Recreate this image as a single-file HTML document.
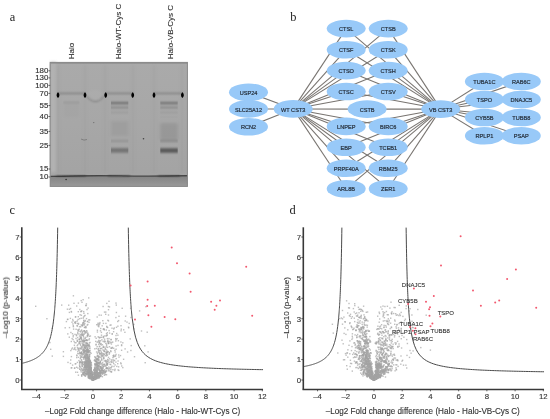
<!DOCTYPE html>
<html><head><meta charset='utf-8'><style>
html,body{margin:0;padding:0;background:#fff;width:550px;height:419px;overflow:hidden}
svg{display:block;will-change:transform}
</style></head><body>
<svg width='550' height='419' viewBox='0 0 550 419'>
<defs><filter id='gblur' x='0' y='0' width='100%' height='100%' filterUnits='userSpaceOnUse'><feGaussianBlur stdDeviation='0.3'/></filter></defs>
<g filter='url(#gblur)'>
<rect width='550' height='419' fill='#fff'/>
<text x='9.8' y='20.8' font-family='"Liberation Serif", serif' font-size='12.4' fill='#222'>a</text><text transform='translate(73.9,59.3) rotate(-90)' font-family='"Liberation Sans", sans-serif' font-size='8' fill='#333' stroke='#333' stroke-width='0.12'>Halo</text><text transform='translate(121.2,59.3) rotate(-90)' font-family='"Liberation Sans", sans-serif' font-size='8' fill='#333' stroke='#333' stroke-width='0.12'>Halo-WT-Cys C</text><text transform='translate(172.5,59.3) rotate(-90)' font-family='"Liberation Sans", sans-serif' font-size='8' fill='#333' stroke='#333' stroke-width='0.12'>Halo-VB-Cys C</text><defs><filter id='b1' x='-20%' y='-50%' width='140%' height='200%'><feGaussianBlur stdDeviation='0.9'/></filter><filter id='b2' x='-20%' y='-50%' width='140%' height='200%'><feGaussianBlur stdDeviation='1.6'/></filter><filter id='b3' x='-5%' y='-5%' width='110%' height='110%'><feGaussianBlur stdDeviation='0.45'/></filter><filter id='b5' x='-20%' y='-100%' width='140%' height='300%'><feGaussianBlur stdDeviation='0.7 1.0'/></filter><filter id='b4' x='-50%' y='-50%' width='200%' height='200%'><feGaussianBlur stdDeviation='0.35'/></filter><linearGradient id='botg' x1='0' y1='0' x2='0' y2='1'><stop offset='0' stop-color='#848484'/><stop offset='1' stop-color='#999'/></linearGradient><linearGradient id='gelg' x1='0' y1='0' x2='0' y2='1'><stop offset='0' stop-color='#aaaaaa'/><stop offset='0.5' stop-color='#a7a7a7'/><stop offset='1' stop-color='#a3a3a3'/></linearGradient></defs><g filter='url(#b3)'><rect x='50.2' y='62.4' width='137.2' height='124.0' fill='url(#gelg)'/><rect x='50.2' y='62.4' width='6' height='110.0' fill='#b2b2b2' filter='url(#b2)'/><g filter='url(#b2)' opacity='0.45'><rect x='57.2' y='65.4' width='1.6' height='108.0' fill='#9a9a9a'/><rect x='84.2' y='65.4' width='1.6' height='108.0' fill='#9a9a9a'/><rect x='104.2' y='65.4' width='1.6' height='108.0' fill='#9a9a9a'/><rect x='132.2' y='65.4' width='1.6' height='108.0' fill='#9a9a9a'/><rect x='153.2' y='65.4' width='1.6' height='108.0' fill='#9a9a9a'/><rect x='181.2' y='65.4' width='1.6' height='108.0' fill='#9a9a9a'/></g><rect x='50.2' y='176.4' width='137.2' height='10.0' fill='url(#botg)'/><path d='M50.2 176.4 Q90 175.4 120 175.9 T187.4 175.8' stroke='#444' stroke-width='1.4' fill='none'/><rect x='56' y='175.2' width='30' height='1.3' fill='#000' fill-opacity='0.35' filter='url(#b1)'/><rect x='108' y='175.2' width='22' height='1.3' fill='#000' fill-opacity='0.35' filter='url(#b1)'/><rect x='158' y='175.2' width='22' height='1.3' fill='#000' fill-opacity='0.35' filter='url(#b1)'/><rect x='50.2' y='62.4' width='137.2' height='1.6' fill='#000' fill-opacity='0.12'/><rect x='50.2' y='62.4' width='137.2' height='124.0' fill='none' stroke='#888' stroke-width='1'/></g><g filter='url(#b1)'><rect x='58' y='92.9' width='27' height='1' fill='#6a6a6a'/><rect x='105.7' y='92.9' width='26.999999999999986' height='1' fill='#6a6a6a'/><rect x='154' y='92.9' width='28.400000000000006' height='1' fill='#6a6a6a'/><ellipse cx='95' cy='95' rx='8' ry='5' fill='#fff' fill-opacity='0.035'/><path d='M87 96 Q95.5 106.5 103.5 96' stroke='#000' stroke-opacity='0.2' stroke-width='1.8' fill='none'/></g><g filter='url(#b4)'><path d='M58 92.3 C59.6 93.6 60.1 96.6 58 97.9 C55.9 96.6 56.4 93.6 58 92.3Z' fill='#000'/><path d='M85 92.3 C86.6 93.6 87.1 96.6 85 97.9 C82.9 96.6 83.4 93.6 85 92.3Z' fill='#000'/><path d='M105.7 92.3 C107.3 93.6 107.8 96.6 105.7 97.9 C103.60000000000001 96.6 104.10000000000001 93.6 105.7 92.3Z' fill='#000'/><path d='M132.7 92.3 C134.29999999999998 93.6 134.79999999999998 96.6 132.7 97.9 C130.6 96.6 131.1 93.6 132.7 92.3Z' fill='#000'/><path d='M154 92.3 C155.6 93.6 156.1 96.6 154 97.9 C151.9 96.6 152.4 93.6 154 92.3Z' fill='#000'/><path d='M182.4 92.3 C184.0 93.6 184.5 96.6 182.4 97.9 C180.3 96.6 180.8 93.6 182.4 92.3Z' fill='#000'/></g><g filter='url(#b5)'><rect x='63.4' y='101.9' width='15.899999999999999' height='1.2' fill='#000' fill-opacity='0.13'/><rect x='111' y='102.3' width='17.30000000000001' height='1.6' fill='#000' fill-opacity='0.46'/><rect x='111' y='106.85' width='17.30000000000001' height='1.3' fill='#000' fill-opacity='0.28'/><rect x='111' y='112.0' width='17.30000000000001' height='1.0' fill='#000' fill-opacity='0.13'/><rect x='111' y='140.15' width='17.30000000000001' height='1.5' fill='#000' fill-opacity='0.17'/><rect x='111' y='148.1' width='17.30000000000001' height='4.6' fill='#000' fill-opacity='0.3'/><rect x='160.3' y='102.3' width='17.399999999999977' height='1.6' fill='#000' fill-opacity='0.44'/><rect x='160.3' y='106.85' width='17.399999999999977' height='1.3' fill='#000' fill-opacity='0.28'/><rect x='160.3' y='112.0' width='17.399999999999977' height='1.0' fill='#000' fill-opacity='0.13'/><rect x='160.3' y='116.5' width='17.399999999999977' height='1.0' fill='#000' fill-opacity='0.06'/><rect x='160.3' y='140.1' width='17.399999999999977' height='1.6' fill='#000' fill-opacity='0.22'/><rect x='160.3' y='148.2' width='17.399999999999977' height='4.6' fill='#000' fill-opacity='0.46'/></g><g filter='url(#b2)'><rect x='64' y='103.0' width='15' height='14' fill='#000' fill-opacity='0.02'/><rect x='111' y='121.0' width='17.30000000000001' height='15' fill='#000' fill-opacity='0.05'/><rect x='160.3' y='123.0' width='17.399999999999977' height='17' fill='#000' fill-opacity='0.09'/></g><g filter='url(#b4)'><circle cx='143.5' cy='138.7' r='0.8' fill='#000' fill-opacity='0.6'/><circle cx='93.8' cy='122.6' r='0.6' fill='#000' fill-opacity='0.4'/><circle cx='66.1' cy='179.5' r='0.8' fill='#000' fill-opacity='0.7'/><path d='M81 139 Q84 141 87 139.5' stroke='#000' stroke-opacity='0.3' stroke-width='0.8' fill='none'/></g><text x='48.3' y='73.2' font-family='"Liberation Sans", sans-serif' font-size='7.9' fill='#333' stroke='#333' stroke-width='0.15' text-anchor='end'>180</text><line x1='48.5' y1='70.8' x2='50.2' y2='70.8' stroke='#444' stroke-width='0.8'/><text x='48.3' y='80.30000000000001' font-family='"Liberation Sans", sans-serif' font-size='7.9' fill='#333' stroke='#333' stroke-width='0.15' text-anchor='end'>130</text><line x1='48.5' y1='77.9' x2='50.2' y2='77.9' stroke='#444' stroke-width='0.8'/><text x='48.3' y='87.80000000000001' font-family='"Liberation Sans", sans-serif' font-size='7.9' fill='#333' stroke='#333' stroke-width='0.15' text-anchor='end'>100</text><line x1='48.5' y1='85.4' x2='50.2' y2='85.4' stroke='#444' stroke-width='0.8'/><text x='48.3' y='95.80000000000001' font-family='"Liberation Sans", sans-serif' font-size='7.9' fill='#333' stroke='#333' stroke-width='0.15' text-anchor='end'>70</text><line x1='48.5' y1='93.4' x2='50.2' y2='93.4' stroke='#444' stroke-width='0.8'/><text x='48.3' y='107.9' font-family='"Liberation Sans", sans-serif' font-size='7.9' fill='#333' stroke='#333' stroke-width='0.15' text-anchor='end'>55</text><line x1='48.5' y1='105.5' x2='50.2' y2='105.5' stroke='#444' stroke-width='0.8'/><text x='48.3' y='118.9' font-family='"Liberation Sans", sans-serif' font-size='7.9' fill='#333' stroke='#333' stroke-width='0.15' text-anchor='end'>40</text><line x1='48.5' y1='116.5' x2='50.2' y2='116.5' stroke='#444' stroke-width='0.8'/><text x='48.3' y='133.8' font-family='"Liberation Sans", sans-serif' font-size='7.9' fill='#333' stroke='#333' stroke-width='0.15' text-anchor='end'>35</text><line x1='48.5' y1='131.4' x2='50.2' y2='131.4' stroke='#444' stroke-width='0.8'/><text x='48.3' y='147.8' font-family='"Liberation Sans", sans-serif' font-size='7.9' fill='#333' stroke='#333' stroke-width='0.15' text-anchor='end'>25</text><line x1='48.5' y1='145.4' x2='50.2' y2='145.4' stroke='#444' stroke-width='0.8'/><text x='48.3' y='171.4' font-family='"Liberation Sans", sans-serif' font-size='7.9' fill='#333' stroke='#333' stroke-width='0.15' text-anchor='end'>15</text><line x1='48.5' y1='169' x2='50.2' y2='169' stroke='#444' stroke-width='0.8'/><text x='48.3' y='179.4' font-family='"Liberation Sans", sans-serif' font-size='7.9' fill='#333' stroke='#333' stroke-width='0.15' text-anchor='end'>10</text><line x1='48.5' y1='177' x2='50.2' y2='177' stroke='#444' stroke-width='0.8'/><text x='290.2' y='20.7' font-family='"Liberation Serif", serif' font-size='12.4' fill='#222'>b</text><g stroke='#787470' stroke-width='1.05'><line x1='293.2' y1='108.9' x2='248.5' y2='92.3'/><line x1='293.2' y1='108.9' x2='248.5' y2='108.9'/><line x1='293.2' y1='108.9' x2='248.5' y2='126.8'/><line x1='293.2' y1='108.9' x2='346.2' y2='28.6'/><line x1='293.2' y1='108.9' x2='346.2' y2='49.7'/><line x1='293.2' y1='108.9' x2='346.2' y2='70.6'/><line x1='293.2' y1='108.9' x2='346.2' y2='91.5'/><line x1='293.2' y1='108.9' x2='346.2' y2='126.4'/><line x1='293.2' y1='108.9' x2='346.2' y2='147.3'/><line x1='293.2' y1='108.9' x2='346.2' y2='168.2'/><line x1='293.2' y1='108.9' x2='346.2' y2='188.8'/><line x1='293.2' y1='108.9' x2='388.2' y2='28.6'/><line x1='293.2' y1='108.9' x2='388.2' y2='49.7'/><line x1='293.2' y1='108.9' x2='388.2' y2='70.6'/><line x1='293.2' y1='108.9' x2='388.2' y2='91.5'/><line x1='293.2' y1='108.9' x2='388.2' y2='126.4'/><line x1='293.2' y1='108.9' x2='388.2' y2='147.3'/><line x1='293.2' y1='108.9' x2='388.2' y2='168.2'/><line x1='293.2' y1='108.9' x2='388.2' y2='188.8'/><line x1='293.2' y1='108.9' x2='367.1' y2='109.1'/><line x1='440.7' y1='109.1' x2='346.2' y2='28.6'/><line x1='440.7' y1='109.1' x2='346.2' y2='49.7'/><line x1='440.7' y1='109.1' x2='346.2' y2='70.6'/><line x1='440.7' y1='109.1' x2='346.2' y2='91.5'/><line x1='440.7' y1='109.1' x2='346.2' y2='126.4'/><line x1='440.7' y1='109.1' x2='346.2' y2='147.3'/><line x1='440.7' y1='109.1' x2='346.2' y2='168.2'/><line x1='440.7' y1='109.1' x2='346.2' y2='188.8'/><line x1='440.7' y1='109.1' x2='388.2' y2='28.6'/><line x1='440.7' y1='109.1' x2='388.2' y2='49.7'/><line x1='440.7' y1='109.1' x2='388.2' y2='70.6'/><line x1='440.7' y1='109.1' x2='388.2' y2='91.5'/><line x1='440.7' y1='109.1' x2='388.2' y2='126.4'/><line x1='440.7' y1='109.1' x2='388.2' y2='147.3'/><line x1='440.7' y1='109.1' x2='388.2' y2='168.2'/><line x1='440.7' y1='109.1' x2='388.2' y2='188.8'/><line x1='440.7' y1='109.1' x2='367.1' y2='109.1'/><line x1='440.7' y1='109.1' x2='484.4' y2='81.5'/><line x1='440.7' y1='109.1' x2='484.4' y2='99.5'/><line x1='440.7' y1='109.1' x2='484.4' y2='117.5'/><line x1='440.7' y1='109.1' x2='484.4' y2='135.7'/><line x1='440.7' y1='109.1' x2='521.3' y2='81.5'/><line x1='440.7' y1='109.1' x2='521.3' y2='99.5'/><line x1='440.7' y1='109.1' x2='521.3' y2='117.5'/><line x1='440.7' y1='109.1' x2='521.3' y2='135.7'/></g><g fill='#98c9f8'><ellipse cx='293.2' cy='108.9' rx='19.5' ry='8.8'/><ellipse cx='440.7' cy='109.1' rx='19.5' ry='8.8'/><ellipse cx='248.5' cy='92.3' rx='19.5' ry='8.8'/><ellipse cx='248.5' cy='108.9' rx='19.5' ry='8.8'/><ellipse cx='248.5' cy='126.8' rx='19.5' ry='8.8'/><ellipse cx='346.2' cy='28.6' rx='19.5' ry='8.8'/><ellipse cx='346.2' cy='49.7' rx='19.5' ry='8.8'/><ellipse cx='346.2' cy='70.6' rx='19.5' ry='8.8'/><ellipse cx='346.2' cy='91.5' rx='19.5' ry='8.8'/><ellipse cx='346.2' cy='126.4' rx='19.5' ry='8.8'/><ellipse cx='346.2' cy='147.3' rx='19.5' ry='8.8'/><ellipse cx='346.2' cy='168.2' rx='19.5' ry='8.8'/><ellipse cx='346.2' cy='188.8' rx='19.5' ry='8.8'/><ellipse cx='388.2' cy='28.6' rx='19.5' ry='8.8'/><ellipse cx='388.2' cy='49.7' rx='19.5' ry='8.8'/><ellipse cx='388.2' cy='70.6' rx='19.5' ry='8.8'/><ellipse cx='388.2' cy='91.5' rx='19.5' ry='8.8'/><ellipse cx='388.2' cy='126.4' rx='19.5' ry='8.8'/><ellipse cx='388.2' cy='147.3' rx='19.5' ry='8.8'/><ellipse cx='388.2' cy='168.2' rx='19.5' ry='8.8'/><ellipse cx='388.2' cy='188.8' rx='19.5' ry='8.8'/><ellipse cx='367.1' cy='109.1' rx='19.5' ry='8.8'/><ellipse cx='484.4' cy='81.5' rx='19.5' ry='8.8'/><ellipse cx='484.4' cy='99.5' rx='19.5' ry='8.8'/><ellipse cx='484.4' cy='117.5' rx='19.5' ry='8.8'/><ellipse cx='484.4' cy='135.7' rx='19.5' ry='8.8'/><ellipse cx='521.3' cy='81.5' rx='19.5' ry='8.8'/><ellipse cx='521.3' cy='99.5' rx='19.5' ry='8.8'/><ellipse cx='521.3' cy='117.5' rx='19.5' ry='8.8'/><ellipse cx='521.3' cy='135.7' rx='19.5' ry='8.8'/></g><g font-family='"Liberation Sans", sans-serif' font-size='5.6' fill='#26303c' stroke='#26303c' stroke-width='0.2' text-anchor='middle'><text x='293.2' y='111.5'>WT CST3</text><text x='440.7' y='111.69999999999999'>VB CST3</text><text x='248.5' y='94.89999999999999'>USP24</text><text x='248.5' y='111.5'>SLC25A12</text><text x='248.5' y='129.4'>RCN2</text><text x='346.2' y='31.200000000000003'>CTSL</text><text x='346.2' y='52.300000000000004'>CTSF</text><text x='346.2' y='73.19999999999999'>CTSO</text><text x='346.2' y='94.1'>CTSC</text><text x='346.2' y='129.0'>LNPEP</text><text x='346.2' y='149.9'>EBP</text><text x='346.2' y='170.79999999999998'>PRPF40A</text><text x='346.2' y='191.4'>ARL8B</text><text x='388.2' y='31.200000000000003'>CTSB</text><text x='388.2' y='52.300000000000004'>CTSK</text><text x='388.2' y='73.19999999999999'>CTSH</text><text x='388.2' y='94.1'>CTSV</text><text x='388.2' y='129.0'>BIRC6</text><text x='388.2' y='149.9'>TCEB1</text><text x='388.2' y='170.79999999999998'>RBM25</text><text x='388.2' y='191.4'>ZER1</text><text x='367.1' y='111.69999999999999'>CSTB</text><text x='484.4' y='84.1'>TUBA1C</text><text x='484.4' y='102.1'>TSPO</text><text x='484.4' y='120.1'>CYB5B</text><text x='484.4' y='138.29999999999998'>RPLP1</text><text x='521.3' y='84.1'>RAB6C</text><text x='521.3' y='102.1'>DNAJC5</text><text x='521.3' y='120.1'>TUBB8</text><text x='521.3' y='138.29999999999998'>PSAP</text></g><text x='9.4' y='214.0' font-family='"Liberation Serif", serif' font-size='12.4' fill='#222'>c</text><g fill='#a4a4a4' fill-opacity='0.7'><rect x='108.8' y='346.0' width='1.4' height='1.4'/><rect x='91.2' y='373.8' width='1.4' height='1.4'/><rect x='99.2' y='342.5' width='1.4' height='1.4'/><rect x='84.5' y='365.3' width='1.4' height='1.4'/><rect x='88.7' y='354.7' width='1.4' height='1.4'/><rect x='72.5' y='336.1' width='1.4' height='1.4'/><rect x='88.1' y='375.0' width='1.4' height='1.4'/><rect x='85.1' y='304.8' width='1.4' height='1.4'/><rect x='89.0' y='372.2' width='1.4' height='1.4'/><rect x='89.8' y='372.1' width='1.4' height='1.4'/><rect x='126.3' y='321.4' width='1.4' height='1.4'/><rect x='102.4' y='305.8' width='1.4' height='1.4'/><rect x='85.5' y='363.2' width='1.4' height='1.4'/><rect x='87.4' y='359.9' width='1.4' height='1.4'/><rect x='79.3' y='330.7' width='1.4' height='1.4'/><rect x='81.2' y='351.1' width='1.4' height='1.4'/><rect x='88.3' y='321.6' width='1.4' height='1.4'/><rect x='84.8' y='349.9' width='1.4' height='1.4'/><rect x='86.8' y='361.6' width='1.4' height='1.4'/><rect x='89.8' y='374.9' width='1.4' height='1.4'/><rect x='88.6' y='373.9' width='1.4' height='1.4'/><rect x='77.3' y='329.2' width='1.4' height='1.4'/><rect x='95.4' y='377.3' width='1.4' height='1.4'/><rect x='101.0' y='370.0' width='1.4' height='1.4'/><rect x='127.8' y='326.5' width='1.4' height='1.4'/><rect x='74.9' y='316.0' width='1.4' height='1.4'/><rect x='88.1' y='365.8' width='1.4' height='1.4'/><rect x='115.4' y='338.9' width='1.4' height='1.4'/><rect x='102.6' y='346.7' width='1.4' height='1.4'/><rect x='97.3' y='374.3' width='1.4' height='1.4'/><rect x='96.8' y='368.2' width='1.4' height='1.4'/><rect x='110.6' y='371.2' width='1.4' height='1.4'/><rect x='80.2' y='348.0' width='1.4' height='1.4'/><rect x='88.6' y='374.3' width='1.4' height='1.4'/><rect x='90.6' y='370.3' width='1.4' height='1.4'/><rect x='90.7' y='366.7' width='1.4' height='1.4'/><rect x='91.1' y='376.9' width='1.4' height='1.4'/><rect x='90.4' y='373.2' width='1.4' height='1.4'/><rect x='100.0' y='327.8' width='1.4' height='1.4'/><rect x='98.1' y='326.0' width='1.4' height='1.4'/><rect x='97.0' y='375.9' width='1.4' height='1.4'/><rect x='91.7' y='377.4' width='1.4' height='1.4'/><rect x='88.8' y='368.1' width='1.4' height='1.4'/><rect x='82.2' y='342.5' width='1.4' height='1.4'/><rect x='98.5' y='314.4' width='1.4' height='1.4'/><rect x='95.0' y='373.7' width='1.4' height='1.4'/><rect x='86.3' y='330.5' width='1.4' height='1.4'/><rect x='89.8' y='371.1' width='1.4' height='1.4'/><rect x='89.5' y='376.6' width='1.4' height='1.4'/><rect x='88.4' y='344.7' width='1.4' height='1.4'/><rect x='114.2' y='349.6' width='1.4' height='1.4'/><rect x='72.0' y='318.8' width='1.4' height='1.4'/><rect x='110.3' y='324.3' width='1.4' height='1.4'/><rect x='94.2' y='373.6' width='1.4' height='1.4'/><rect x='87.4' y='352.3' width='1.4' height='1.4'/><rect x='87.1' y='364.5' width='1.4' height='1.4'/><rect x='95.3' y='344.3' width='1.4' height='1.4'/><rect x='101.8' y='354.1' width='1.4' height='1.4'/><rect x='99.8' y='370.4' width='1.4' height='1.4'/><rect x='86.7' y='363.2' width='1.4' height='1.4'/><rect x='78.2' y='348.9' width='1.4' height='1.4'/><rect x='87.7' y='366.7' width='1.4' height='1.4'/><rect x='91.9' y='378.7' width='1.4' height='1.4'/><rect x='81.1' y='310.2' width='1.4' height='1.4'/><rect x='75.1' y='349.1' width='1.4' height='1.4'/><rect x='72.7' y='326.0' width='1.4' height='1.4'/><rect x='76.6' y='322.8' width='1.4' height='1.4'/><rect x='84.3' y='314.7' width='1.4' height='1.4'/><rect x='93.1' y='369.0' width='1.4' height='1.4'/><rect x='90.4' y='352.6' width='1.4' height='1.4'/><rect x='100.8' y='358.0' width='1.4' height='1.4'/><rect x='93.0' y='377.9' width='1.4' height='1.4'/><rect x='89.2' y='365.3' width='1.4' height='1.4'/><rect x='98.9' y='369.4' width='1.4' height='1.4'/><rect x='88.4' y='372.0' width='1.4' height='1.4'/><rect x='65.7' y='320.9' width='1.4' height='1.4'/><rect x='81.8' y='331.4' width='1.4' height='1.4'/><rect x='90.3' y='367.9' width='1.4' height='1.4'/><rect x='91.3' y='372.2' width='1.4' height='1.4'/><rect x='85.8' y='353.8' width='1.4' height='1.4'/><rect x='85.2' y='364.9' width='1.4' height='1.4'/><rect x='87.2' y='371.3' width='1.4' height='1.4'/><rect x='94.4' y='375.8' width='1.4' height='1.4'/><rect x='92.0' y='378.4' width='1.4' height='1.4'/><rect x='102.8' y='357.0' width='1.4' height='1.4'/><rect x='88.0' y='367.5' width='1.4' height='1.4'/><rect x='92.5' y='378.3' width='1.4' height='1.4'/><rect x='80.9' y='329.3' width='1.4' height='1.4'/><rect x='102.5' y='367.6' width='1.4' height='1.4'/><rect x='105.9' y='344.8' width='1.4' height='1.4'/><rect x='85.3' y='361.1' width='1.4' height='1.4'/><rect x='102.7' y='370.3' width='1.4' height='1.4'/><rect x='90.0' y='376.0' width='1.4' height='1.4'/><rect x='98.0' y='356.1' width='1.4' height='1.4'/><rect x='91.9' y='377.7' width='1.4' height='1.4'/><rect x='90.3' y='369.5' width='1.4' height='1.4'/><rect x='91.7' y='378.3' width='1.4' height='1.4'/><rect x='84.7' y='360.3' width='1.4' height='1.4'/><rect x='95.9' y='370.6' width='1.4' height='1.4'/><rect x='91.6' y='378.4' width='1.4' height='1.4'/><rect x='77.7' y='347.6' width='1.4' height='1.4'/><rect x='92.0' y='378.5' width='1.4' height='1.4'/><rect x='96.1' y='363.4' width='1.4' height='1.4'/><rect x='140.8' y='330.3' width='1.4' height='1.4'/><rect x='79.3' y='340.8' width='1.4' height='1.4'/><rect x='88.7' y='368.3' width='1.4' height='1.4'/><rect x='83.8' y='351.1' width='1.4' height='1.4'/><rect x='91.2' y='374.6' width='1.4' height='1.4'/><rect x='82.0' y='334.3' width='1.4' height='1.4'/><rect x='105.0' y='313.6' width='1.4' height='1.4'/><rect x='97.3' y='375.4' width='1.4' height='1.4'/><rect x='104.2' y='346.5' width='1.4' height='1.4'/><rect x='95.1' y='376.6' width='1.4' height='1.4'/><rect x='89.7' y='368.8' width='1.4' height='1.4'/><rect x='108.2' y='370.2' width='1.4' height='1.4'/><rect x='89.0' y='368.1' width='1.4' height='1.4'/><rect x='85.6' y='370.6' width='1.4' height='1.4'/><rect x='86.1' y='368.7' width='1.4' height='1.4'/><rect x='95.4' y='368.6' width='1.4' height='1.4'/><rect x='85.2' y='327.1' width='1.4' height='1.4'/><rect x='93.2' y='374.1' width='1.4' height='1.4'/><rect x='88.9' y='366.0' width='1.4' height='1.4'/><rect x='93.1' y='377.2' width='1.4' height='1.4'/><rect x='99.0' y='372.8' width='1.4' height='1.4'/><rect x='97.4' y='358.2' width='1.4' height='1.4'/><rect x='89.2' y='369.7' width='1.4' height='1.4'/><rect x='80.2' y='337.5' width='1.4' height='1.4'/><rect x='83.9' y='344.4' width='1.4' height='1.4'/><rect x='91.1' y='377.0' width='1.4' height='1.4'/><rect x='109.6' y='342.1' width='1.4' height='1.4'/><rect x='89.5' y='371.8' width='1.4' height='1.4'/><rect x='76.5' y='344.9' width='1.4' height='1.4'/><rect x='91.9' y='377.9' width='1.4' height='1.4'/><rect x='105.8' y='333.0' width='1.4' height='1.4'/><rect x='88.2' y='363.2' width='1.4' height='1.4'/><rect x='80.4' y='336.5' width='1.4' height='1.4'/><rect x='106.9' y='362.7' width='1.4' height='1.4'/><rect x='87.7' y='370.0' width='1.4' height='1.4'/><rect x='80.9' y='346.3' width='1.4' height='1.4'/><rect x='96.7' y='368.9' width='1.4' height='1.4'/><rect x='102.7' y='345.7' width='1.4' height='1.4'/><rect x='88.0' y='365.2' width='1.4' height='1.4'/><rect x='89.2' y='374.0' width='1.4' height='1.4'/><rect x='96.4' y='355.5' width='1.4' height='1.4'/><rect x='113.6' y='327.3' width='1.4' height='1.4'/><rect x='97.3' y='351.7' width='1.4' height='1.4'/><rect x='110.0' y='363.8' width='1.4' height='1.4'/><rect x='96.0' y='324.0' width='1.4' height='1.4'/><rect x='103.6' y='360.2' width='1.4' height='1.4'/><rect x='86.2' y='356.2' width='1.4' height='1.4'/><rect x='82.0' y='356.7' width='1.4' height='1.4'/><rect x='77.2' y='343.9' width='1.4' height='1.4'/><rect x='81.4' y='334.0' width='1.4' height='1.4'/><rect x='91.1' y='374.9' width='1.4' height='1.4'/><rect x='106.2' y='363.9' width='1.4' height='1.4'/><rect x='98.7' y='365.6' width='1.4' height='1.4'/><rect x='97.5' y='367.9' width='1.4' height='1.4'/><rect x='89.0' y='365.8' width='1.4' height='1.4'/><rect x='90.0' y='369.1' width='1.4' height='1.4'/><rect x='91.6' y='377.0' width='1.4' height='1.4'/><rect x='100.3' y='367.1' width='1.4' height='1.4'/><rect x='108.3' y='337.9' width='1.4' height='1.4'/><rect x='85.4' y='359.6' width='1.4' height='1.4'/><rect x='71.0' y='348.4' width='1.4' height='1.4'/><rect x='66.8' y='318.8' width='1.4' height='1.4'/><rect x='83.8' y='362.3' width='1.4' height='1.4'/><rect x='92.0' y='378.5' width='1.4' height='1.4'/><rect x='85.9' y='365.2' width='1.4' height='1.4'/><rect x='96.2' y='357.3' width='1.4' height='1.4'/><rect x='85.8' y='317.9' width='1.4' height='1.4'/><rect x='88.0' y='350.3' width='1.4' height='1.4'/><rect x='87.8' y='357.9' width='1.4' height='1.4'/><rect x='75.3' y='337.8' width='1.4' height='1.4'/><rect x='94.3' y='372.5' width='1.4' height='1.4'/><rect x='91.8' y='377.3' width='1.4' height='1.4'/><rect x='91.2' y='377.1' width='1.4' height='1.4'/><rect x='79.6' y='337.3' width='1.4' height='1.4'/><rect x='87.9' y='350.8' width='1.4' height='1.4'/><rect x='85.6' y='372.2' width='1.4' height='1.4'/><rect x='91.4' y='376.7' width='1.4' height='1.4'/><rect x='81.3' y='355.2' width='1.4' height='1.4'/><rect x='84.8' y='361.6' width='1.4' height='1.4'/><rect x='106.9' y='346.7' width='1.4' height='1.4'/><rect x='87.6' y='364.2' width='1.4' height='1.4'/><rect x='92.6' y='378.9' width='1.4' height='1.4'/><rect x='100.5' y='344.3' width='1.4' height='1.4'/><rect x='91.7' y='378.4' width='1.4' height='1.4'/><rect x='91.7' y='378.1' width='1.4' height='1.4'/><rect x='86.3' y='308.9' width='1.4' height='1.4'/><rect x='87.4' y='365.3' width='1.4' height='1.4'/><rect x='97.5' y='358.7' width='1.4' height='1.4'/><rect x='102.2' y='349.2' width='1.4' height='1.4'/><rect x='90.8' y='376.4' width='1.4' height='1.4'/><rect x='81.5' y='324.8' width='1.4' height='1.4'/><rect x='76.9' y='336.9' width='1.4' height='1.4'/><rect x='100.1' y='372.0' width='1.4' height='1.4'/><rect x='81.3' y='301.6' width='1.4' height='1.4'/><rect x='72.4' y='338.9' width='1.4' height='1.4'/><rect x='86.2' y='366.5' width='1.4' height='1.4'/><rect x='89.4' y='371.4' width='1.4' height='1.4'/><rect x='88.2' y='367.7' width='1.4' height='1.4'/><rect x='95.1' y='377.3' width='1.4' height='1.4'/><rect x='97.0' y='361.4' width='1.4' height='1.4'/><rect x='115.6' y='304.4' width='1.4' height='1.4'/><rect x='102.0' y='369.7' width='1.4' height='1.4'/><rect x='88.6' y='374.2' width='1.4' height='1.4'/><rect x='91.9' y='376.9' width='1.4' height='1.4'/><rect x='88.7' y='361.5' width='1.4' height='1.4'/><rect x='86.7' y='360.4' width='1.4' height='1.4'/><rect x='90.3' y='372.4' width='1.4' height='1.4'/><rect x='90.3' y='362.2' width='1.4' height='1.4'/><rect x='91.5' y='378.1' width='1.4' height='1.4'/><rect x='91.2' y='374.8' width='1.4' height='1.4'/><rect x='78.8' y='335.3' width='1.4' height='1.4'/><rect x='91.0' y='377.0' width='1.4' height='1.4'/><rect x='95.3' y='365.2' width='1.4' height='1.4'/><rect x='90.4' y='372.1' width='1.4' height='1.4'/><rect x='74.0' y='348.1' width='1.4' height='1.4'/><rect x='89.5' y='364.2' width='1.4' height='1.4'/><rect x='72.6' y='334.7' width='1.4' height='1.4'/><rect x='106.7' y='354.7' width='1.4' height='1.4'/><rect x='84.1' y='355.5' width='1.4' height='1.4'/><rect x='91.8' y='377.5' width='1.4' height='1.4'/><rect x='92.5' y='378.7' width='1.4' height='1.4'/><rect x='146.5' y='331.5' width='1.4' height='1.4'/><rect x='89.0' y='354.0' width='1.4' height='1.4'/><rect x='107.8' y='320.2' width='1.4' height='1.4'/><rect x='86.7' y='350.5' width='1.4' height='1.4'/><rect x='100.7' y='372.0' width='1.4' height='1.4'/><rect x='85.7' y='364.9' width='1.4' height='1.4'/><rect x='83.5' y='346.6' width='1.4' height='1.4'/><rect x='86.4' y='363.4' width='1.4' height='1.4'/><rect x='83.9' y='330.4' width='1.4' height='1.4'/><rect x='84.6' y='363.9' width='1.4' height='1.4'/><rect x='90.8' y='374.7' width='1.4' height='1.4'/><rect x='85.5' y='304.8' width='1.4' height='1.4'/><rect x='89.3' y='341.8' width='1.4' height='1.4'/><rect x='89.8' y='374.8' width='1.4' height='1.4'/><rect x='83.3' y='320.5' width='1.4' height='1.4'/><rect x='94.4' y='375.8' width='1.4' height='1.4'/><rect x='95.7' y='365.4' width='1.4' height='1.4'/><rect x='99.7' y='361.6' width='1.4' height='1.4'/><rect x='84.7' y='361.4' width='1.4' height='1.4'/><rect x='97.6' y='364.5' width='1.4' height='1.4'/><rect x='104.5' y='340.7' width='1.4' height='1.4'/><rect x='97.9' y='362.3' width='1.4' height='1.4'/><rect x='77.4' y='318.8' width='1.4' height='1.4'/><rect x='79.9' y='344.7' width='1.4' height='1.4'/><rect x='67.1' y='333.2' width='1.4' height='1.4'/><rect x='94.0' y='370.5' width='1.4' height='1.4'/><rect x='96.3' y='372.0' width='1.4' height='1.4'/><rect x='100.2' y='348.1' width='1.4' height='1.4'/><rect x='81.1' y='362.3' width='1.4' height='1.4'/><rect x='95.9' y='378.0' width='1.4' height='1.4'/><rect x='82.2' y='322.7' width='1.4' height='1.4'/><rect x='88.8' y='360.1' width='1.4' height='1.4'/><rect x='110.0' y='350.1' width='1.4' height='1.4'/><rect x='124.2' y='331.6' width='1.4' height='1.4'/><rect x='87.0' y='344.8' width='1.4' height='1.4'/><rect x='93.1' y='369.9' width='1.4' height='1.4'/><rect x='86.2' y='339.4' width='1.4' height='1.4'/><rect x='82.8' y='353.1' width='1.4' height='1.4'/><rect x='85.4' y='352.5' width='1.4' height='1.4'/><rect x='108.8' y='306.2' width='1.4' height='1.4'/><rect x='87.7' y='373.3' width='1.4' height='1.4'/><rect x='97.0' y='373.4' width='1.4' height='1.4'/><rect x='87.4' y='372.3' width='1.4' height='1.4'/><rect x='147.4' y='351.2' width='1.4' height='1.4'/><rect x='77.1' y='350.9' width='1.4' height='1.4'/><rect x='88.8' y='367.1' width='1.4' height='1.4'/><rect x='91.9' y='378.7' width='1.4' height='1.4'/><rect x='76.2' y='355.1' width='1.4' height='1.4'/><rect x='110.9' y='341.7' width='1.4' height='1.4'/><rect x='86.3' y='353.7' width='1.4' height='1.4'/><rect x='85.4' y='359.3' width='1.4' height='1.4'/><rect x='96.4' y='362.3' width='1.4' height='1.4'/><rect x='91.3' y='376.8' width='1.4' height='1.4'/><rect x='94.6' y='377.0' width='1.4' height='1.4'/><rect x='87.7' y='371.7' width='1.4' height='1.4'/><rect x='108.5' y='353.5' width='1.4' height='1.4'/><rect x='100.8' y='352.3' width='1.4' height='1.4'/><rect x='94.8' y='375.4' width='1.4' height='1.4'/><rect x='102.4' y='340.7' width='1.4' height='1.4'/><rect x='85.3' y='342.0' width='1.4' height='1.4'/><rect x='79.6' y='357.9' width='1.4' height='1.4'/><rect x='83.3' y='323.7' width='1.4' height='1.4'/><rect x='108.4' y='329.9' width='1.4' height='1.4'/><rect x='113.1' y='356.1' width='1.4' height='1.4'/><rect x='100.9' y='362.9' width='1.4' height='1.4'/><rect x='91.6' y='378.5' width='1.4' height='1.4'/><rect x='95.1' y='369.8' width='1.4' height='1.4'/><rect x='90.0' y='376.9' width='1.4' height='1.4'/><rect x='86.0' y='365.3' width='1.4' height='1.4'/><rect x='95.2' y='374.9' width='1.4' height='1.4'/><rect x='93.1' y='378.7' width='1.4' height='1.4'/><rect x='78.5' y='341.7' width='1.4' height='1.4'/><rect x='91.4' y='373.9' width='1.4' height='1.4'/><rect x='92.3' y='379.2' width='1.4' height='1.4'/><rect x='90.6' y='373.8' width='1.4' height='1.4'/><rect x='84.0' y='365.1' width='1.4' height='1.4'/><rect x='92.6' y='377.1' width='1.4' height='1.4'/><rect x='103.7' y='341.3' width='1.4' height='1.4'/><rect x='89.3' y='368.1' width='1.4' height='1.4'/><rect x='89.0' y='360.2' width='1.4' height='1.4'/><rect x='104.5' y='348.5' width='1.4' height='1.4'/><rect x='84.2' y='366.9' width='1.4' height='1.4'/><rect x='91.3' y='377.1' width='1.4' height='1.4'/><rect x='93.6' y='359.7' width='1.4' height='1.4'/><rect x='97.2' y='366.7' width='1.4' height='1.4'/><rect x='98.6' y='349.7' width='1.4' height='1.4'/><rect x='90.2' y='373.4' width='1.4' height='1.4'/><rect x='84.8' y='347.9' width='1.4' height='1.4'/><rect x='85.6' y='343.3' width='1.4' height='1.4'/><rect x='87.0' y='360.6' width='1.4' height='1.4'/><rect x='92.3' y='379.2' width='1.4' height='1.4'/><rect x='93.2' y='375.9' width='1.4' height='1.4'/><rect x='105.7' y='367.4' width='1.4' height='1.4'/><rect x='99.7' y='371.8' width='1.4' height='1.4'/><rect x='88.3' y='366.5' width='1.4' height='1.4'/><rect x='103.3' y='350.6' width='1.4' height='1.4'/><rect x='87.9' y='344.2' width='1.4' height='1.4'/><rect x='90.6' y='376.5' width='1.4' height='1.4'/><rect x='88.0' y='361.3' width='1.4' height='1.4'/><rect x='64.5' y='327.1' width='1.4' height='1.4'/><rect x='90.8' y='370.9' width='1.4' height='1.4'/><rect x='87.8' y='369.2' width='1.4' height='1.4'/><rect x='113.0' y='362.9' width='1.4' height='1.4'/><rect x='92.1' y='378.9' width='1.4' height='1.4'/><rect x='91.1' y='378.4' width='1.4' height='1.4'/><rect x='85.7' y='367.9' width='1.4' height='1.4'/><rect x='88.4' y='373.4' width='1.4' height='1.4'/><rect x='89.3' y='366.8' width='1.4' height='1.4'/><rect x='95.4' y='358.5' width='1.4' height='1.4'/><rect x='77.0' y='340.6' width='1.4' height='1.4'/><rect x='90.5' y='375.7' width='1.4' height='1.4'/><rect x='95.5' y='371.4' width='1.4' height='1.4'/><rect x='85.6' y='361.9' width='1.4' height='1.4'/><rect x='98.4' y='336.7' width='1.4' height='1.4'/><rect x='79.9' y='334.2' width='1.4' height='1.4'/><rect x='76.1' y='354.4' width='1.4' height='1.4'/><rect x='97.6' y='362.6' width='1.4' height='1.4'/><rect x='93.8' y='368.9' width='1.4' height='1.4'/><rect x='92.2' y='379.1' width='1.4' height='1.4'/><rect x='106.7' y='337.9' width='1.4' height='1.4'/><rect x='90.8' y='364.8' width='1.4' height='1.4'/><rect x='89.0' y='353.4' width='1.4' height='1.4'/><rect x='91.3' y='376.9' width='1.4' height='1.4'/><rect x='91.4' y='377.0' width='1.4' height='1.4'/><rect x='107.1' y='358.7' width='1.4' height='1.4'/><rect x='91.6' y='378.3' width='1.4' height='1.4'/><rect x='115.8' y='326.6' width='1.4' height='1.4'/><rect x='92.8' y='378.1' width='1.4' height='1.4'/><rect x='89.2' y='349.7' width='1.4' height='1.4'/><rect x='105.8' y='353.5' width='1.4' height='1.4'/><rect x='86.4' y='353.5' width='1.4' height='1.4'/><rect x='90.8' y='377.1' width='1.4' height='1.4'/><rect x='91.1' y='377.9' width='1.4' height='1.4'/><rect x='97.6' y='376.1' width='1.4' height='1.4'/><rect x='87.4' y='362.6' width='1.4' height='1.4'/><rect x='75.1' y='321.0' width='1.4' height='1.4'/><rect x='97.0' y='365.3' width='1.4' height='1.4'/><rect x='91.0' y='371.1' width='1.4' height='1.4'/><rect x='97.8' y='364.6' width='1.4' height='1.4'/><rect x='133.4' y='328.3' width='1.4' height='1.4'/><rect x='89.0' y='367.2' width='1.4' height='1.4'/><rect x='85.5' y='362.6' width='1.4' height='1.4'/><rect x='115.4' y='348.5' width='1.4' height='1.4'/><rect x='88.0' y='363.4' width='1.4' height='1.4'/><rect x='103.0' y='370.1' width='1.4' height='1.4'/><rect x='124.5' y='320.3' width='1.4' height='1.4'/><rect x='107.8' y='342.6' width='1.4' height='1.4'/><rect x='85.7' y='353.9' width='1.4' height='1.4'/><rect x='92.3' y='379.2' width='1.4' height='1.4'/><rect x='90.9' y='377.4' width='1.4' height='1.4'/><rect x='88.2' y='360.5' width='1.4' height='1.4'/><rect x='87.1' y='323.8' width='1.4' height='1.4'/><rect x='86.9' y='357.0' width='1.4' height='1.4'/><rect x='102.1' y='320.0' width='1.4' height='1.4'/><rect x='77.3' y='348.3' width='1.4' height='1.4'/><rect x='93.0' y='378.8' width='1.4' height='1.4'/><rect x='78.3' y='333.3' width='1.4' height='1.4'/><rect x='78.5' y='328.5' width='1.4' height='1.4'/><rect x='91.5' y='377.9' width='1.4' height='1.4'/><rect x='89.5' y='366.0' width='1.4' height='1.4'/><rect x='124.9' y='315.5' width='1.4' height='1.4'/><rect x='106.6' y='350.6' width='1.4' height='1.4'/><rect x='85.7' y='339.7' width='1.4' height='1.4'/><rect x='91.1' y='371.5' width='1.4' height='1.4'/><rect x='88.5' y='374.2' width='1.4' height='1.4'/><rect x='88.9' y='368.9' width='1.4' height='1.4'/><rect x='97.0' y='364.6' width='1.4' height='1.4'/><rect x='98.5' y='359.2' width='1.4' height='1.4'/><rect x='118.3' y='315.6' width='1.4' height='1.4'/><rect x='87.5' y='363.4' width='1.4' height='1.4'/><rect x='94.1' y='348.1' width='1.4' height='1.4'/><rect x='83.2' y='340.4' width='1.4' height='1.4'/><rect x='112.3' y='358.9' width='1.4' height='1.4'/><rect x='98.8' y='337.2' width='1.4' height='1.4'/><rect x='92.2' y='378.8' width='1.4' height='1.4'/><rect x='95.9' y='369.8' width='1.4' height='1.4'/><rect x='94.1' y='368.3' width='1.4' height='1.4'/><rect x='90.8' y='377.0' width='1.4' height='1.4'/><rect x='70.8' y='311.3' width='1.4' height='1.4'/><rect x='82.2' y='330.6' width='1.4' height='1.4'/><rect x='91.3' y='377.0' width='1.4' height='1.4'/><rect x='102.9' y='358.1' width='1.4' height='1.4'/><rect x='87.7' y='363.7' width='1.4' height='1.4'/><rect x='90.8' y='374.9' width='1.4' height='1.4'/><rect x='86.9' y='366.7' width='1.4' height='1.4'/><rect x='112.4' y='355.0' width='1.4' height='1.4'/><rect x='103.7' y='363.9' width='1.4' height='1.4'/><rect x='100.0' y='350.0' width='1.4' height='1.4'/><rect x='78.9' y='318.0' width='1.4' height='1.4'/><rect x='83.1' y='321.7' width='1.4' height='1.4'/><rect x='73.3' y='302.6' width='1.4' height='1.4'/><rect x='105.8' y='343.5' width='1.4' height='1.4'/><rect x='77.7' y='329.4' width='1.4' height='1.4'/><rect x='95.4' y='367.8' width='1.4' height='1.4'/><rect x='88.6' y='362.4' width='1.4' height='1.4'/><rect x='95.9' y='372.3' width='1.4' height='1.4'/><rect x='85.3' y='367.1' width='1.4' height='1.4'/><rect x='101.9' y='355.4' width='1.4' height='1.4'/><rect x='85.6' y='368.3' width='1.4' height='1.4'/><rect x='86.5' y='364.3' width='1.4' height='1.4'/><rect x='115.4' y='345.3' width='1.4' height='1.4'/><rect x='100.6' y='354.5' width='1.4' height='1.4'/><rect x='83.6' y='355.9' width='1.4' height='1.4'/><rect x='111.3' y='327.5' width='1.4' height='1.4'/><rect x='94.4' y='372.0' width='1.4' height='1.4'/><rect x='123.0' y='329.1' width='1.4' height='1.4'/><rect x='81.5' y='352.9' width='1.4' height='1.4'/><rect x='84.7' y='359.1' width='1.4' height='1.4'/><rect x='105.5' y='351.4' width='1.4' height='1.4'/><rect x='85.1' y='344.9' width='1.4' height='1.4'/><rect x='93.9' y='367.0' width='1.4' height='1.4'/><rect x='85.2' y='356.6' width='1.4' height='1.4'/><rect x='95.8' y='374.2' width='1.4' height='1.4'/><rect x='89.3' y='368.9' width='1.4' height='1.4'/><rect x='91.4' y='376.1' width='1.4' height='1.4'/><rect x='97.0' y='354.8' width='1.4' height='1.4'/><rect x='97.8' y='350.1' width='1.4' height='1.4'/><rect x='91.4' y='375.9' width='1.4' height='1.4'/><rect x='91.8' y='377.9' width='1.4' height='1.4'/><rect x='93.4' y='373.9' width='1.4' height='1.4'/><rect x='101.2' y='367.8' width='1.4' height='1.4'/><rect x='88.6' y='375.5' width='1.4' height='1.4'/><rect x='121.0' y='365.3' width='1.4' height='1.4'/><rect x='100.0' y='356.5' width='1.4' height='1.4'/><rect x='80.0' y='326.1' width='1.4' height='1.4'/><rect x='96.7' y='329.6' width='1.4' height='1.4'/><rect x='91.0' y='373.6' width='1.4' height='1.4'/><rect x='83.6' y='340.7' width='1.4' height='1.4'/><rect x='85.0' y='353.6' width='1.4' height='1.4'/><rect x='86.7' y='350.8' width='1.4' height='1.4'/><rect x='104.7' y='348.0' width='1.4' height='1.4'/><rect x='83.5' y='350.6' width='1.4' height='1.4'/><rect x='115.1' y='340.3' width='1.4' height='1.4'/><rect x='98.3' y='375.1' width='1.4' height='1.4'/><rect x='88.5' y='356.0' width='1.4' height='1.4'/><rect x='112.0' y='341.4' width='1.4' height='1.4'/><rect x='100.8' y='334.5' width='1.4' height='1.4'/><rect x='86.8' y='370.7' width='1.4' height='1.4'/><rect x='99.7' y='370.2' width='1.4' height='1.4'/><rect x='77.1' y='352.8' width='1.4' height='1.4'/><rect x='87.7' y='360.5' width='1.4' height='1.4'/><rect x='81.9' y='344.1' width='1.4' height='1.4'/><rect x='117.2' y='334.5' width='1.4' height='1.4'/><rect x='95.3' y='376.6' width='1.4' height='1.4'/><rect x='84.3' y='320.7' width='1.4' height='1.4'/><rect x='86.5' y='339.9' width='1.4' height='1.4'/><rect x='84.1' y='345.4' width='1.4' height='1.4'/><rect x='94.6' y='373.4' width='1.4' height='1.4'/><rect x='103.6' y='328.5' width='1.4' height='1.4'/><rect x='98.2' y='324.7' width='1.4' height='1.4'/><rect x='83.1' y='348.2' width='1.4' height='1.4'/><rect x='110.1' y='369.0' width='1.4' height='1.4'/><rect x='91.6' y='377.6' width='1.4' height='1.4'/><rect x='74.6' y='322.6' width='1.4' height='1.4'/><rect x='86.4' y='360.5' width='1.4' height='1.4'/><rect x='89.5' y='372.2' width='1.4' height='1.4'/><rect x='81.0' y='364.2' width='1.4' height='1.4'/><rect x='86.6' y='362.1' width='1.4' height='1.4'/><rect x='86.5' y='355.9' width='1.4' height='1.4'/><rect x='91.3' y='376.9' width='1.4' height='1.4'/><rect x='79.7' y='353.1' width='1.4' height='1.4'/><rect x='115.7' y='311.8' width='1.4' height='1.4'/><rect x='96.6' y='363.7' width='1.4' height='1.4'/><rect x='83.4' y='361.6' width='1.4' height='1.4'/><rect x='72.4' y='320.1' width='1.4' height='1.4'/><rect x='90.7' y='377.5' width='1.4' height='1.4'/><rect x='91.8' y='377.8' width='1.4' height='1.4'/><rect x='90.4' y='375.8' width='1.4' height='1.4'/><rect x='92.0' y='378.4' width='1.4' height='1.4'/><rect x='103.9' y='350.5' width='1.4' height='1.4'/><rect x='98.0' y='372.5' width='1.4' height='1.4'/><rect x='94.2' y='367.8' width='1.4' height='1.4'/><rect x='98.1' y='339.7' width='1.4' height='1.4'/><rect x='115.3' y='334.8' width='1.4' height='1.4'/><rect x='105.8' y='346.2' width='1.4' height='1.4'/><rect x='75.4' y='328.6' width='1.4' height='1.4'/><rect x='88.1' y='369.3' width='1.4' height='1.4'/><rect x='90.9' y='375.6' width='1.4' height='1.4'/><rect x='93.0' y='376.6' width='1.4' height='1.4'/><rect x='83.5' y='333.2' width='1.4' height='1.4'/><rect x='99.7' y='343.6' width='1.4' height='1.4'/><rect x='88.5' y='368.4' width='1.4' height='1.4'/><rect x='92.2' y='378.9' width='1.4' height='1.4'/><rect x='89.2' y='365.8' width='1.4' height='1.4'/><rect x='80.7' y='361.3' width='1.4' height='1.4'/><rect x='87.1' y='371.0' width='1.4' height='1.4'/><rect x='79.3' y='341.2' width='1.4' height='1.4'/><rect x='85.8' y='339.4' width='1.4' height='1.4'/><rect x='82.9' y='351.6' width='1.4' height='1.4'/><rect x='84.9' y='365.3' width='1.4' height='1.4'/><rect x='87.5' y='365.5' width='1.4' height='1.4'/><rect x='101.5' y='325.1' width='1.4' height='1.4'/><rect x='85.2' y='366.9' width='1.4' height='1.4'/><rect x='94.2' y='375.7' width='1.4' height='1.4'/><rect x='86.4' y='364.8' width='1.4' height='1.4'/><rect x='84.5' y='357.5' width='1.4' height='1.4'/><rect x='90.4' y='370.5' width='1.4' height='1.4'/><rect x='86.9' y='358.2' width='1.4' height='1.4'/><rect x='79.6' y='343.5' width='1.4' height='1.4'/><rect x='91.4' y='378.5' width='1.4' height='1.4'/><rect x='81.4' y='334.3' width='1.4' height='1.4'/><rect x='88.6' y='373.8' width='1.4' height='1.4'/><rect x='84.2' y='348.2' width='1.4' height='1.4'/><rect x='90.0' y='369.4' width='1.4' height='1.4'/><rect x='94.4' y='369.3' width='1.4' height='1.4'/><rect x='83.3' y='352.3' width='1.4' height='1.4'/><rect x='90.5' y='372.7' width='1.4' height='1.4'/><rect x='87.9' y='356.6' width='1.4' height='1.4'/><rect x='84.4' y='350.2' width='1.4' height='1.4'/><rect x='96.2' y='358.7' width='1.4' height='1.4'/><rect x='90.7' y='376.5' width='1.4' height='1.4'/><rect x='90.9' y='372.6' width='1.4' height='1.4'/><rect x='78.6' y='338.8' width='1.4' height='1.4'/><rect x='89.4' y='368.4' width='1.4' height='1.4'/><rect x='83.2' y='349.7' width='1.4' height='1.4'/><rect x='95.7' y='371.5' width='1.4' height='1.4'/><rect x='93.3' y='371.9' width='1.4' height='1.4'/><rect x='95.8' y='370.6' width='1.4' height='1.4'/><rect x='92.8' y='376.3' width='1.4' height='1.4'/><rect x='90.8' y='371.2' width='1.4' height='1.4'/><rect x='94.9' y='372.1' width='1.4' height='1.4'/><rect x='90.9' y='377.2' width='1.4' height='1.4'/><rect x='84.4' y='362.7' width='1.4' height='1.4'/><rect x='89.7' y='360.3' width='1.4' height='1.4'/><rect x='79.8' y='336.3' width='1.4' height='1.4'/><rect x='84.3' y='362.9' width='1.4' height='1.4'/><rect x='81.7' y='361.3' width='1.4' height='1.4'/><rect x='87.5' y='365.9' width='1.4' height='1.4'/><rect x='87.2' y='332.7' width='1.4' height='1.4'/><rect x='88.6' y='342.3' width='1.4' height='1.4'/><rect x='129.9' y='307.7' width='1.4' height='1.4'/><rect x='93.5' y='375.7' width='1.4' height='1.4'/><rect x='83.5' y='361.1' width='1.4' height='1.4'/><rect x='94.9' y='363.7' width='1.4' height='1.4'/><rect x='85.3' y='350.0' width='1.4' height='1.4'/><rect x='91.3' y='377.0' width='1.4' height='1.4'/><rect x='91.2' y='375.6' width='1.4' height='1.4'/><rect x='99.1' y='346.0' width='1.4' height='1.4'/><rect x='90.2' y='369.8' width='1.4' height='1.4'/><rect x='95.5' y='376.5' width='1.4' height='1.4'/><rect x='89.8' y='376.0' width='1.4' height='1.4'/><rect x='94.2' y='373.9' width='1.4' height='1.4'/><rect x='106.0' y='325.7' width='1.4' height='1.4'/><rect x='74.2' y='346.8' width='1.4' height='1.4'/><rect x='80.4' y='356.3' width='1.4' height='1.4'/><rect x='79.4' y='314.1' width='1.4' height='1.4'/><rect x='86.9' y='320.7' width='1.4' height='1.4'/><rect x='98.3' y='371.8' width='1.4' height='1.4'/><rect x='92.2' y='379.2' width='1.4' height='1.4'/><rect x='106.4' y='351.4' width='1.4' height='1.4'/><rect x='96.3' y='370.3' width='1.4' height='1.4'/><rect x='89.9' y='369.7' width='1.4' height='1.4'/><rect x='117.4' y='369.2' width='1.4' height='1.4'/><rect x='86.1' y='350.3' width='1.4' height='1.4'/><rect x='92.0' y='378.8' width='1.4' height='1.4'/><rect x='81.7' y='325.2' width='1.4' height='1.4'/><rect x='92.0' y='379.0' width='1.4' height='1.4'/><rect x='87.8' y='362.7' width='1.4' height='1.4'/><rect x='80.5' y='337.8' width='1.4' height='1.4'/><rect x='96.2' y='372.4' width='1.4' height='1.4'/><rect x='89.0' y='371.6' width='1.4' height='1.4'/><rect x='96.4' y='370.1' width='1.4' height='1.4'/><rect x='90.2' y='374.2' width='1.4' height='1.4'/><rect x='88.0' y='373.7' width='1.4' height='1.4'/><rect x='77.0' y='331.6' width='1.4' height='1.4'/><rect x='101.7' y='344.0' width='1.4' height='1.4'/><rect x='80.5' y='299.9' width='1.4' height='1.4'/><rect x='87.3' y='348.7' width='1.4' height='1.4'/><rect x='96.8' y='362.7' width='1.4' height='1.4'/><rect x='105.1' y='365.7' width='1.4' height='1.4'/><rect x='89.8' y='366.6' width='1.4' height='1.4'/><rect x='80.6' y='338.6' width='1.4' height='1.4'/><rect x='88.7' y='373.4' width='1.4' height='1.4'/><rect x='99.6' y='366.2' width='1.4' height='1.4'/><rect x='91.1' y='375.9' width='1.4' height='1.4'/><rect x='93.3' y='376.7' width='1.4' height='1.4'/><rect x='91.0' y='375.1' width='1.4' height='1.4'/><rect x='92.8' y='377.6' width='1.4' height='1.4'/><rect x='95.8' y='361.2' width='1.4' height='1.4'/><rect x='88.0' y='297.2' width='1.4' height='1.4'/><rect x='84.9' y='358.1' width='1.4' height='1.4'/><rect x='87.9' y='367.0' width='1.4' height='1.4'/><rect x='86.3' y='361.6' width='1.4' height='1.4'/><rect x='106.2' y='334.8' width='1.4' height='1.4'/><rect x='92.2' y='378.9' width='1.4' height='1.4'/><rect x='95.9' y='367.1' width='1.4' height='1.4'/><rect x='91.3' y='376.7' width='1.4' height='1.4'/><rect x='94.4' y='336.1' width='1.4' height='1.4'/><rect x='101.1' y='359.3' width='1.4' height='1.4'/><rect x='82.5' y='317.5' width='1.4' height='1.4'/><rect x='112.9' y='331.0' width='1.4' height='1.4'/><rect x='111.0' y='347.6' width='1.4' height='1.4'/><rect x='107.7' y='305.8' width='1.4' height='1.4'/><rect x='93.6' y='373.2' width='1.4' height='1.4'/><rect x='90.9' y='375.9' width='1.4' height='1.4'/><rect x='74.2' y='342.0' width='1.4' height='1.4'/><rect x='89.6' y='372.5' width='1.4' height='1.4'/><rect x='102.7' y='322.7' width='1.4' height='1.4'/><rect x='96.5' y='358.2' width='1.4' height='1.4'/><rect x='88.2' y='370.7' width='1.4' height='1.4'/><rect x='88.4' y='362.2' width='1.4' height='1.4'/><rect x='89.1' y='373.4' width='1.4' height='1.4'/><rect x='89.8' y='369.9' width='1.4' height='1.4'/><rect x='105.8' y='349.3' width='1.4' height='1.4'/><rect x='91.5' y='377.5' width='1.4' height='1.4'/><rect x='85.7' y='303.2' width='1.4' height='1.4'/><rect x='76.5' y='340.5' width='1.4' height='1.4'/><rect x='92.3' y='379.2' width='1.4' height='1.4'/><rect x='83.2' y='345.2' width='1.4' height='1.4'/><rect x='87.9' y='369.4' width='1.4' height='1.4'/><rect x='84.8' y='372.8' width='1.4' height='1.4'/><rect x='86.7' y='366.1' width='1.4' height='1.4'/><rect x='85.8' y='366.2' width='1.4' height='1.4'/><rect x='91.6' y='377.4' width='1.4' height='1.4'/><rect x='84.7' y='347.6' width='1.4' height='1.4'/><rect x='110.5' y='339.0' width='1.4' height='1.4'/><rect x='100.6' y='351.3' width='1.4' height='1.4'/><rect x='91.3' y='375.9' width='1.4' height='1.4'/><rect x='96.9' y='377.4' width='1.4' height='1.4'/><rect x='105.2' y='322.7' width='1.4' height='1.4'/><rect x='91.9' y='378.2' width='1.4' height='1.4'/><rect x='101.9' y='364.9' width='1.4' height='1.4'/><rect x='89.9' y='371.3' width='1.4' height='1.4'/><rect x='89.7' y='372.5' width='1.4' height='1.4'/><rect x='87.4' y='373.7' width='1.4' height='1.4'/><rect x='93.6' y='375.1' width='1.4' height='1.4'/><rect x='76.6' y='339.5' width='1.4' height='1.4'/><rect x='107.5' y='368.2' width='1.4' height='1.4'/><rect x='89.6' y='372.2' width='1.4' height='1.4'/><rect x='83.5' y='350.1' width='1.4' height='1.4'/><rect x='90.7' y='373.8' width='1.4' height='1.4'/><rect x='94.6' y='376.1' width='1.4' height='1.4'/><rect x='96.8' y='355.5' width='1.4' height='1.4'/><rect x='100.4' y='366.4' width='1.4' height='1.4'/><rect x='90.1' y='367.3' width='1.4' height='1.4'/><rect x='89.1' y='347.8' width='1.4' height='1.4'/><rect x='106.9' y='326.8' width='1.4' height='1.4'/><rect x='108.9' y='332.4' width='1.4' height='1.4'/><rect x='101.2' y='339.1' width='1.4' height='1.4'/><rect x='91.8' y='379.0' width='1.4' height='1.4'/><rect x='86.1' y='368.5' width='1.4' height='1.4'/><rect x='81.3' y='342.4' width='1.4' height='1.4'/><rect x='95.9' y='374.5' width='1.4' height='1.4'/><rect x='85.6' y='361.3' width='1.4' height='1.4'/><rect x='107.7' y='341.4' width='1.4' height='1.4'/><rect x='91.0' y='376.1' width='1.4' height='1.4'/><rect x='66.7' y='308.5' width='1.4' height='1.4'/><rect x='89.3' y='374.2' width='1.4' height='1.4'/><rect x='83.7' y='356.7' width='1.4' height='1.4'/><rect x='92.9' y='378.5' width='1.4' height='1.4'/><rect x='88.9' y='365.7' width='1.4' height='1.4'/><rect x='69.9' y='307.8' width='1.4' height='1.4'/><rect x='86.0' y='361.3' width='1.4' height='1.4'/><rect x='89.0' y='367.2' width='1.4' height='1.4'/><rect x='83.0' y='349.1' width='1.4' height='1.4'/><rect x='122.1' y='366.9' width='1.4' height='1.4'/><rect x='86.9' y='357.4' width='1.4' height='1.4'/><rect x='96.7' y='353.0' width='1.4' height='1.4'/><rect x='104.8' y='360.4' width='1.4' height='1.4'/><rect x='94.9' y='372.1' width='1.4' height='1.4'/><rect x='82.4' y='299.0' width='1.4' height='1.4'/><rect x='93.6' y='376.7' width='1.4' height='1.4'/><rect x='96.1' y='365.4' width='1.4' height='1.4'/><rect x='85.6' y='331.8' width='1.4' height='1.4'/><rect x='94.1' y='359.0' width='1.4' height='1.4'/><rect x='94.0' y='376.2' width='1.4' height='1.4'/><rect x='97.9' y='372.3' width='1.4' height='1.4'/><rect x='117.0' y='363.0' width='1.4' height='1.4'/><rect x='95.1' y='374.6' width='1.4' height='1.4'/><rect x='86.8' y='362.0' width='1.4' height='1.4'/><rect x='100.7' y='331.7' width='1.4' height='1.4'/><rect x='79.1' y='351.9' width='1.4' height='1.4'/><rect x='105.8' y='374.0' width='1.4' height='1.4'/><rect x='84.1' y='346.5' width='1.4' height='1.4'/><rect x='81.0' y='339.3' width='1.4' height='1.4'/><rect x='86.8' y='356.4' width='1.4' height='1.4'/><rect x='104.2' y='371.2' width='1.4' height='1.4'/><rect x='93.5' y='374.3' width='1.4' height='1.4'/><rect x='87.2' y='351.8' width='1.4' height='1.4'/><rect x='91.7' y='377.8' width='1.4' height='1.4'/><rect x='72.2' y='323.2' width='1.4' height='1.4'/><rect x='90.1' y='372.1' width='1.4' height='1.4'/><rect x='87.8' y='358.2' width='1.4' height='1.4'/><rect x='104.7' y='364.8' width='1.4' height='1.4'/><rect x='133.1' y='323.7' width='1.4' height='1.4'/><rect x='85.4' y='346.5' width='1.4' height='1.4'/><rect x='103.2' y='349.8' width='1.4' height='1.4'/><rect x='88.1' y='361.2' width='1.4' height='1.4'/><rect x='76.8' y='346.9' width='1.4' height='1.4'/><rect x='86.8' y='343.0' width='1.4' height='1.4'/><rect x='106.6' y='332.0' width='1.4' height='1.4'/><rect x='88.5' y='365.8' width='1.4' height='1.4'/><rect x='86.4' y='342.5' width='1.4' height='1.4'/><rect x='94.5' y='360.0' width='1.4' height='1.4'/><rect x='91.2' y='377.6' width='1.4' height='1.4'/><rect x='86.7' y='347.9' width='1.4' height='1.4'/><rect x='70.6' y='340.8' width='1.4' height='1.4'/><rect x='117.0' y='320.8' width='1.4' height='1.4'/><rect x='93.3' y='377.5' width='1.4' height='1.4'/><rect x='86.3' y='344.9' width='1.4' height='1.4'/><rect x='86.6' y='360.0' width='1.4' height='1.4'/><rect x='79.0' y='342.7' width='1.4' height='1.4'/><rect x='89.8' y='368.4' width='1.4' height='1.4'/><rect x='92.1' y='378.8' width='1.4' height='1.4'/><rect x='96.5' y='316.3' width='1.4' height='1.4'/><rect x='93.8' y='376.5' width='1.4' height='1.4'/><rect x='84.9' y='361.3' width='1.4' height='1.4'/><rect x='87.0' y='350.2' width='1.4' height='1.4'/><rect x='99.9' y='367.5' width='1.4' height='1.4'/><rect x='89.5' y='364.1' width='1.4' height='1.4'/><rect x='106.3' y='360.9' width='1.4' height='1.4'/><rect x='98.4' y='361.9' width='1.4' height='1.4'/><rect x='93.8' y='378.4' width='1.4' height='1.4'/><rect x='89.1' y='345.7' width='1.4' height='1.4'/><rect x='92.8' y='378.3' width='1.4' height='1.4'/><rect x='84.9' y='351.1' width='1.4' height='1.4'/><rect x='92.0' y='378.3' width='1.4' height='1.4'/><rect x='87.9' y='368.4' width='1.4' height='1.4'/><rect x='89.0' y='350.0' width='1.4' height='1.4'/><rect x='84.6' y='355.1' width='1.4' height='1.4'/><rect x='79.2' y='363.2' width='1.4' height='1.4'/><rect x='89.3' y='374.8' width='1.4' height='1.4'/><rect x='74.0' y='321.5' width='1.4' height='1.4'/><rect x='93.3' y='375.9' width='1.4' height='1.4'/><rect x='82.7' y='321.9' width='1.4' height='1.4'/><rect x='88.0' y='372.8' width='1.4' height='1.4'/><rect x='84.3' y='339.5' width='1.4' height='1.4'/><rect x='120.9' y='344.1' width='1.4' height='1.4'/><rect x='86.7' y='343.3' width='1.4' height='1.4'/><rect x='120.2' y='341.3' width='1.4' height='1.4'/><rect x='98.0' y='343.6' width='1.4' height='1.4'/><rect x='89.6' y='351.6' width='1.4' height='1.4'/><rect x='92.7' y='378.7' width='1.4' height='1.4'/><rect x='81.8' y='347.2' width='1.4' height='1.4'/><rect x='90.4' y='375.9' width='1.4' height='1.4'/><rect x='94.9' y='371.8' width='1.4' height='1.4'/><rect x='79.4' y='352.4' width='1.4' height='1.4'/><rect x='82.8' y='336.3' width='1.4' height='1.4'/><rect x='96.0' y='373.9' width='1.4' height='1.4'/><rect x='83.1' y='358.5' width='1.4' height='1.4'/><rect x='96.5' y='345.9' width='1.4' height='1.4'/><rect x='87.2' y='359.5' width='1.4' height='1.4'/><rect x='78.2' y='353.0' width='1.4' height='1.4'/><rect x='80.4' y='310.8' width='1.4' height='1.4'/><rect x='89.6' y='362.2' width='1.4' height='1.4'/><rect x='97.5' y='348.6' width='1.4' height='1.4'/><rect x='90.4' y='372.2' width='1.4' height='1.4'/><rect x='92.0' y='378.9' width='1.4' height='1.4'/><rect x='88.3' y='368.6' width='1.4' height='1.4'/><rect x='90.9' y='375.1' width='1.4' height='1.4'/><rect x='77.7' y='302.4' width='1.4' height='1.4'/><rect x='80.2' y='356.9' width='1.4' height='1.4'/><rect x='96.0' y='358.8' width='1.4' height='1.4'/><rect x='83.0' y='310.9' width='1.4' height='1.4'/><rect x='92.9' y='378.6' width='1.4' height='1.4'/><rect x='107.8' y='342.9' width='1.4' height='1.4'/><rect x='89.9' y='374.8' width='1.4' height='1.4'/><rect x='90.7' y='377.1' width='1.4' height='1.4'/><rect x='91.4' y='377.5' width='1.4' height='1.4'/><rect x='85.4' y='345.5' width='1.4' height='1.4'/><rect x='87.6' y='366.0' width='1.4' height='1.4'/><rect x='90.5' y='369.9' width='1.4' height='1.4'/><rect x='99.3' y='363.2' width='1.4' height='1.4'/><rect x='79.0' y='365.5' width='1.4' height='1.4'/><rect x='88.5' y='368.6' width='1.4' height='1.4'/><rect x='89.1' y='347.2' width='1.4' height='1.4'/><rect x='86.2' y='346.4' width='1.4' height='1.4'/><rect x='95.8' y='375.3' width='1.4' height='1.4'/><rect x='92.1' y='378.2' width='1.4' height='1.4'/><rect x='81.7' y='324.7' width='1.4' height='1.4'/><rect x='80.7' y='314.6' width='1.4' height='1.4'/><rect x='88.8' y='365.3' width='1.4' height='1.4'/><rect x='97.4' y='325.2' width='1.4' height='1.4'/><rect x='84.0' y='346.7' width='1.4' height='1.4'/><rect x='91.3' y='375.6' width='1.4' height='1.4'/><rect x='91.1' y='377.1' width='1.4' height='1.4'/><rect x='86.8' y='335.9' width='1.4' height='1.4'/><rect x='85.9' y='351.0' width='1.4' height='1.4'/><rect x='86.9' y='349.1' width='1.4' height='1.4'/><rect x='98.7' y='377.2' width='1.4' height='1.4'/><rect x='97.0' y='375.8' width='1.4' height='1.4'/><rect x='95.3' y='368.9' width='1.4' height='1.4'/><rect x='92.1' y='379.0' width='1.4' height='1.4'/><rect x='89.7' y='374.2' width='1.4' height='1.4'/><rect x='82.0' y='340.0' width='1.4' height='1.4'/><rect x='90.1' y='376.3' width='1.4' height='1.4'/><rect x='91.5' y='376.5' width='1.4' height='1.4'/><rect x='82.9' y='348.7' width='1.4' height='1.4'/><rect x='93.3' y='376.6' width='1.4' height='1.4'/><rect x='101.1' y='367.5' width='1.4' height='1.4'/><rect x='88.7' y='335.7' width='1.4' height='1.4'/><rect x='80.8' y='351.6' width='1.4' height='1.4'/><rect x='115.0' y='337.9' width='1.4' height='1.4'/><rect x='89.9' y='375.2' width='1.4' height='1.4'/><rect x='90.0' y='374.5' width='1.4' height='1.4'/><rect x='89.5' y='374.1' width='1.4' height='1.4'/><rect x='99.8' y='340.1' width='1.4' height='1.4'/><rect x='95.5' y='363.3' width='1.4' height='1.4'/><rect x='87.5' y='370.3' width='1.4' height='1.4'/><rect x='90.0' y='367.5' width='1.4' height='1.4'/><rect x='86.1' y='339.4' width='1.4' height='1.4'/><rect x='130.2' y='349.8' width='1.4' height='1.4'/><rect x='81.4' y='362.2' width='1.4' height='1.4'/><rect x='92.1' y='378.8' width='1.4' height='1.4'/><rect x='92.1' y='378.7' width='1.4' height='1.4'/><rect x='91.2' y='377.5' width='1.4' height='1.4'/><rect x='94.2' y='363.6' width='1.4' height='1.4'/><rect x='89.0' y='359.1' width='1.4' height='1.4'/><rect x='91.7' y='376.1' width='1.4' height='1.4'/><rect x='92.3' y='379.2' width='1.4' height='1.4'/><rect x='87.2' y='344.5' width='1.4' height='1.4'/><rect x='96.6' y='359.1' width='1.4' height='1.4'/><rect x='100.0' y='375.2' width='1.4' height='1.4'/><rect x='93.6' y='372.4' width='1.4' height='1.4'/><rect x='80.5' y='337.1' width='1.4' height='1.4'/><rect x='91.2' y='371.5' width='1.4' height='1.4'/><rect x='90.8' y='375.8' width='1.4' height='1.4'/><rect x='88.7' y='359.9' width='1.4' height='1.4'/><rect x='119.8' y='354.9' width='1.4' height='1.4'/><rect x='87.5' y='366.5' width='1.4' height='1.4'/><rect x='81.3' y='333.1' width='1.4' height='1.4'/><rect x='103.9' y='338.5' width='1.4' height='1.4'/><rect x='90.7' y='374.2' width='1.4' height='1.4'/><rect x='88.9' y='355.9' width='1.4' height='1.4'/><rect x='89.0' y='359.7' width='1.4' height='1.4'/><rect x='80.8' y='352.0' width='1.4' height='1.4'/><rect x='90.7' y='372.9' width='1.4' height='1.4'/><rect x='83.3' y='330.1' width='1.4' height='1.4'/><rect x='80.1' y='331.2' width='1.4' height='1.4'/><rect x='91.1' y='376.5' width='1.4' height='1.4'/><rect x='88.6' y='360.0' width='1.4' height='1.4'/><rect x='96.3' y='361.7' width='1.4' height='1.4'/><rect x='81.5' y='353.5' width='1.4' height='1.4'/><rect x='102.8' y='346.6' width='1.4' height='1.4'/><rect x='88.3' y='345.6' width='1.4' height='1.4'/><rect x='87.5' y='357.1' width='1.4' height='1.4'/><rect x='89.4' y='371.9' width='1.4' height='1.4'/><rect x='87.1' y='312.9' width='1.4' height='1.4'/><rect x='91.1' y='376.9' width='1.4' height='1.4'/><rect x='82.3' y='334.5' width='1.4' height='1.4'/><rect x='83.9' y='354.5' width='1.4' height='1.4'/><rect x='93.5' y='371.9' width='1.4' height='1.4'/><rect x='85.3' y='326.3' width='1.4' height='1.4'/><rect x='90.9' y='371.9' width='1.4' height='1.4'/><rect x='105.2' y='361.1' width='1.4' height='1.4'/><rect x='95.5' y='358.3' width='1.4' height='1.4'/><rect x='91.1' y='378.0' width='1.4' height='1.4'/><rect x='85.5' y='349.6' width='1.4' height='1.4'/><rect x='80.5' y='335.2' width='1.4' height='1.4'/><rect x='96.8' y='375.6' width='1.4' height='1.4'/><rect x='90.6' y='368.4' width='1.4' height='1.4'/><rect x='76.7' y='325.3' width='1.4' height='1.4'/><rect x='88.4' y='364.4' width='1.4' height='1.4'/><rect x='99.2' y='321.9' width='1.4' height='1.4'/><rect x='92.1' y='379.0' width='1.4' height='1.4'/><rect x='90.4' y='377.0' width='1.4' height='1.4'/><rect x='88.0' y='365.5' width='1.4' height='1.4'/><rect x='86.2' y='354.0' width='1.4' height='1.4'/><rect x='104.0' y='363.5' width='1.4' height='1.4'/><rect x='87.3' y='358.6' width='1.4' height='1.4'/><rect x='87.6' y='371.8' width='1.4' height='1.4'/><rect x='90.8' y='376.1' width='1.4' height='1.4'/><rect x='98.1' y='373.4' width='1.4' height='1.4'/><rect x='88.8' y='372.4' width='1.4' height='1.4'/><rect x='89.7' y='335.3' width='1.4' height='1.4'/><rect x='87.9' y='367.5' width='1.4' height='1.4'/><rect x='94.3' y='365.8' width='1.4' height='1.4'/><rect x='97.0' y='358.1' width='1.4' height='1.4'/><rect x='91.2' y='373.8' width='1.4' height='1.4'/><rect x='83.7' y='315.3' width='1.4' height='1.4'/><rect x='81.9' y='349.2' width='1.4' height='1.4'/><rect x='86.7' y='365.1' width='1.4' height='1.4'/><rect x='105.6' y='352.1' width='1.4' height='1.4'/><rect x='106.3' y='326.5' width='1.4' height='1.4'/><rect x='82.6' y='343.9' width='1.4' height='1.4'/><rect x='93.1' y='377.7' width='1.4' height='1.4'/><rect x='91.9' y='378.5' width='1.4' height='1.4'/><rect x='87.0' y='371.7' width='1.4' height='1.4'/><rect x='78.6' y='338.7' width='1.4' height='1.4'/><rect x='87.7' y='370.8' width='1.4' height='1.4'/><rect x='108.3' y='300.6' width='1.4' height='1.4'/><rect x='104.2' y='335.2' width='1.4' height='1.4'/><rect x='88.4' y='362.1' width='1.4' height='1.4'/><rect x='95.6' y='363.8' width='1.4' height='1.4'/><rect x='79.8' y='352.5' width='1.4' height='1.4'/><rect x='93.1' y='377.5' width='1.4' height='1.4'/><rect x='92.0' y='378.1' width='1.4' height='1.4'/><rect x='82.6' y='339.7' width='1.4' height='1.4'/><rect x='74.3' y='333.7' width='1.4' height='1.4'/><rect x='98.0' y='368.2' width='1.4' height='1.4'/><rect x='88.3' y='371.4' width='1.4' height='1.4'/><rect x='93.2' y='377.7' width='1.4' height='1.4'/><rect x='85.4' y='361.9' width='1.4' height='1.4'/><rect x='80.3' y='310.8' width='1.4' height='1.4'/><rect x='82.9' y='349.9' width='1.4' height='1.4'/><rect x='99.8' y='330.1' width='1.4' height='1.4'/><rect x='83.7' y='340.5' width='1.4' height='1.4'/><rect x='107.8' y='309.0' width='1.4' height='1.4'/><rect x='97.5' y='365.6' width='1.4' height='1.4'/><rect x='84.4' y='337.9' width='1.4' height='1.4'/><rect x='88.2' y='358.7' width='1.4' height='1.4'/><rect x='93.2' y='377.7' width='1.4' height='1.4'/><rect x='100.9' y='336.6' width='1.4' height='1.4'/><rect x='109.1' y='340.8' width='1.4' height='1.4'/><rect x='82.6' y='338.4' width='1.4' height='1.4'/><rect x='89.1' y='368.1' width='1.4' height='1.4'/><rect x='96.3' y='359.0' width='1.4' height='1.4'/><rect x='87.9' y='357.2' width='1.4' height='1.4'/><rect x='95.2' y='360.7' width='1.4' height='1.4'/><rect x='87.6' y='369.0' width='1.4' height='1.4'/><rect x='89.4' y='367.8' width='1.4' height='1.4'/><rect x='86.8' y='361.3' width='1.4' height='1.4'/><rect x='94.9' y='374.7' width='1.4' height='1.4'/><rect x='88.3' y='374.0' width='1.4' height='1.4'/><rect x='84.8' y='356.6' width='1.4' height='1.4'/><rect x='88.5' y='361.3' width='1.4' height='1.4'/><rect x='111.7' y='346.7' width='1.4' height='1.4'/><rect x='85.4' y='355.0' width='1.4' height='1.4'/><rect x='100.5' y='354.2' width='1.4' height='1.4'/><rect x='87.4' y='356.9' width='1.4' height='1.4'/><rect x='85.2' y='336.6' width='1.4' height='1.4'/><rect x='88.0' y='360.8' width='1.4' height='1.4'/><rect x='82.6' y='340.6' width='1.4' height='1.4'/><rect x='94.3' y='364.4' width='1.4' height='1.4'/><rect x='86.2' y='342.4' width='1.4' height='1.4'/><rect x='84.5' y='369.9' width='1.4' height='1.4'/><rect x='69.7' y='317.7' width='1.4' height='1.4'/><rect x='92.2' y='379.1' width='1.4' height='1.4'/><rect x='91.2' y='377.3' width='1.4' height='1.4'/><rect x='81.7' y='361.8' width='1.4' height='1.4'/><rect x='91.4' y='376.1' width='1.4' height='1.4'/><rect x='88.8' y='365.1' width='1.4' height='1.4'/><rect x='90.4' y='373.2' width='1.4' height='1.4'/><rect x='87.6' y='351.2' width='1.4' height='1.4'/><rect x='90.2' y='375.9' width='1.4' height='1.4'/><rect x='93.6' y='378.6' width='1.4' height='1.4'/><rect x='86.3' y='360.2' width='1.4' height='1.4'/><rect x='83.8' y='346.7' width='1.4' height='1.4'/><rect x='97.5' y='336.1' width='1.4' height='1.4'/><rect x='81.5' y='361.3' width='1.4' height='1.4'/><rect x='91.1' y='376.6' width='1.4' height='1.4'/><rect x='92.9' y='377.8' width='1.4' height='1.4'/><rect x='88.7' y='355.5' width='1.4' height='1.4'/><rect x='84.2' y='326.8' width='1.4' height='1.4'/><rect x='88.5' y='369.6' width='1.4' height='1.4'/><rect x='90.4' y='375.1' width='1.4' height='1.4'/><rect x='87.6' y='367.2' width='1.4' height='1.4'/><rect x='88.7' y='366.5' width='1.4' height='1.4'/><rect x='78.9' y='326.0' width='1.4' height='1.4'/><rect x='90.3' y='375.6' width='1.4' height='1.4'/><rect x='89.0' y='360.5' width='1.4' height='1.4'/><rect x='91.4' y='377.8' width='1.4' height='1.4'/><rect x='100.3' y='368.1' width='1.4' height='1.4'/><rect x='88.4' y='366.4' width='1.4' height='1.4'/><rect x='87.2' y='371.0' width='1.4' height='1.4'/><rect x='88.1' y='367.4' width='1.4' height='1.4'/><rect x='95.8' y='360.8' width='1.4' height='1.4'/><rect x='105.6' y='335.2' width='1.4' height='1.4'/><rect x='71.4' y='337.9' width='1.4' height='1.4'/><rect x='91.4' y='375.8' width='1.4' height='1.4'/><rect x='96.3' y='370.5' width='1.4' height='1.4'/><rect x='116.4' y='338.0' width='1.4' height='1.4'/><rect x='128.5' y='322.7' width='1.4' height='1.4'/><rect x='88.9' y='374.1' width='1.4' height='1.4'/><rect x='68.0' y='304.5' width='1.4' height='1.4'/><rect x='89.9' y='362.0' width='1.4' height='1.4'/><rect x='89.3' y='373.9' width='1.4' height='1.4'/><rect x='91.3' y='374.5' width='1.4' height='1.4'/><rect x='90.8' y='373.7' width='1.4' height='1.4'/><rect x='90.2' y='370.1' width='1.4' height='1.4'/><rect x='94.7' y='375.7' width='1.4' height='1.4'/><rect x='103.6' y='365.4' width='1.4' height='1.4'/><rect x='93.9' y='375.0' width='1.4' height='1.4'/><rect x='90.9' y='372.2' width='1.4' height='1.4'/><rect x='97.6' y='374.3' width='1.4' height='1.4'/><rect x='83.4' y='324.4' width='1.4' height='1.4'/><rect x='117.7' y='340.0' width='1.4' height='1.4'/><rect x='89.3' y='363.3' width='1.4' height='1.4'/><rect x='86.2' y='348.6' width='1.4' height='1.4'/><rect x='89.8' y='376.2' width='1.4' height='1.4'/><rect x='91.1' y='377.1' width='1.4' height='1.4'/><rect x='94.7' y='376.0' width='1.4' height='1.4'/><rect x='95.6' y='370.2' width='1.4' height='1.4'/><rect x='91.7' y='377.9' width='1.4' height='1.4'/><rect x='83.1' y='367.1' width='1.4' height='1.4'/><rect x='95.0' y='373.1' width='1.4' height='1.4'/><rect x='90.7' y='376.3' width='1.4' height='1.4'/><rect x='92.4' y='379.2' width='1.4' height='1.4'/><rect x='82.5' y='370.1' width='1.4' height='1.4'/><rect x='95.5' y='376.3' width='1.4' height='1.4'/><rect x='85.8' y='330.0' width='1.4' height='1.4'/><rect x='96.3' y='375.6' width='1.4' height='1.4'/><rect x='70.2' y='331.8' width='1.4' height='1.4'/><rect x='99.4' y='366.2' width='1.4' height='1.4'/><rect x='95.0' y='376.3' width='1.4' height='1.4'/><rect x='95.9' y='351.3' width='1.4' height='1.4'/><rect x='145.2' y='306.0' width='1.4' height='1.4'/><rect x='85.0' y='344.3' width='1.4' height='1.4'/><rect x='76.6' y='320.3' width='1.4' height='1.4'/><rect x='99.0' y='352.6' width='1.4' height='1.4'/><rect x='99.3' y='370.7' width='1.4' height='1.4'/><rect x='91.3' y='373.2' width='1.4' height='1.4'/><rect x='90.1' y='374.7' width='1.4' height='1.4'/><rect x='102.9' y='328.2' width='1.4' height='1.4'/><rect x='93.7' y='373.6' width='1.4' height='1.4'/><rect x='92.6' y='378.4' width='1.4' height='1.4'/><rect x='91.4' y='375.3' width='1.4' height='1.4'/><rect x='86.9' y='334.1' width='1.4' height='1.4'/><rect x='89.5' y='376.2' width='1.4' height='1.4'/><rect x='81.4' y='340.8' width='1.4' height='1.4'/><rect x='103.6' y='329.2' width='1.4' height='1.4'/><rect x='72.9' y='328.4' width='1.4' height='1.4'/><rect x='89.9' y='367.1' width='1.4' height='1.4'/><rect x='104.0' y='350.9' width='1.4' height='1.4'/><rect x='124.4' y='348.2' width='1.4' height='1.4'/><rect x='87.5' y='368.6' width='1.4' height='1.4'/><rect x='97.2' y='362.4' width='1.4' height='1.4'/><rect x='100.4' y='352.9' width='1.4' height='1.4'/><rect x='108.4' y='361.8' width='1.4' height='1.4'/><rect x='107.8' y='342.5' width='1.4' height='1.4'/><rect x='84.2' y='351.0' width='1.4' height='1.4'/><rect x='91.8' y='378.7' width='1.4' height='1.4'/><rect x='87.4' y='307.4' width='1.4' height='1.4'/><rect x='77.7' y='349.5' width='1.4' height='1.4'/><rect x='97.7' y='347.8' width='1.4' height='1.4'/><rect x='95.4' y='343.6' width='1.4' height='1.4'/><rect x='98.6' y='362.2' width='1.4' height='1.4'/><rect x='92.6' y='378.8' width='1.4' height='1.4'/><rect x='88.7' y='367.8' width='1.4' height='1.4'/><rect x='84.4' y='369.3' width='1.4' height='1.4'/><rect x='95.8' y='361.8' width='1.4' height='1.4'/><rect x='76.0' y='305.3' width='1.4' height='1.4'/><rect x='95.5' y='337.6' width='1.4' height='1.4'/><rect x='92.0' y='377.4' width='1.4' height='1.4'/><rect x='86.5' y='324.4' width='1.4' height='1.4'/><rect x='89.6' y='360.6' width='1.4' height='1.4'/><rect x='92.1' y='378.9' width='1.4' height='1.4'/><rect x='93.5' y='372.4' width='1.4' height='1.4'/><rect x='120.4' y='330.1' width='1.4' height='1.4'/><rect x='83.5' y='351.2' width='1.4' height='1.4'/><rect x='72.6' y='324.9' width='1.4' height='1.4'/><rect x='84.7' y='331.1' width='1.4' height='1.4'/><rect x='103.5' y='353.4' width='1.4' height='1.4'/><rect x='87.1' y='356.4' width='1.4' height='1.4'/><rect x='92.9' y='373.5' width='1.4' height='1.4'/><rect x='87.8' y='334.1' width='1.4' height='1.4'/><rect x='90.3' y='374.3' width='1.4' height='1.4'/><rect x='99.7' y='336.7' width='1.4' height='1.4'/><rect x='86.1' y='348.6' width='1.4' height='1.4'/><rect x='93.9' y='377.6' width='1.4' height='1.4'/><rect x='90.6' y='371.9' width='1.4' height='1.4'/><rect x='93.8' y='376.2' width='1.4' height='1.4'/><rect x='108.8' y='352.3' width='1.4' height='1.4'/><rect x='94.3' y='371.7' width='1.4' height='1.4'/><rect x='91.3' y='377.0' width='1.4' height='1.4'/><rect x='106.1' y='367.5' width='1.4' height='1.4'/><rect x='100.9' y='356.1' width='1.4' height='1.4'/><rect x='79.3' y='347.3' width='1.4' height='1.4'/><rect x='84.6' y='319.8' width='1.4' height='1.4'/><rect x='83.0' y='351.5' width='1.4' height='1.4'/><rect x='96.5' y='341.5' width='1.4' height='1.4'/><rect x='93.9' y='367.8' width='1.4' height='1.4'/><rect x='35.0' y='305.6' width='1.4' height='1.4'/><rect x='90.9' y='374.9' width='1.4' height='1.4'/><rect x='88.1' y='345.1' width='1.4' height='1.4'/><rect x='86.4' y='350.3' width='1.4' height='1.4'/><rect x='87.6' y='351.1' width='1.4' height='1.4'/><rect x='97.9' y='375.2' width='1.4' height='1.4'/><rect x='97.0' y='365.2' width='1.4' height='1.4'/><rect x='99.6' y='347.9' width='1.4' height='1.4'/><rect x='73.7' y='344.6' width='1.4' height='1.4'/><rect x='114.5' y='351.3' width='1.4' height='1.4'/><rect x='94.7' y='376.6' width='1.4' height='1.4'/><rect x='99.6' y='360.6' width='1.4' height='1.4'/><rect x='86.6' y='366.6' width='1.4' height='1.4'/><rect x='87.6' y='350.6' width='1.4' height='1.4'/><rect x='90.8' y='372.7' width='1.4' height='1.4'/><rect x='97.9' y='366.9' width='1.4' height='1.4'/><rect x='90.0' y='370.9' width='1.4' height='1.4'/><rect x='77.8' y='322.7' width='1.4' height='1.4'/><rect x='83.7' y='349.4' width='1.4' height='1.4'/><rect x='91.0' y='373.9' width='1.4' height='1.4'/><rect x='89.0' y='361.5' width='1.4' height='1.4'/><rect x='90.5' y='374.4' width='1.4' height='1.4'/><rect x='78.9' y='350.3' width='1.4' height='1.4'/><rect x='90.9' y='374.9' width='1.4' height='1.4'/><rect x='82.4' y='349.8' width='1.4' height='1.4'/><rect x='98.3' y='350.3' width='1.4' height='1.4'/><rect x='89.0' y='372.2' width='1.4' height='1.4'/><rect x='92.4' y='377.8' width='1.4' height='1.4'/><rect x='87.6' y='368.0' width='1.4' height='1.4'/><rect x='94.7' y='356.7' width='1.4' height='1.4'/><rect x='92.0' y='378.5' width='1.4' height='1.4'/><rect x='105.1' y='311.4' width='1.4' height='1.4'/><rect x='105.4' y='352.8' width='1.4' height='1.4'/><rect x='89.4' y='362.4' width='1.4' height='1.4'/><rect x='75.8' y='335.0' width='1.4' height='1.4'/><rect x='91.9' y='378.3' width='1.4' height='1.4'/><rect x='71.3' y='321.5' width='1.4' height='1.4'/><rect x='90.8' y='372.2' width='1.4' height='1.4'/><rect x='86.3' y='356.4' width='1.4' height='1.4'/><rect x='85.2' y='342.4' width='1.4' height='1.4'/><rect x='106.7' y='351.8' width='1.4' height='1.4'/><rect x='89.8' y='366.5' width='1.4' height='1.4'/><rect x='96.7' y='331.3' width='1.4' height='1.4'/><rect x='95.9' y='363.7' width='1.4' height='1.4'/><rect x='91.7' y='377.7' width='1.4' height='1.4'/><rect x='88.4' y='344.2' width='1.4' height='1.4'/><rect x='79.3' y='348.0' width='1.4' height='1.4'/><rect x='83.8' y='362.8' width='1.4' height='1.4'/><rect x='82.0' y='323.9' width='1.4' height='1.4'/><rect x='90.1' y='367.0' width='1.4' height='1.4'/><rect x='87.4' y='368.2' width='1.4' height='1.4'/><rect x='82.7' y='335.3' width='1.4' height='1.4'/><rect x='113.0' y='347.6' width='1.4' height='1.4'/><rect x='110.3' y='361.0' width='1.4' height='1.4'/><rect x='106.9' y='363.8' width='1.4' height='1.4'/><rect x='88.9' y='361.8' width='1.4' height='1.4'/><rect x='91.7' y='377.5' width='1.4' height='1.4'/><rect x='88.7' y='372.9' width='1.4' height='1.4'/><rect x='98.9' y='353.4' width='1.4' height='1.4'/><rect x='109.4' y='367.1' width='1.4' height='1.4'/><rect x='88.4' y='370.9' width='1.4' height='1.4'/><rect x='98.3' y='323.4' width='1.4' height='1.4'/><rect x='76.0' y='356.9' width='1.4' height='1.4'/><rect x='111.2' y='347.3' width='1.4' height='1.4'/><rect x='88.6' y='370.2' width='1.4' height='1.4'/><rect x='97.9' y='356.9' width='1.4' height='1.4'/><rect x='110.7' y='343.3' width='1.4' height='1.4'/><rect x='76.4' y='325.0' width='1.4' height='1.4'/><rect x='85.0' y='369.3' width='1.4' height='1.4'/><rect x='92.0' y='377.4' width='1.4' height='1.4'/><rect x='91.2' y='376.6' width='1.4' height='1.4'/><rect x='96.4' y='366.9' width='1.4' height='1.4'/><rect x='75.3' y='342.0' width='1.4' height='1.4'/><rect x='84.8' y='340.0' width='1.4' height='1.4'/><rect x='98.5' y='351.7' width='1.4' height='1.4'/><rect x='85.0' y='355.7' width='1.4' height='1.4'/><rect x='89.5' y='372.7' width='1.4' height='1.4'/><rect x='101.8' y='352.6' width='1.4' height='1.4'/><rect x='110.8' y='366.4' width='1.4' height='1.4'/><rect x='84.9' y='366.7' width='1.4' height='1.4'/><rect x='84.4' y='368.7' width='1.4' height='1.4'/><rect x='94.1' y='373.9' width='1.4' height='1.4'/><rect x='90.3' y='374.9' width='1.4' height='1.4'/><rect x='84.7' y='365.9' width='1.4' height='1.4'/><rect x='102.6' y='336.3' width='1.4' height='1.4'/><rect x='86.1' y='354.6' width='1.4' height='1.4'/><rect x='88.4' y='367.9' width='1.4' height='1.4'/><rect x='86.5' y='372.8' width='1.4' height='1.4'/><rect x='87.6' y='349.5' width='1.4' height='1.4'/><rect x='93.6' y='369.4' width='1.4' height='1.4'/><rect x='109.3' y='363.7' width='1.4' height='1.4'/><rect x='101.5' y='367.3' width='1.4' height='1.4'/><rect x='93.0' y='378.8' width='1.4' height='1.4'/><rect x='83.5' y='361.5' width='1.4' height='1.4'/><rect x='93.0' y='377.8' width='1.4' height='1.4'/><rect x='117.9' y='319.9' width='1.4' height='1.4'/><rect x='86.7' y='370.0' width='1.4' height='1.4'/><rect x='98.5' y='341.8' width='1.4' height='1.4'/><rect x='99.0' y='367.5' width='1.4' height='1.4'/><rect x='98.9' y='369.3' width='1.4' height='1.4'/><rect x='91.9' y='377.9' width='1.4' height='1.4'/><rect x='92.1' y='378.5' width='1.4' height='1.4'/><rect x='91.2' y='376.2' width='1.4' height='1.4'/><rect x='84.3' y='337.4' width='1.4' height='1.4'/><rect x='87.0' y='364.1' width='1.4' height='1.4'/><rect x='115.3' y='302.4' width='1.4' height='1.4'/><rect x='89.7' y='370.0' width='1.4' height='1.4'/><rect x='99.2' y='362.1' width='1.4' height='1.4'/><rect x='95.4' y='366.8' width='1.4' height='1.4'/><rect x='85.7' y='362.5' width='1.4' height='1.4'/><rect x='74.8' y='316.4' width='1.4' height='1.4'/><rect x='105.4' y='359.9' width='1.4' height='1.4'/><rect x='89.7' y='374.2' width='1.4' height='1.4'/><rect x='96.5' y='371.0' width='1.4' height='1.4'/><rect x='91.9' y='378.5' width='1.4' height='1.4'/><rect x='102.8' y='337.0' width='1.4' height='1.4'/><rect x='91.4' y='376.4' width='1.4' height='1.4'/><rect x='88.1' y='368.7' width='1.4' height='1.4'/><rect x='96.7' y='364.0' width='1.4' height='1.4'/><rect x='84.6' y='332.4' width='1.4' height='1.4'/><rect x='122.9' y='358.6' width='1.4' height='1.4'/><rect x='90.6' y='374.1' width='1.4' height='1.4'/><rect x='75.8' y='334.1' width='1.4' height='1.4'/><rect x='84.0' y='368.5' width='1.4' height='1.4'/><rect x='86.7' y='363.7' width='1.4' height='1.4'/><rect x='102.9' y='364.0' width='1.4' height='1.4'/><rect x='86.2' y='364.0' width='1.4' height='1.4'/><rect x='90.2' y='372.9' width='1.4' height='1.4'/><rect x='95.7' y='364.3' width='1.4' height='1.4'/><rect x='80.6' y='352.6' width='1.4' height='1.4'/><rect x='92.5' y='379.2' width='1.4' height='1.4'/><rect x='94.5' y='360.7' width='1.4' height='1.4'/><rect x='90.2' y='371.7' width='1.4' height='1.4'/><rect x='111.5' y='333.3' width='1.4' height='1.4'/><rect x='98.4' y='355.8' width='1.4' height='1.4'/><rect x='106.8' y='341.0' width='1.4' height='1.4'/><rect x='88.3' y='363.7' width='1.4' height='1.4'/><rect x='88.0' y='319.2' width='1.4' height='1.4'/><rect x='46.2' y='318.0' width='1.4' height='1.4'/><rect x='98.0' y='362.6' width='1.4' height='1.4'/><rect x='88.0' y='365.6' width='1.4' height='1.4'/><rect x='85.2' y='353.1' width='1.4' height='1.4'/><rect x='109.4' y='324.5' width='1.4' height='1.4'/><rect x='92.1' y='379.0' width='1.4' height='1.4'/><rect x='84.1' y='322.9' width='1.4' height='1.4'/><rect x='105.1' y='342.6' width='1.4' height='1.4'/><rect x='87.9' y='358.9' width='1.4' height='1.4'/><rect x='94.6' y='373.7' width='1.4' height='1.4'/><rect x='84.0' y='365.9' width='1.4' height='1.4'/><rect x='87.8' y='363.9' width='1.4' height='1.4'/><rect x='87.4' y='370.4' width='1.4' height='1.4'/><rect x='83.0' y='319.6' width='1.4' height='1.4'/><rect x='90.4' y='371.7' width='1.4' height='1.4'/><rect x='91.1' y='375.2' width='1.4' height='1.4'/><rect x='129.5' y='338.2' width='1.4' height='1.4'/><rect x='90.5' y='376.9' width='1.4' height='1.4'/><rect x='93.6' y='376.8' width='1.4' height='1.4'/><rect x='84.3' y='363.8' width='1.4' height='1.4'/><rect x='87.1' y='348.8' width='1.4' height='1.4'/><rect x='86.0' y='359.9' width='1.4' height='1.4'/><rect x='91.4' y='377.9' width='1.4' height='1.4'/><rect x='91.1' y='371.1' width='1.4' height='1.4'/><rect x='85.9' y='364.4' width='1.4' height='1.4'/><rect x='88.4' y='366.2' width='1.4' height='1.4'/><rect x='88.5' y='350.9' width='1.4' height='1.4'/><rect x='94.1' y='356.0' width='1.4' height='1.4'/><rect x='91.9' y='378.5' width='1.4' height='1.4'/><rect x='94.8' y='373.6' width='1.4' height='1.4'/><rect x='87.4' y='361.4' width='1.4' height='1.4'/><rect x='86.6' y='349.2' width='1.4' height='1.4'/><rect x='122.1' y='342.1' width='1.4' height='1.4'/><rect x='86.1' y='354.0' width='1.4' height='1.4'/><rect x='97.9' y='373.0' width='1.4' height='1.4'/><rect x='86.7' y='354.3' width='1.4' height='1.4'/><rect x='77.6' y='316.0' width='1.4' height='1.4'/><rect x='78.8' y='338.5' width='1.4' height='1.4'/><rect x='81.3' y='340.7' width='1.4' height='1.4'/><rect x='88.2' y='369.3' width='1.4' height='1.4'/><rect x='90.9' y='375.8' width='1.4' height='1.4'/><rect x='74.5' y='321.9' width='1.4' height='1.4'/><rect x='94.1' y='362.9' width='1.4' height='1.4'/><rect x='89.5' y='369.5' width='1.4' height='1.4'/><rect x='83.7' y='330.0' width='1.4' height='1.4'/><rect x='90.8' y='373.4' width='1.4' height='1.4'/><rect x='82.3' y='322.3' width='1.4' height='1.4'/><rect x='88.0' y='362.5' width='1.4' height='1.4'/><rect x='73.2' y='348.7' width='1.4' height='1.4'/><rect x='68.7' y='311.7' width='1.4' height='1.4'/><rect x='91.0' y='373.2' width='1.4' height='1.4'/><rect x='80.7' y='346.5' width='1.4' height='1.4'/><rect x='100.5' y='314.5' width='1.4' height='1.4'/><rect x='90.8' y='370.3' width='1.4' height='1.4'/><rect x='116.0' y='332.8' width='1.4' height='1.4'/><rect x='89.9' y='370.5' width='1.4' height='1.4'/><rect x='77.6' y='311.0' width='1.4' height='1.4'/><rect x='117.3' y='344.7' width='1.4' height='1.4'/><rect x='102.8' y='372.3' width='1.4' height='1.4'/><rect x='120.6' y='328.5' width='1.4' height='1.4'/><rect x='92.8' y='378.5' width='1.4' height='1.4'/><rect x='96.8' y='372.4' width='1.4' height='1.4'/><rect x='99.7' y='361.9' width='1.4' height='1.4'/><rect x='101.8' y='355.0' width='1.4' height='1.4'/><rect x='117.2' y='325.5' width='1.4' height='1.4'/><rect x='83.1' y='341.3' width='1.4' height='1.4'/><rect x='84.5' y='354.4' width='1.4' height='1.4'/><rect x='92.1' y='379.0' width='1.4' height='1.4'/><rect x='87.0' y='334.6' width='1.4' height='1.4'/><rect x='90.7' y='363.9' width='1.4' height='1.4'/><rect x='87.7' y='366.2' width='1.4' height='1.4'/><rect x='96.3' y='373.8' width='1.4' height='1.4'/><rect x='88.1' y='364.6' width='1.4' height='1.4'/><rect x='71.8' y='347.3' width='1.4' height='1.4'/><rect x='86.8' y='351.7' width='1.4' height='1.4'/><rect x='89.1' y='373.3' width='1.4' height='1.4'/><rect x='108.6' y='351.9' width='1.4' height='1.4'/><rect x='98.4' y='357.0' width='1.4' height='1.4'/><rect x='97.4' y='322.5' width='1.4' height='1.4'/><rect x='96.0' y='369.4' width='1.4' height='1.4'/><rect x='84.7' y='346.6' width='1.4' height='1.4'/><rect x='88.3' y='362.1' width='1.4' height='1.4'/><rect x='78.2' y='342.7' width='1.4' height='1.4'/><rect x='85.8' y='352.0' width='1.4' height='1.4'/><rect x='86.8' y='344.7' width='1.4' height='1.4'/><rect x='94.0' y='375.4' width='1.4' height='1.4'/><rect x='95.6' y='362.8' width='1.4' height='1.4'/><rect x='81.8' y='332.3' width='1.4' height='1.4'/><rect x='91.3' y='377.2' width='1.4' height='1.4'/><rect x='92.1' y='378.8' width='1.4' height='1.4'/><rect x='94.9' y='372.1' width='1.4' height='1.4'/><rect x='96.9' y='372.4' width='1.4' height='1.4'/><rect x='89.9' y='372.0' width='1.4' height='1.4'/><rect x='99.2' y='363.4' width='1.4' height='1.4'/><rect x='91.2' y='376.1' width='1.4' height='1.4'/><rect x='98.7' y='364.4' width='1.4' height='1.4'/><rect x='90.2' y='371.7' width='1.4' height='1.4'/><rect x='94.2' y='371.3' width='1.4' height='1.4'/><rect x='87.2' y='354.5' width='1.4' height='1.4'/><rect x='83.1' y='356.7' width='1.4' height='1.4'/><rect x='86.0' y='369.0' width='1.4' height='1.4'/><rect x='84.8' y='364.5' width='1.4' height='1.4'/><rect x='98.6' y='345.5' width='1.4' height='1.4'/><rect x='107.0' y='359.4' width='1.4' height='1.4'/><rect x='88.7' y='357.1' width='1.4' height='1.4'/><rect x='94.5' y='374.1' width='1.4' height='1.4'/><rect x='102.8' y='354.3' width='1.4' height='1.4'/><rect x='85.9' y='358.5' width='1.4' height='1.4'/><rect x='89.3' y='366.2' width='1.4' height='1.4'/><rect x='93.7' y='370.6' width='1.4' height='1.4'/><rect x='92.5' y='378.2' width='1.4' height='1.4'/><rect x='87.5' y='367.8' width='1.4' height='1.4'/><rect x='95.1' y='360.7' width='1.4' height='1.4'/><rect x='87.8' y='366.7' width='1.4' height='1.4'/><rect x='120.3' y='325.0' width='1.4' height='1.4'/><rect x='96.7' y='367.8' width='1.4' height='1.4'/><rect x='90.7' y='361.8' width='1.4' height='1.4'/><rect x='94.8' y='374.2' width='1.4' height='1.4'/><rect x='87.5' y='365.3' width='1.4' height='1.4'/><rect x='88.7' y='360.0' width='1.4' height='1.4'/><rect x='94.6' y='376.7' width='1.4' height='1.4'/><rect x='107.8' y='314.3' width='1.4' height='1.4'/><rect x='67.1' y='318.6' width='1.4' height='1.4'/><rect x='105.0' y='354.9' width='1.4' height='1.4'/><rect x='111.6' y='333.2' width='1.4' height='1.4'/><rect x='121.5' y='307.6' width='1.4' height='1.4'/><rect x='89.0' y='373.9' width='1.4' height='1.4'/><rect x='90.2' y='376.9' width='1.4' height='1.4'/><rect x='90.6' y='372.5' width='1.4' height='1.4'/><rect x='95.0' y='340.7' width='1.4' height='1.4'/><rect x='97.5' y='362.5' width='1.4' height='1.4'/><rect x='87.5' y='361.0' width='1.4' height='1.4'/><rect x='101.9' y='361.8' width='1.4' height='1.4'/><rect x='86.4' y='366.2' width='1.4' height='1.4'/><rect x='76.7' y='361.7' width='1.4' height='1.4'/><rect x='83.1' y='354.0' width='1.4' height='1.4'/><rect x='89.1' y='367.8' width='1.4' height='1.4'/><rect x='102.9' y='335.7' width='1.4' height='1.4'/><rect x='89.0' y='371.6' width='1.4' height='1.4'/><rect x='73.4' y='340.8' width='1.4' height='1.4'/><rect x='115.2' y='316.9' width='1.4' height='1.4'/><rect x='87.2' y='347.2' width='1.4' height='1.4'/><rect x='91.1' y='376.6' width='1.4' height='1.4'/><rect x='87.1' y='369.5' width='1.4' height='1.4'/><rect x='90.0' y='371.8' width='1.4' height='1.4'/><rect x='89.3' y='371.5' width='1.4' height='1.4'/><rect x='80.5' y='317.6' width='1.4' height='1.4'/><rect x='89.8' y='373.5' width='1.4' height='1.4'/><rect x='83.4' y='364.2' width='1.4' height='1.4'/><rect x='91.4' y='375.7' width='1.4' height='1.4'/><rect x='88.2' y='339.2' width='1.4' height='1.4'/><rect x='90.0' y='365.3' width='1.4' height='1.4'/><rect x='90.5' y='374.2' width='1.4' height='1.4'/><rect x='88.7' y='369.6' width='1.4' height='1.4'/><rect x='92.8' y='377.3' width='1.4' height='1.4'/><rect x='99.0' y='323.2' width='1.4' height='1.4'/><rect x='87.3' y='364.3' width='1.4' height='1.4'/><rect x='92.8' y='377.2' width='1.4' height='1.4'/><rect x='83.2' y='312.6' width='1.4' height='1.4'/><rect x='105.6' y='355.1' width='1.4' height='1.4'/><rect x='91.8' y='377.5' width='1.4' height='1.4'/><rect x='85.7' y='345.2' width='1.4' height='1.4'/><rect x='95.2' y='370.0' width='1.4' height='1.4'/><rect x='92.1' y='378.9' width='1.4' height='1.4'/><rect x='89.2' y='364.5' width='1.4' height='1.4'/><rect x='91.7' y='376.2' width='1.4' height='1.4'/><rect x='89.3' y='369.1' width='1.4' height='1.4'/><rect x='92.3' y='379.2' width='1.4' height='1.4'/><rect x='107.2' y='319.6' width='1.4' height='1.4'/><rect x='90.8' y='374.5' width='1.4' height='1.4'/><rect x='99.9' y='366.0' width='1.4' height='1.4'/><rect x='84.3' y='331.6' width='1.4' height='1.4'/><rect x='86.5' y='351.1' width='1.4' height='1.4'/><rect x='106.0' y='352.1' width='1.4' height='1.4'/><rect x='95.4' y='373.5' width='1.4' height='1.4'/><rect x='91.6' y='378.2' width='1.4' height='1.4'/><rect x='92.1' y='378.6' width='1.4' height='1.4'/><rect x='79.1' y='308.8' width='1.4' height='1.4'/><rect x='89.7' y='361.5' width='1.4' height='1.4'/><rect x='85.6' y='357.7' width='1.4' height='1.4'/><rect x='87.2' y='349.9' width='1.4' height='1.4'/><rect x='93.8' y='376.0' width='1.4' height='1.4'/><rect x='80.4' y='356.1' width='1.4' height='1.4'/><rect x='92.3' y='379.2' width='1.4' height='1.4'/><rect x='97.5' y='340.8' width='1.4' height='1.4'/><rect x='84.6' y='365.0' width='1.4' height='1.4'/><rect x='102.6' y='328.5' width='1.4' height='1.4'/><rect x='91.0' y='376.4' width='1.4' height='1.4'/><rect x='88.7' y='338.1' width='1.4' height='1.4'/><rect x='91.6' y='375.9' width='1.4' height='1.4'/><rect x='76.9' y='333.0' width='1.4' height='1.4'/><rect x='114.9' y='355.1' width='1.4' height='1.4'/><rect x='89.6' y='371.5' width='1.4' height='1.4'/><rect x='89.7' y='364.1' width='1.4' height='1.4'/><rect x='88.2' y='373.1' width='1.4' height='1.4'/><rect x='94.7' y='357.2' width='1.4' height='1.4'/><rect x='95.7' y='347.8' width='1.4' height='1.4'/><rect x='87.4' y='355.5' width='1.4' height='1.4'/><rect x='93.5' y='377.9' width='1.4' height='1.4'/><rect x='81.8' y='345.5' width='1.4' height='1.4'/><rect x='87.1' y='346.3' width='1.4' height='1.4'/><rect x='85.7' y='357.3' width='1.4' height='1.4'/><rect x='96.4' y='366.7' width='1.4' height='1.4'/><rect x='97.3' y='372.0' width='1.4' height='1.4'/><rect x='95.1' y='363.7' width='1.4' height='1.4'/><rect x='89.1' y='368.4' width='1.4' height='1.4'/><rect x='91.6' y='375.7' width='1.4' height='1.4'/><rect x='83.2' y='344.2' width='1.4' height='1.4'/><rect x='98.6' y='369.0' width='1.4' height='1.4'/><rect x='88.4' y='369.7' width='1.4' height='1.4'/><rect x='89.4' y='369.7' width='1.4' height='1.4'/><rect x='86.4' y='364.2' width='1.4' height='1.4'/><rect x='88.5' y='357.9' width='1.4' height='1.4'/><rect x='79.3' y='340.6' width='1.4' height='1.4'/><rect x='92.0' y='379.1' width='1.4' height='1.4'/><rect x='80.5' y='324.2' width='1.4' height='1.4'/><rect x='96.3' y='370.6' width='1.4' height='1.4'/><rect x='83.7' y='356.0' width='1.4' height='1.4'/><rect x='86.6' y='365.8' width='1.4' height='1.4'/><rect x='77.8' y='323.6' width='1.4' height='1.4'/><rect x='83.0' y='344.0' width='1.4' height='1.4'/><rect x='100.1' y='365.8' width='1.4' height='1.4'/><rect x='71.8' y='333.0' width='1.4' height='1.4'/><rect x='90.3' y='369.4' width='1.4' height='1.4'/><rect x='84.3' y='364.2' width='1.4' height='1.4'/><rect x='130.2' y='316.8' width='1.4' height='1.4'/><rect x='90.5' y='376.0' width='1.4' height='1.4'/><rect x='91.7' y='377.4' width='1.4' height='1.4'/><rect x='90.4' y='367.8' width='1.4' height='1.4'/><rect x='89.1' y='362.5' width='1.4' height='1.4'/><rect x='92.9' y='377.8' width='1.4' height='1.4'/><rect x='96.5' y='375.7' width='1.4' height='1.4'/><rect x='102.2' y='363.3' width='1.4' height='1.4'/><rect x='97.2' y='365.8' width='1.4' height='1.4'/><rect x='89.7' y='367.0' width='1.4' height='1.4'/><rect x='89.5' y='371.7' width='1.4' height='1.4'/><rect x='90.3' y='374.3' width='1.4' height='1.4'/><rect x='90.6' y='376.3' width='1.4' height='1.4'/><rect x='91.0' y='374.9' width='1.4' height='1.4'/><rect x='89.8' y='366.3' width='1.4' height='1.4'/><rect x='90.2' y='373.9' width='1.4' height='1.4'/><rect x='87.0' y='369.2' width='1.4' height='1.4'/><rect x='91.4' y='377.9' width='1.4' height='1.4'/><rect x='88.7' y='359.6' width='1.4' height='1.4'/><rect x='97.0' y='368.3' width='1.4' height='1.4'/><rect x='89.5' y='373.1' width='1.4' height='1.4'/><rect x='91.9' y='378.3' width='1.4' height='1.4'/><rect x='90.2' y='367.7' width='1.4' height='1.4'/><rect x='97.1' y='364.3' width='1.4' height='1.4'/><rect x='94.4' y='376.5' width='1.4' height='1.4'/><rect x='103.2' y='356.2' width='1.4' height='1.4'/><rect x='90.4' y='376.4' width='1.4' height='1.4'/><rect x='88.6' y='364.9' width='1.4' height='1.4'/><rect x='88.7' y='358.1' width='1.4' height='1.4'/><rect x='103.8' y='340.3' width='1.4' height='1.4'/><rect x='77.7' y='330.3' width='1.4' height='1.4'/><rect x='101.1' y='347.6' width='1.4' height='1.4'/><rect x='93.9' y='376.8' width='1.4' height='1.4'/><rect x='94.4' y='378.2' width='1.4' height='1.4'/><rect x='92.6' y='379.0' width='1.4' height='1.4'/><rect x='90.4' y='373.4' width='1.4' height='1.4'/><rect x='98.9' y='340.5' width='1.4' height='1.4'/><rect x='98.7' y='341.9' width='1.4' height='1.4'/><rect x='87.1' y='360.7' width='1.4' height='1.4'/><rect x='89.6' y='371.2' width='1.4' height='1.4'/><rect x='83.4' y='342.2' width='1.4' height='1.4'/><rect x='89.3' y='374.6' width='1.4' height='1.4'/><rect x='87.3' y='353.9' width='1.4' height='1.4'/><rect x='97.9' y='369.3' width='1.4' height='1.4'/><rect x='83.8' y='352.5' width='1.4' height='1.4'/><rect x='61.0' y='304.4' width='1.4' height='1.4'/><rect x='85.0' y='365.2' width='1.4' height='1.4'/><rect x='91.2' y='374.6' width='1.4' height='1.4'/><rect x='97.9' y='365.5' width='1.4' height='1.4'/><rect x='94.1' y='374.6' width='1.4' height='1.4'/><rect x='107.1' y='339.6' width='1.4' height='1.4'/><rect x='77.8' y='356.6' width='1.4' height='1.4'/><rect x='93.2' y='376.1' width='1.4' height='1.4'/><rect x='89.0' y='319.2' width='1.4' height='1.4'/><rect x='107.5' y='340.7' width='1.4' height='1.4'/><rect x='88.4' y='361.0' width='1.4' height='1.4'/><rect x='98.0' y='355.4' width='1.4' height='1.4'/><rect x='94.3' y='371.4' width='1.4' height='1.4'/><rect x='90.0' y='366.7' width='1.4' height='1.4'/><rect x='87.0' y='356.8' width='1.4' height='1.4'/><rect x='106.1' y='302.7' width='1.4' height='1.4'/><rect x='138.9' y='310.2' width='1.4' height='1.4'/><rect x='87.6' y='369.5' width='1.4' height='1.4'/><rect x='101.6' y='372.3' width='1.4' height='1.4'/><rect x='88.4' y='364.7' width='1.4' height='1.4'/><rect x='84.9' y='325.8' width='1.4' height='1.4'/><rect x='79.5' y='361.6' width='1.4' height='1.4'/><rect x='84.3' y='356.0' width='1.4' height='1.4'/><rect x='87.4' y='359.4' width='1.4' height='1.4'/><rect x='85.8' y='365.0' width='1.4' height='1.4'/><rect x='88.6' y='362.5' width='1.4' height='1.4'/><rect x='89.0' y='375.6' width='1.4' height='1.4'/><rect x='106.6' y='334.3' width='1.4' height='1.4'/><rect x='82.9' y='316.3' width='1.4' height='1.4'/><rect x='85.5' y='350.4' width='1.4' height='1.4'/><rect x='101.9' y='369.7' width='1.4' height='1.4'/><rect x='101.3' y='368.5' width='1.4' height='1.4'/><rect x='80.8' y='348.2' width='1.4' height='1.4'/><rect x='86.3' y='365.5' width='1.4' height='1.4'/><rect x='94.5' y='369.5' width='1.4' height='1.4'/><rect x='100.8' y='370.4' width='1.4' height='1.4'/><rect x='91.7' y='377.7' width='1.4' height='1.4'/><rect x='102.9' y='352.9' width='1.4' height='1.4'/><rect x='89.2' y='367.4' width='1.4' height='1.4'/><rect x='91.4' y='375.8' width='1.4' height='1.4'/><rect x='89.0' y='369.3' width='1.4' height='1.4'/><rect x='92.7' y='378.7' width='1.4' height='1.4'/><rect x='82.5' y='344.7' width='1.4' height='1.4'/><rect x='89.8' y='374.9' width='1.4' height='1.4'/><rect x='68.8' y='326.9' width='1.4' height='1.4'/><rect x='86.8' y='332.4' width='1.4' height='1.4'/><rect x='86.7' y='320.9' width='1.4' height='1.4'/><rect x='86.4' y='362.8' width='1.4' height='1.4'/><rect x='68.7' y='308.6' width='1.4' height='1.4'/><rect x='81.3' y='354.2' width='1.4' height='1.4'/><rect x='108.5' y='368.0' width='1.4' height='1.4'/><rect x='84.0' y='339.6' width='1.4' height='1.4'/><rect x='90.3' y='373.6' width='1.4' height='1.4'/><rect x='90.7' y='377.8' width='1.4' height='1.4'/><rect x='83.1' y='333.7' width='1.4' height='1.4'/><rect x='95.3' y='360.0' width='1.4' height='1.4'/><rect x='99.5' y='353.0' width='1.4' height='1.4'/><rect x='93.9' y='375.4' width='1.4' height='1.4'/><rect x='87.3' y='362.4' width='1.4' height='1.4'/><rect x='103.7' y='354.1' width='1.4' height='1.4'/><rect x='97.0' y='373.1' width='1.4' height='1.4'/><rect x='93.4' y='372.4' width='1.4' height='1.4'/><rect x='100.4' y='342.9' width='1.4' height='1.4'/><rect x='88.2' y='371.2' width='1.4' height='1.4'/><rect x='97.7' y='360.1' width='1.4' height='1.4'/><rect x='87.9' y='358.2' width='1.4' height='1.4'/><rect x='92.4' y='379.1' width='1.4' height='1.4'/><rect x='90.4' y='363.1' width='1.4' height='1.4'/><rect x='99.7' y='360.7' width='1.4' height='1.4'/><rect x='85.4' y='357.5' width='1.4' height='1.4'/><rect x='80.5' y='330.1' width='1.4' height='1.4'/><rect x='88.5' y='351.5' width='1.4' height='1.4'/><rect x='72.7' y='295.1' width='1.4' height='1.4'/><rect x='83.7' y='326.7' width='1.4' height='1.4'/><rect x='70.6' y='310.8' width='1.4' height='1.4'/><rect x='97.6' y='359.4' width='1.4' height='1.4'/><rect x='86.7' y='361.9' width='1.4' height='1.4'/><rect x='92.4' y='379.2' width='1.4' height='1.4'/><rect x='86.5' y='348.9' width='1.4' height='1.4'/><rect x='100.9' y='359.2' width='1.4' height='1.4'/><rect x='95.6' y='377.6' width='1.4' height='1.4'/><rect x='97.2' y='323.7' width='1.4' height='1.4'/><rect x='97.9' y='374.1' width='1.4' height='1.4'/><rect x='86.6' y='335.0' width='1.4' height='1.4'/><rect x='94.6' y='364.2' width='1.4' height='1.4'/><rect x='92.8' y='376.9' width='1.4' height='1.4'/><rect x='103.8' y='311.4' width='1.4' height='1.4'/><rect x='110.7' y='361.7' width='1.4' height='1.4'/><rect x='89.0' y='367.9' width='1.4' height='1.4'/><rect x='80.4' y='333.5' width='1.4' height='1.4'/><rect x='81.1' y='353.0' width='1.4' height='1.4'/><rect x='105.6' y='329.3' width='1.4' height='1.4'/><rect x='90.1' y='375.1' width='1.4' height='1.4'/><rect x='82.6' y='363.7' width='1.4' height='1.4'/><rect x='93.9' y='372.5' width='1.4' height='1.4'/><rect x='94.0' y='377.0' width='1.4' height='1.4'/><rect x='91.8' y='377.5' width='1.4' height='1.4'/><rect x='94.9' y='367.3' width='1.4' height='1.4'/><rect x='79.5' y='354.8' width='1.4' height='1.4'/><rect x='88.9' y='373.7' width='1.4' height='1.4'/><rect x='93.6' y='373.5' width='1.4' height='1.4'/><rect x='86.5' y='355.1' width='1.4' height='1.4'/><rect x='97.9' y='373.1' width='1.4' height='1.4'/><rect x='89.5' y='368.0' width='1.4' height='1.4'/><rect x='112.3' y='361.7' width='1.4' height='1.4'/><rect x='70.5' y='367.2' width='1.4' height='1.4'/><rect x='81.0' y='375.0' width='1.4' height='1.4'/><rect x='94.6' y='377.5' width='1.4' height='1.4'/><rect x='112.2' y='356.8' width='1.4' height='1.4'/><rect x='113.0' y='355.3' width='1.4' height='1.4'/><rect x='95.6' y='374.6' width='1.4' height='1.4'/><rect x='89.7' y='376.9' width='1.4' height='1.4'/><rect x='85.8' y='373.8' width='1.4' height='1.4'/><rect x='92.0' y='379.0' width='1.4' height='1.4'/><rect x='94.3' y='377.9' width='1.4' height='1.4'/><rect x='99.3' y='374.7' width='1.4' height='1.4'/><rect x='74.1' y='367.2' width='1.4' height='1.4'/><rect x='98.9' y='375.4' width='1.4' height='1.4'/><rect x='89.7' y='377.5' width='1.4' height='1.4'/><rect x='74.5' y='363.2' width='1.4' height='1.4'/><rect x='96.1' y='376.4' width='1.4' height='1.4'/><rect x='108.1' y='366.4' width='1.4' height='1.4'/><rect x='96.6' y='376.3' width='1.4' height='1.4'/><rect x='85.4' y='369.9' width='1.4' height='1.4'/><rect x='95.9' y='376.3' width='1.4' height='1.4'/><rect x='91.4' y='378.5' width='1.4' height='1.4'/><rect x='82.4' y='373.6' width='1.4' height='1.4'/><rect x='91.2' y='378.4' width='1.4' height='1.4'/><rect x='80.0' y='369.5' width='1.4' height='1.4'/><rect x='97.0' y='375.3' width='1.4' height='1.4'/><rect x='92.4' y='379.2' width='1.4' height='1.4'/><rect x='97.3' y='373.2' width='1.4' height='1.4'/><rect x='93.3' y='378.4' width='1.4' height='1.4'/><rect x='82.1' y='373.0' width='1.4' height='1.4'/><rect x='96.2' y='374.0' width='1.4' height='1.4'/><rect x='82.6' y='368.2' width='1.4' height='1.4'/><rect x='83.4' y='369.7' width='1.4' height='1.4'/><rect x='93.9' y='378.3' width='1.4' height='1.4'/><rect x='106.9' y='361.0' width='1.4' height='1.4'/><rect x='87.5' y='376.2' width='1.4' height='1.4'/><rect x='88.4' y='377.1' width='1.4' height='1.4'/><rect x='88.3' y='377.1' width='1.4' height='1.4'/><rect x='90.2' y='377.2' width='1.4' height='1.4'/><rect x='95.9' y='377.3' width='1.4' height='1.4'/><rect x='83.0' y='357.4' width='1.4' height='1.4'/><rect x='88.1' y='375.5' width='1.4' height='1.4'/><rect x='81.6' y='365.7' width='1.4' height='1.4'/><rect x='92.7' y='379.1' width='1.4' height='1.4'/><rect x='103.7' y='374.6' width='1.4' height='1.4'/><rect x='88.8' y='377.5' width='1.4' height='1.4'/><rect x='81.8' y='364.5' width='1.4' height='1.4'/><rect x='77.2' y='367.4' width='1.4' height='1.4'/><rect x='89.0' y='375.2' width='1.4' height='1.4'/><rect x='92.2' y='379.2' width='1.4' height='1.4'/><rect x='99.4' y='373.0' width='1.4' height='1.4'/><rect x='102.2' y='372.8' width='1.4' height='1.4'/><rect x='95.7' y='377.8' width='1.4' height='1.4'/><rect x='86.3' y='365.8' width='1.4' height='1.4'/><rect x='80.9' y='374.0' width='1.4' height='1.4'/><rect x='108.9' y='358.1' width='1.4' height='1.4'/><rect x='102.3' y='366.4' width='1.4' height='1.4'/><rect x='99.8' y='375.1' width='1.4' height='1.4'/><rect x='117.4' y='360.3' width='1.4' height='1.4'/><rect x='106.1' y='370.2' width='1.4' height='1.4'/><rect x='102.4' y='366.2' width='1.4' height='1.4'/><rect x='116.1' y='365.7' width='1.4' height='1.4'/><rect x='104.9' y='370.2' width='1.4' height='1.4'/><rect x='85.5' y='372.8' width='1.4' height='1.4'/><rect x='95.5' y='377.2' width='1.4' height='1.4'/><rect x='83.3' y='373.9' width='1.4' height='1.4'/><rect x='90.2' y='377.9' width='1.4' height='1.4'/><rect x='94.5' y='377.5' width='1.4' height='1.4'/><rect x='114.3' y='368.6' width='1.4' height='1.4'/><rect x='75.1' y='363.0' width='1.4' height='1.4'/><rect x='99.5' y='374.7' width='1.4' height='1.4'/><rect x='105.8' y='367.0' width='1.4' height='1.4'/><rect x='77.7' y='374.5' width='1.4' height='1.4'/><rect x='95.8' y='374.9' width='1.4' height='1.4'/><rect x='101.7' y='376.0' width='1.4' height='1.4'/><rect x='120.4' y='363.1' width='1.4' height='1.4'/><rect x='50.0' y='348.6' width='1.4' height='1.4'/><rect x='98.7' y='376.4' width='1.4' height='1.4'/><rect x='84.6' y='370.9' width='1.4' height='1.4'/><rect x='94.6' y='378.2' width='1.4' height='1.4'/><rect x='84.0' y='371.7' width='1.4' height='1.4'/><rect x='113.0' y='328.2' width='1.4' height='1.4'/><rect x='97.0' y='375.2' width='1.4' height='1.4'/><rect x='96.4' y='375.8' width='1.4' height='1.4'/><rect x='88.6' y='377.3' width='1.4' height='1.4'/><rect x='92.5' y='379.1' width='1.4' height='1.4'/><rect x='93.5' y='378.5' width='1.4' height='1.4'/><rect x='104.4' y='371.3' width='1.4' height='1.4'/><rect x='120.9' y='349.6' width='1.4' height='1.4'/><rect x='99.7' y='371.4' width='1.4' height='1.4'/><rect x='117.9' y='366.1' width='1.4' height='1.4'/><rect x='113.1' y='354.4' width='1.4' height='1.4'/><rect x='113.9' y='359.7' width='1.4' height='1.4'/><rect x='81.6' y='362.8' width='1.4' height='1.4'/><rect x='99.5' y='371.7' width='1.4' height='1.4'/><rect x='101.9' y='372.1' width='1.4' height='1.4'/><rect x='92.2' y='379.2' width='1.4' height='1.4'/><rect x='100.7' y='368.7' width='1.4' height='1.4'/><rect x='70.0' y='359.3' width='1.4' height='1.4'/><rect x='73.8' y='367.6' width='1.4' height='1.4'/><rect x='118.3' y='356.4' width='1.4' height='1.4'/><rect x='103.1' y='370.1' width='1.4' height='1.4'/><rect x='94.9' y='377.3' width='1.4' height='1.4'/><rect x='90.3' y='377.9' width='1.4' height='1.4'/><rect x='104.9' y='371.7' width='1.4' height='1.4'/><rect x='99.2' y='372.9' width='1.4' height='1.4'/><rect x='78.8' y='364.4' width='1.4' height='1.4'/><rect x='103.5' y='371.3' width='1.4' height='1.4'/><rect x='49.2' y='341.9' width='1.4' height='1.4'/><rect x='80.9' y='359.7' width='1.4' height='1.4'/><rect x='101.7' y='373.7' width='1.4' height='1.4'/><rect x='70.7' y='355.9' width='1.4' height='1.4'/><rect x='114.1' y='369.8' width='1.4' height='1.4'/><rect x='91.7' y='378.9' width='1.4' height='1.4'/><rect x='128.0' y='327.1' width='1.4' height='1.4'/><rect x='106.4' y='367.9' width='1.4' height='1.4'/><rect x='51.4' y='327.5' width='1.4' height='1.4'/><rect x='110.1' y='347.4' width='1.4' height='1.4'/><rect x='105.2' y='368.2' width='1.4' height='1.4'/><rect x='91.6' y='378.8' width='1.4' height='1.4'/><rect x='91.8' y='378.6' width='1.4' height='1.4'/><rect x='91.7' y='378.9' width='1.4' height='1.4'/><rect x='98.4' y='376.0' width='1.4' height='1.4'/><rect x='84.7' y='366.9' width='1.4' height='1.4'/><rect x='96.6' y='375.8' width='1.4' height='1.4'/><rect x='91.4' y='378.3' width='1.4' height='1.4'/><rect x='103.2' y='369.8' width='1.4' height='1.4'/><rect x='88.8' y='374.0' width='1.4' height='1.4'/><rect x='96.1' y='375.8' width='1.4' height='1.4'/><rect x='89.1' y='373.9' width='1.4' height='1.4'/><rect x='104.8' y='373.9' width='1.4' height='1.4'/><rect x='107.8' y='356.7' width='1.4' height='1.4'/><rect x='83.1' y='371.8' width='1.4' height='1.4'/><rect x='114.4' y='364.2' width='1.4' height='1.4'/><rect x='90.9' y='378.2' width='1.4' height='1.4'/><rect x='89.7' y='377.5' width='1.4' height='1.4'/><rect x='87.0' y='372.7' width='1.4' height='1.4'/><rect x='91.8' y='378.9' width='1.4' height='1.4'/><rect x='84.5' y='373.0' width='1.4' height='1.4'/><rect x='90.9' y='377.9' width='1.4' height='1.4'/><rect x='89.1' y='377.2' width='1.4' height='1.4'/><rect x='98.8' y='369.8' width='1.4' height='1.4'/><rect x='75.0' y='371.5' width='1.4' height='1.4'/><rect x='82.7' y='373.7' width='1.4' height='1.4'/><rect x='107.7' y='350.9' width='1.4' height='1.4'/><rect x='106.6' y='363.1' width='1.4' height='1.4'/><rect x='88.1' y='375.4' width='1.4' height='1.4'/><rect x='82.5' y='371.9' width='1.4' height='1.4'/><rect x='94.6' y='377.9' width='1.4' height='1.4'/><rect x='144.1' y='345.1' width='1.4' height='1.4'/><rect x='115.5' y='357.9' width='1.4' height='1.4'/><rect x='83.7' y='365.9' width='1.4' height='1.4'/><rect x='79.4' y='366.6' width='1.4' height='1.4'/><rect x='110.3' y='338.7' width='1.4' height='1.4'/><rect x='120.0' y='362.2' width='1.4' height='1.4'/><rect x='91.8' y='378.9' width='1.4' height='1.4'/><rect x='91.2' y='377.8' width='1.4' height='1.4'/><rect x='81.5' y='365.7' width='1.4' height='1.4'/><rect x='94.2' y='377.8' width='1.4' height='1.4'/><rect x='80.8' y='367.6' width='1.4' height='1.4'/><rect x='92.1' y='379.2' width='1.4' height='1.4'/><rect x='92.8' y='379.0' width='1.4' height='1.4'/><rect x='82.8' y='368.9' width='1.4' height='1.4'/><rect x='99.7' y='375.8' width='1.4' height='1.4'/><rect x='112.2' y='369.0' width='1.4' height='1.4'/><rect x='99.2' y='369.9' width='1.4' height='1.4'/><rect x='102.5' y='372.0' width='1.4' height='1.4'/><rect x='88.7' y='373.3' width='1.4' height='1.4'/><rect x='103.6' y='369.0' width='1.4' height='1.4'/><rect x='101.2' y='364.1' width='1.4' height='1.4'/><rect x='68.6' y='336.5' width='1.4' height='1.4'/><rect x='89.6' y='377.2' width='1.4' height='1.4'/><rect x='130.5' y='344.9' width='1.4' height='1.4'/><rect x='101.2' y='369.8' width='1.4' height='1.4'/><rect x='84.6' y='368.5' width='1.4' height='1.4'/><rect x='94.5' y='377.9' width='1.4' height='1.4'/><rect x='104.2' y='372.2' width='1.4' height='1.4'/><rect x='86.5' y='374.4' width='1.4' height='1.4'/><rect x='95.3' y='376.7' width='1.4' height='1.4'/><rect x='106.3' y='353.7' width='1.4' height='1.4'/><rect x='91.5' y='379.0' width='1.4' height='1.4'/><rect x='97.2' y='377.6' width='1.4' height='1.4'/><rect x='118.0' y='354.3' width='1.4' height='1.4'/><rect x='105.4' y='370.5' width='1.4' height='1.4'/><rect x='93.1' y='378.9' width='1.4' height='1.4'/><rect x='98.9' y='371.5' width='1.4' height='1.4'/><rect x='79.2' y='361.6' width='1.4' height='1.4'/><rect x='109.7' y='370.8' width='1.4' height='1.4'/><rect x='90.9' y='377.5' width='1.4' height='1.4'/><rect x='81.4' y='369.7' width='1.4' height='1.4'/><rect x='105.7' y='362.1' width='1.4' height='1.4'/><rect x='89.9' y='375.3' width='1.4' height='1.4'/><rect x='90.2' y='377.6' width='1.4' height='1.4'/><rect x='97.0' y='375.1' width='1.4' height='1.4'/><rect x='86.9' y='372.9' width='1.4' height='1.4'/><rect x='84.1' y='371.8' width='1.4' height='1.4'/><rect x='88.2' y='374.1' width='1.4' height='1.4'/><rect x='110.2' y='350.9' width='1.4' height='1.4'/><rect x='78.2' y='359.9' width='1.4' height='1.4'/><rect x='95.7' y='376.3' width='1.4' height='1.4'/><rect x='92.2' y='379.2' width='1.4' height='1.4'/><rect x='89.1' y='376.8' width='1.4' height='1.4'/><rect x='62.7' y='355.7' width='1.4' height='1.4'/><rect x='95.0' y='375.4' width='1.4' height='1.4'/><rect x='96.5' y='374.9' width='1.4' height='1.4'/><rect x='92.7' y='379.1' width='1.4' height='1.4'/><rect x='96.0' y='375.8' width='1.4' height='1.4'/><rect x='95.1' y='378.0' width='1.4' height='1.4'/><rect x='103.8' y='373.2' width='1.4' height='1.4'/><rect x='126.9' y='351.3' width='1.4' height='1.4'/><rect x='94.3' y='378.6' width='1.4' height='1.4'/><rect x='94.7' y='376.8' width='1.4' height='1.4'/><rect x='99.1' y='372.1' width='1.4' height='1.4'/><rect x='90.2' y='377.0' width='1.4' height='1.4'/><rect x='99.8' y='372.4' width='1.4' height='1.4'/><rect x='94.4' y='378.3' width='1.4' height='1.4'/><rect x='71.1' y='367.1' width='1.4' height='1.4'/><rect x='100.8' y='370.0' width='1.4' height='1.4'/><rect x='98.1' y='374.3' width='1.4' height='1.4'/><rect x='105.0' y='359.8' width='1.4' height='1.4'/><rect x='51.6' y='355.4' width='1.4' height='1.4'/><rect x='91.1' y='378.1' width='1.4' height='1.4'/><rect x='94.3' y='378.7' width='1.4' height='1.4'/><rect x='110.3' y='367.3' width='1.4' height='1.4'/><rect x='106.4' y='364.5' width='1.4' height='1.4'/><rect x='99.7' y='373.4' width='1.4' height='1.4'/><rect x='99.6' y='375.4' width='1.4' height='1.4'/><rect x='115.3' y='353.7' width='1.4' height='1.4'/><rect x='98.1' y='376.8' width='1.4' height='1.4'/><rect x='100.1' y='373.9' width='1.4' height='1.4'/><rect x='87.5' y='373.8' width='1.4' height='1.4'/><rect x='87.1' y='369.1' width='1.4' height='1.4'/><rect x='82.2' y='363.3' width='1.4' height='1.4'/><rect x='76.8' y='371.6' width='1.4' height='1.4'/><rect x='92.0' y='378.9' width='1.4' height='1.4'/><rect x='82.3' y='373.5' width='1.4' height='1.4'/><rect x='91.6' y='379.1' width='1.4' height='1.4'/><rect x='95.2' y='378.0' width='1.4' height='1.4'/><rect x='83.7' y='372.3' width='1.4' height='1.4'/><rect x='104.7' y='371.0' width='1.4' height='1.4'/><rect x='69.8' y='362.7' width='1.4' height='1.4'/><rect x='88.1' y='373.3' width='1.4' height='1.4'/><rect x='89.5' y='377.6' width='1.4' height='1.4'/><rect x='83.7' y='366.4' width='1.4' height='1.4'/><rect x='118.1' y='369.7' width='1.4' height='1.4'/><rect x='82.7' y='373.2' width='1.4' height='1.4'/><rect x='92.5' y='379.2' width='1.4' height='1.4'/><rect x='87.6' y='375.8' width='1.4' height='1.4'/><rect x='100.4' y='375.2' width='1.4' height='1.4'/><rect x='84.2' y='374.5' width='1.4' height='1.4'/><rect x='79.0' y='368.4' width='1.4' height='1.4'/><rect x='88.9' y='376.2' width='1.4' height='1.4'/><rect x='102.9' y='365.7' width='1.4' height='1.4'/><rect x='88.3' y='375.0' width='1.4' height='1.4'/><rect x='81.2' y='368.7' width='1.4' height='1.4'/><rect x='88.0' y='374.8' width='1.4' height='1.4'/><rect x='110.9' y='371.1' width='1.4' height='1.4'/><rect x='113.3' y='365.8' width='1.4' height='1.4'/><rect x='94.2' y='377.7' width='1.4' height='1.4'/><rect x='98.0' y='372.6' width='1.4' height='1.4'/><rect x='89.3' y='377.6' width='1.4' height='1.4'/><rect x='113.0' y='360.2' width='1.4' height='1.4'/><rect x='85.7' y='373.7' width='1.4' height='1.4'/><rect x='89.4' y='376.1' width='1.4' height='1.4'/><rect x='87.1' y='371.3' width='1.4' height='1.4'/><rect x='87.9' y='375.9' width='1.4' height='1.4'/><rect x='78.9' y='362.3' width='1.4' height='1.4'/><rect x='83.4' y='372.2' width='1.4' height='1.4'/><rect x='114.3' y='355.6' width='1.4' height='1.4'/><rect x='100.5' y='369.7' width='1.4' height='1.4'/><rect x='98.1' y='373.9' width='1.4' height='1.4'/><rect x='88.5' y='376.5' width='1.4' height='1.4'/><rect x='91.7' y='379.0' width='1.4' height='1.4'/><rect x='105.9' y='364.2' width='1.4' height='1.4'/><rect x='99.8' y='372.9' width='1.4' height='1.4'/><rect x='91.4' y='377.9' width='1.4' height='1.4'/><rect x='100.6' y='372.3' width='1.4' height='1.4'/><rect x='95.6' y='377.0' width='1.4' height='1.4'/><rect x='100.2' y='371.5' width='1.4' height='1.4'/><rect x='96.3' y='372.3' width='1.4' height='1.4'/><rect x='93.4' y='378.7' width='1.4' height='1.4'/><rect x='102.2' y='371.0' width='1.4' height='1.4'/><rect x='108.2' y='369.4' width='1.4' height='1.4'/><rect x='144.5' y='362.0' width='1.4' height='1.4'/><rect x='94.0' y='378.1' width='1.4' height='1.4'/><rect x='79.1' y='368.5' width='1.4' height='1.4'/><rect x='81.8' y='371.5' width='1.4' height='1.4'/><rect x='82.2' y='369.4' width='1.4' height='1.4'/><rect x='88.8' y='373.9' width='1.4' height='1.4'/><rect x='71.9' y='364.4' width='1.4' height='1.4'/><rect x='90.3' y='378.0' width='1.4' height='1.4'/><rect x='92.2' y='379.2' width='1.4' height='1.4'/><rect x='86.6' y='373.4' width='1.4' height='1.4'/><rect x='108.1' y='360.2' width='1.4' height='1.4'/><rect x='79.5' y='360.7' width='1.4' height='1.4'/><rect x='92.7' y='379.0' width='1.4' height='1.4'/><rect x='94.7' y='378.1' width='1.4' height='1.4'/><rect x='98.4' y='375.4' width='1.4' height='1.4'/><rect x='62.7' y='351.0' width='1.4' height='1.4'/><rect x='80.4' y='371.1' width='1.4' height='1.4'/><rect x='97.5' y='377.0' width='1.4' height='1.4'/><rect x='115.2' y='361.4' width='1.4' height='1.4'/><rect x='103.2' y='357.7' width='1.4' height='1.4'/><rect x='94.8' y='376.2' width='1.4' height='1.4'/><rect x='86.0' y='372.4' width='1.4' height='1.4'/><rect x='89.0' y='378.0' width='1.4' height='1.4'/><rect x='79.1' y='361.4' width='1.4' height='1.4'/><rect x='91.3' y='378.7' width='1.4' height='1.4'/><rect x='76.0' y='366.6' width='1.4' height='1.4'/><rect x='88.9' y='375.2' width='1.4' height='1.4'/><rect x='86.3' y='371.0' width='1.4' height='1.4'/><rect x='84.8' y='375.4' width='1.4' height='1.4'/><rect x='94.4' y='377.6' width='1.4' height='1.4'/><rect x='94.0' y='378.1' width='1.4' height='1.4'/><rect x='85.5' y='373.6' width='1.4' height='1.4'/><rect x='87.6' y='377.1' width='1.4' height='1.4'/><rect x='91.4' y='378.5' width='1.4' height='1.4'/><rect x='70.1' y='349.9' width='1.4' height='1.4'/><rect x='79.0' y='365.8' width='1.4' height='1.4'/><rect x='106.6' y='367.2' width='1.4' height='1.4'/><rect x='96.5' y='375.5' width='1.4' height='1.4'/><rect x='102.4' y='370.2' width='1.4' height='1.4'/><rect x='80.8' y='359.0' width='1.4' height='1.4'/><rect x='110.6' y='359.2' width='1.4' height='1.4'/><rect x='95.4' y='377.6' width='1.4' height='1.4'/><rect x='111.3' y='365.5' width='1.4' height='1.4'/><rect x='81.0' y='375.4' width='1.4' height='1.4'/><rect x='67.3' y='361.7' width='1.4' height='1.4'/><rect x='83.3' y='371.5' width='1.4' height='1.4'/><rect x='86.3' y='371.1' width='1.4' height='1.4'/><rect x='133.8' y='356.0' width='1.4' height='1.4'/><rect x='111.3' y='360.3' width='1.4' height='1.4'/><rect x='83.8' y='371.0' width='1.4' height='1.4'/><rect x='95.0' y='376.4' width='1.4' height='1.4'/><rect x='83.2' y='374.4' width='1.4' height='1.4'/><rect x='101.6' y='369.8' width='1.4' height='1.4'/><rect x='93.9' y='377.4' width='1.4' height='1.4'/><rect x='91.5' y='379.0' width='1.4' height='1.4'/><rect x='101.5' y='368.7' width='1.4' height='1.4'/><rect x='84.1' y='374.4' width='1.4' height='1.4'/><rect x='98.9' y='375.3' width='1.4' height='1.4'/><rect x='83.9' y='367.1' width='1.4' height='1.4'/><rect x='84.4' y='375.3' width='1.4' height='1.4'/><rect x='95.0' y='377.5' width='1.4' height='1.4'/><rect x='96.8' y='372.4' width='1.4' height='1.4'/><rect x='88.3' y='376.9' width='1.4' height='1.4'/><rect x='89.2' y='377.3' width='1.4' height='1.4'/><rect x='88.3' y='374.3' width='1.4' height='1.4'/><rect x='106.2' y='362.7' width='1.4' height='1.4'/><rect x='120.9' y='344.9' width='1.4' height='1.4'/></g><path d='M57.70 227.60 L57.60 233.66 L57.49 239.23 L57.39 244.37 L57.29 249.12 L57.19 253.54 L57.09 257.64 L56.99 261.48 L56.89 265.06 L56.79 268.42 L56.68 271.58 L56.58 274.55 L56.48 277.35 L56.38 279.99 L56.28 282.49 L56.18 284.86 L56.08 287.10 L55.98 289.23 L55.87 291.26 L55.77 293.19 L55.67 295.04 L55.57 296.79 L55.47 298.47 L55.37 300.08 L55.27 301.62 L55.17 303.09 L55.07 304.50 L54.96 305.86 L54.86 307.16 L54.76 308.41 L54.66 309.62 L54.56 310.78 L54.46 311.90 L54.36 312.97 L54.26 314.01 L54.15 315.02 L54.05 315.99 L53.95 316.93 L53.85 317.83 L53.75 318.71 L53.75 318.71 L53.35 321.89 L52.96 324.71 L52.56 327.23 L52.16 329.50 L51.77 331.54 L51.37 333.41 L50.98 335.10 L50.58 336.66 L50.18 338.09 L49.79 339.41 L49.39 340.63 L48.99 341.76 L48.60 342.81 L48.20 343.80 L47.81 344.71 L47.41 345.58 L47.01 346.39 L46.62 347.15 L46.22 347.86 L45.83 348.54 L45.43 349.18 L45.03 349.79 L44.64 350.36 L44.24 350.91 L43.84 351.43 L43.45 351.92 L43.05 352.40 L42.66 352.85 L42.26 353.28 L41.86 353.69 L41.47 354.08 L41.07 354.46 L40.67 354.82 L40.28 355.17 L39.88 355.50 L39.49 355.82 L39.09 356.13 L38.69 356.43 L38.30 356.71 L37.90 356.99 L37.51 357.26 L37.11 357.51 L36.71 357.76 L36.32 358.00 L35.92 358.23 L35.52 358.46 L35.13 358.68 L34.73 358.89 L34.34 359.09 L33.94 359.29 L33.54 359.48 L33.15 359.67 L32.75 359.85 L32.35 360.02 L31.96 360.19 L31.56 360.36 L31.17 360.52 L30.77 360.68 L30.37 360.83 L29.98 360.98 L29.58 361.12 L29.19 361.27 L28.79 361.40 L28.39 361.54 L28.00 361.67 L27.60 361.80 L27.20 361.92 L26.81 362.04 L26.41 362.16 L26.02 362.28 L25.62 362.39 L25.22 362.50 L24.83 362.61 L24.43 362.72 L24.03 362.82 L23.64 362.92 L23.24 363.02 L22.85 363.12 L22.45 363.21' stroke='#4a4a4a' stroke-width='1.0' fill='none'/><path d='M128.30 227.60 L128.40 233.66 L128.51 239.23 L128.61 244.37 L128.71 249.12 L128.81 253.54 L128.91 257.64 L129.01 261.48 L129.11 265.06 L129.21 268.42 L129.32 271.58 L129.42 274.55 L129.52 277.35 L129.62 279.99 L129.72 282.49 L129.82 284.86 L129.92 287.10 L130.02 289.23 L130.13 291.26 L130.23 293.19 L130.33 295.04 L130.43 296.79 L130.53 298.47 L130.63 300.08 L130.73 301.62 L130.83 303.09 L130.93 304.50 L131.04 305.86 L131.14 307.16 L131.24 308.41 L131.34 309.62 L131.44 310.78 L131.54 311.90 L131.64 312.97 L131.74 314.01 L131.85 315.02 L131.95 315.99 L132.05 316.93 L132.15 317.83 L132.25 318.71 L132.25 318.71 L133.91 329.88 L135.56 337.18 L137.22 342.33 L138.87 346.16 L140.53 349.11 L142.18 351.46 L143.84 353.38 L145.49 354.97 L147.15 356.31 L148.80 357.46 L150.46 358.45 L152.12 359.31 L153.77 360.08 L155.43 360.75 L157.08 361.36 L158.74 361.90 L160.39 362.39 L162.05 362.84 L163.70 363.25 L165.36 363.62 L167.01 363.96 L168.67 364.28 L170.32 364.57 L171.98 364.84 L173.64 365.10 L175.29 365.33 L176.95 365.55 L178.60 365.76 L180.26 365.95 L181.91 366.13 L183.57 366.31 L185.22 366.47 L186.88 366.62 L188.53 366.77 L190.19 366.91 L191.84 367.04 L193.50 367.16 L195.16 367.28 L196.81 367.39 L198.47 367.50 L200.12 367.60 L201.78 367.70 L203.43 367.80 L205.09 367.89 L206.74 367.97 L208.40 368.06 L210.05 368.14 L211.71 368.21 L213.36 368.29 L215.02 368.36 L216.67 368.43 L218.33 368.49 L219.99 368.56 L221.64 368.62 L223.30 368.68 L224.95 368.74 L226.61 368.79 L228.26 368.84 L229.92 368.90 L231.57 368.95 L233.23 369.00 L234.88 369.04 L236.54 369.09 L238.19 369.13 L239.85 369.18 L241.51 369.22 L243.16 369.26 L244.82 369.30 L246.47 369.34 L248.13 369.38 L249.78 369.41 L251.44 369.45 L253.09 369.48 L254.75 369.52 L256.40 369.55 L258.06 369.58 L259.71 369.61 L261.37 369.64 L263.03 369.67' stroke='#4a4a4a' stroke-width='1.0' fill='none'/><g fill='#f2586e'><circle cx='130.6' cy='285.5' r='1.0'/><circle cx='171.7' cy='247.4' r='1.0'/><circle cx='177' cy='263.2' r='1.0'/><circle cx='189.6' cy='273.4' r='1.0'/><circle cx='147.6' cy='281.6' r='1.0'/><circle cx='190.6' cy='291.8' r='1.0'/><circle cx='246.2' cy='266.8' r='1.0'/><circle cx='147.6' cy='299.7' r='1.0'/><circle cx='147.2' cy='306.1' r='1.0'/><circle cx='154.8' cy='305.7' r='1.0'/><circle cx='211.1' cy='301.8' r='1.0'/><circle cx='220' cy='300.4' r='1.0'/><circle cx='216.4' cy='305.7' r='1.0'/><circle cx='214.7' cy='309.7' r='1.0'/><circle cx='148.4' cy='315.2' r='1.0'/><circle cx='164.6' cy='317.1' r='1.0'/><circle cx='175.3' cy='319.3' r='1.0'/><circle cx='252.2' cy='315.7' r='1.0'/><circle cx='135' cy='319.6' r='1.0'/><circle cx='151.4' cy='326.7' r='1.0'/></g><line x1='21.8' y1='227.3' x2='21.8' y2='389.5' stroke='#383838' stroke-width='1.6'/><line x1='21.0' y1='389.5' x2='263.02549999999997' y2='389.5' stroke='#383838' stroke-width='1.6'/><g stroke='#383838' stroke-width='0.8'><line x1='19.8' y1='380.00' x2='21.8' y2='380.00'/><line x1='19.8' y1='359.57' x2='21.8' y2='359.57'/><line x1='19.8' y1='339.14' x2='21.8' y2='339.14'/><line x1='19.8' y1='318.71' x2='21.8' y2='318.71'/><line x1='19.8' y1='298.28' x2='21.8' y2='298.28'/><line x1='19.8' y1='277.85' x2='21.8' y2='277.85'/><line x1='19.8' y1='257.42' x2='21.8' y2='257.42'/><line x1='19.8' y1='236.99' x2='21.8' y2='236.99'/><line x1='36.56' y1='389.5' x2='36.56' y2='391.3'/><line x1='64.78' y1='389.5' x2='64.78' y2='391.3'/><line x1='93.00' y1='389.5' x2='93.00' y2='391.3'/><line x1='121.22' y1='389.5' x2='121.22' y2='391.3'/><line x1='149.44' y1='389.5' x2='149.44' y2='391.3'/><line x1='177.66' y1='389.5' x2='177.66' y2='391.3'/><line x1='205.88' y1='389.5' x2='205.88' y2='391.3'/><line x1='234.10' y1='389.5' x2='234.10' y2='391.3'/><line x1='262.32' y1='389.5' x2='262.32' y2='391.3'/></g><g font-family='"Liberation Sans", sans-serif' font-size='7.8' fill='#333' stroke='#333' stroke-width='0.12'><text x='19.5' y='382.80' text-anchor='end'>0</text><text x='19.5' y='362.37' text-anchor='end'>1</text><text x='19.5' y='341.94' text-anchor='end'>2</text><text x='19.5' y='321.51' text-anchor='end'>3</text><text x='19.5' y='301.08' text-anchor='end'>4</text><text x='19.5' y='280.65' text-anchor='end'>5</text><text x='19.5' y='260.22' text-anchor='end'>6</text><text x='19.5' y='239.79' text-anchor='end'>7</text><text x='36.56' y='399.3' text-anchor='middle'>–4</text><text x='64.78' y='399.3' text-anchor='middle'>–2</text><text x='93.00' y='399.3' text-anchor='middle'>0</text><text x='121.22' y='399.3' text-anchor='middle'>2</text><text x='149.44' y='399.3' text-anchor='middle'>4</text><text x='177.66' y='399.3' text-anchor='middle'>6</text><text x='205.88' y='399.3' text-anchor='middle'>8</text><text x='234.10' y='399.3' text-anchor='middle'>10</text><text x='262.32' y='399.3' text-anchor='middle'>12</text></g><text x='142.6' y='413.8' font-family='"Liberation Sans", sans-serif' font-size='8.15' fill='#333' stroke='#333' stroke-width='0.12' text-anchor='middle'>–Log2 Fold change difference (Halo - Halo-WT-Cys C)</text><text transform='translate(7.9,307.7) rotate(-90)' font-family='"Liberation Sans", sans-serif' font-size='8.1' fill='#333' stroke='#333' stroke-width='0.12' text-anchor='middle'>–Log10 (p-value)</text><text x='289.6' y='214.0' font-family='"Liberation Serif", serif' font-size='12.4' fill='#222'>d</text><g fill='#a4a4a4' fill-opacity='0.7'><rect x='360.3' y='316.3' width='1.4' height='1.4'/><rect x='364.1' y='331.0' width='1.4' height='1.4'/><rect x='364.4' y='362.7' width='1.4' height='1.4'/><rect x='381.6' y='341.4' width='1.4' height='1.4'/><rect x='366.5' y='374.9' width='1.4' height='1.4'/><rect x='349.0' y='322.8' width='1.4' height='1.4'/><rect x='378.1' y='373.0' width='1.4' height='1.4'/><rect x='356.0' y='335.0' width='1.4' height='1.4'/><rect x='381.7' y='348.3' width='1.4' height='1.4'/><rect x='381.2' y='337.4' width='1.4' height='1.4'/><rect x='374.3' y='375.0' width='1.4' height='1.4'/><rect x='375.0' y='376.8' width='1.4' height='1.4'/><rect x='372.7' y='378.4' width='1.4' height='1.4'/><rect x='377.0' y='376.8' width='1.4' height='1.4'/><rect x='372.1' y='377.0' width='1.4' height='1.4'/><rect x='364.4' y='358.1' width='1.4' height='1.4'/><rect x='376.9' y='358.8' width='1.4' height='1.4'/><rect x='375.5' y='370.7' width='1.4' height='1.4'/><rect x='388.6' y='362.8' width='1.4' height='1.4'/><rect x='353.3' y='342.4' width='1.4' height='1.4'/><rect x='367.7' y='368.4' width='1.4' height='1.4'/><rect x='376.2' y='374.1' width='1.4' height='1.4'/><rect x='382.7' y='351.7' width='1.4' height='1.4'/><rect x='341.8' y='318.1' width='1.4' height='1.4'/><rect x='390.9' y='334.2' width='1.4' height='1.4'/><rect x='373.2' y='379.2' width='1.4' height='1.4'/><rect x='369.4' y='364.9' width='1.4' height='1.4'/><rect x='369.7' y='363.2' width='1.4' height='1.4'/><rect x='398.5' y='304.6' width='1.4' height='1.4'/><rect x='365.2' y='340.0' width='1.4' height='1.4'/><rect x='366.0' y='360.4' width='1.4' height='1.4'/><rect x='382.3' y='371.6' width='1.4' height='1.4'/><rect x='371.8' y='375.7' width='1.4' height='1.4'/><rect x='366.9' y='374.2' width='1.4' height='1.4'/><rect x='371.0' y='375.8' width='1.4' height='1.4'/><rect x='366.1' y='332.9' width='1.4' height='1.4'/><rect x='392.1' y='345.7' width='1.4' height='1.4'/><rect x='374.6' y='373.3' width='1.4' height='1.4'/><rect x='378.8' y='364.0' width='1.4' height='1.4'/><rect x='361.4' y='354.9' width='1.4' height='1.4'/><rect x='351.2' y='338.7' width='1.4' height='1.4'/><rect x='369.5' y='371.8' width='1.4' height='1.4'/><rect x='364.9' y='347.4' width='1.4' height='1.4'/><rect x='377.9' y='337.9' width='1.4' height='1.4'/><rect x='366.0' y='338.5' width='1.4' height='1.4'/><rect x='365.1' y='362.7' width='1.4' height='1.4'/><rect x='373.2' y='378.9' width='1.4' height='1.4'/><rect x='367.8' y='369.1' width='1.4' height='1.4'/><rect x='387.5' y='345.9' width='1.4' height='1.4'/><rect x='368.1' y='372.0' width='1.4' height='1.4'/><rect x='370.4' y='362.9' width='1.4' height='1.4'/><rect x='378.8' y='376.3' width='1.4' height='1.4'/><rect x='367.4' y='361.3' width='1.4' height='1.4'/><rect x='377.5' y='374.1' width='1.4' height='1.4'/><rect x='368.3' y='360.6' width='1.4' height='1.4'/><rect x='360.1' y='315.7' width='1.4' height='1.4'/><rect x='367.9' y='351.5' width='1.4' height='1.4'/><rect x='357.7' y='347.1' width='1.4' height='1.4'/><rect x='375.7' y='375.5' width='1.4' height='1.4'/><rect x='372.3' y='377.3' width='1.4' height='1.4'/><rect x='365.8' y='337.9' width='1.4' height='1.4'/><rect x='393.5' y='353.5' width='1.4' height='1.4'/><rect x='364.4' y='319.9' width='1.4' height='1.4'/><rect x='365.6' y='354.9' width='1.4' height='1.4'/><rect x='367.4' y='358.1' width='1.4' height='1.4'/><rect x='412.8' y='324.4' width='1.4' height='1.4'/><rect x='362.5' y='362.4' width='1.4' height='1.4'/><rect x='379.0' y='362.5' width='1.4' height='1.4'/><rect x='366.7' y='373.2' width='1.4' height='1.4'/><rect x='364.3' y='336.5' width='1.4' height='1.4'/><rect x='390.8' y='312.8' width='1.4' height='1.4'/><rect x='371.8' y='377.5' width='1.4' height='1.4'/><rect x='390.2' y='334.0' width='1.4' height='1.4'/><rect x='369.7' y='370.7' width='1.4' height='1.4'/><rect x='363.0' y='359.0' width='1.4' height='1.4'/><rect x='369.7' y='352.0' width='1.4' height='1.4'/><rect x='353.3' y='327.5' width='1.4' height='1.4'/><rect x='367.3' y='344.7' width='1.4' height='1.4'/><rect x='364.3' y='342.7' width='1.4' height='1.4'/><rect x='369.4' y='372.5' width='1.4' height='1.4'/><rect x='371.6' y='375.0' width='1.4' height='1.4'/><rect x='375.6' y='374.8' width='1.4' height='1.4'/><rect x='383.7' y='340.2' width='1.4' height='1.4'/><rect x='382.9' y='364.9' width='1.4' height='1.4'/><rect x='373.1' y='378.6' width='1.4' height='1.4'/><rect x='374.9' y='363.7' width='1.4' height='1.4'/><rect x='369.9' y='369.3' width='1.4' height='1.4'/><rect x='398.5' y='345.5' width='1.4' height='1.4'/><rect x='374.2' y='375.3' width='1.4' height='1.4'/><rect x='390.7' y='347.1' width='1.4' height='1.4'/><rect x='351.8' y='337.3' width='1.4' height='1.4'/><rect x='403.2' y='336.5' width='1.4' height='1.4'/><rect x='380.8' y='365.8' width='1.4' height='1.4'/><rect x='362.1' y='366.1' width='1.4' height='1.4'/><rect x='366.9' y='370.7' width='1.4' height='1.4'/><rect x='369.0' y='370.4' width='1.4' height='1.4'/><rect x='366.4' y='342.0' width='1.4' height='1.4'/><rect x='366.5' y='360.6' width='1.4' height='1.4'/><rect x='381.5' y='353.9' width='1.4' height='1.4'/><rect x='380.1' y='366.8' width='1.4' height='1.4'/><rect x='382.6' y='352.3' width='1.4' height='1.4'/><rect x='370.2' y='371.7' width='1.4' height='1.4'/><rect x='365.7' y='347.0' width='1.4' height='1.4'/><rect x='384.5' y='347.7' width='1.4' height='1.4'/><rect x='373.5' y='379.0' width='1.4' height='1.4'/><rect x='369.1' y='357.8' width='1.4' height='1.4'/><rect x='373.9' y='376.0' width='1.4' height='1.4'/><rect x='362.5' y='326.1' width='1.4' height='1.4'/><rect x='366.7' y='324.6' width='1.4' height='1.4'/><rect x='361.7' y='349.8' width='1.4' height='1.4'/><rect x='384.7' y='344.6' width='1.4' height='1.4'/><rect x='367.3' y='346.3' width='1.4' height='1.4'/><rect x='411.7' y='326.7' width='1.4' height='1.4'/><rect x='362.4' y='365.2' width='1.4' height='1.4'/><rect x='368.9' y='363.5' width='1.4' height='1.4'/><rect x='354.4' y='349.9' width='1.4' height='1.4'/><rect x='366.2' y='356.2' width='1.4' height='1.4'/><rect x='401.3' y='334.8' width='1.4' height='1.4'/><rect x='375.8' y='357.4' width='1.4' height='1.4'/><rect x='371.6' y='376.6' width='1.4' height='1.4'/><rect x='368.0' y='370.8' width='1.4' height='1.4'/><rect x='372.8' y='378.8' width='1.4' height='1.4'/><rect x='379.1' y='356.1' width='1.4' height='1.4'/><rect x='382.9' y='356.2' width='1.4' height='1.4'/><rect x='358.5' y='349.0' width='1.4' height='1.4'/><rect x='370.9' y='363.8' width='1.4' height='1.4'/><rect x='389.9' y='322.5' width='1.4' height='1.4'/><rect x='382.7' y='332.1' width='1.4' height='1.4'/><rect x='359.4' y='348.0' width='1.4' height='1.4'/><rect x='364.2' y='331.8' width='1.4' height='1.4'/><rect x='380.2' y='373.8' width='1.4' height='1.4'/><rect x='391.0' y='313.2' width='1.4' height='1.4'/><rect x='358.2' y='341.3' width='1.4' height='1.4'/><rect x='366.9' y='365.4' width='1.4' height='1.4'/><rect x='376.0' y='373.8' width='1.4' height='1.4'/><rect x='373.6' y='377.1' width='1.4' height='1.4'/><rect x='377.9' y='343.1' width='1.4' height='1.4'/><rect x='361.0' y='351.0' width='1.4' height='1.4'/><rect x='375.3' y='371.2' width='1.4' height='1.4'/><rect x='385.7' y='310.8' width='1.4' height='1.4'/><rect x='366.3' y='368.0' width='1.4' height='1.4'/><rect x='369.4' y='368.5' width='1.4' height='1.4'/><rect x='365.2' y='358.3' width='1.4' height='1.4'/><rect x='371.0' y='377.4' width='1.4' height='1.4'/><rect x='365.3' y='363.8' width='1.4' height='1.4'/><rect x='367.3' y='363.2' width='1.4' height='1.4'/><rect x='367.3' y='371.9' width='1.4' height='1.4'/><rect x='371.3' y='377.3' width='1.4' height='1.4'/><rect x='374.6' y='378.4' width='1.4' height='1.4'/><rect x='346.6' y='368.5' width='1.4' height='1.4'/><rect x='373.0' y='378.7' width='1.4' height='1.4'/><rect x='385.0' y='339.0' width='1.4' height='1.4'/><rect x='372.7' y='378.0' width='1.4' height='1.4'/><rect x='374.4' y='377.5' width='1.4' height='1.4'/><rect x='365.7' y='370.2' width='1.4' height='1.4'/><rect x='362.3' y='357.5' width='1.4' height='1.4'/><rect x='373.3' y='379.2' width='1.4' height='1.4'/><rect x='367.1' y='360.6' width='1.4' height='1.4'/><rect x='368.3' y='339.5' width='1.4' height='1.4'/><rect x='377.5' y='351.6' width='1.4' height='1.4'/><rect x='370.1' y='363.5' width='1.4' height='1.4'/><rect x='362.1' y='333.9' width='1.4' height='1.4'/><rect x='375.8' y='373.8' width='1.4' height='1.4'/><rect x='387.6' y='314.1' width='1.4' height='1.4'/><rect x='378.1' y='370.3' width='1.4' height='1.4'/><rect x='371.1' y='377.7' width='1.4' height='1.4'/><rect x='373.7' y='374.3' width='1.4' height='1.4'/><rect x='379.1' y='375.2' width='1.4' height='1.4'/><rect x='376.7' y='353.2' width='1.4' height='1.4'/><rect x='376.4' y='375.0' width='1.4' height='1.4'/><rect x='375.9' y='376.0' width='1.4' height='1.4'/><rect x='386.6' y='314.0' width='1.4' height='1.4'/><rect x='367.1' y='364.3' width='1.4' height='1.4'/><rect x='382.6' y='331.2' width='1.4' height='1.4'/><rect x='363.7' y='359.4' width='1.4' height='1.4'/><rect x='376.0' y='342.4' width='1.4' height='1.4'/><rect x='375.1' y='366.6' width='1.4' height='1.4'/><rect x='368.0' y='338.5' width='1.4' height='1.4'/><rect x='362.2' y='348.8' width='1.4' height='1.4'/><rect x='368.2' y='357.3' width='1.4' height='1.4'/><rect x='381.0' y='368.7' width='1.4' height='1.4'/><rect x='366.3' y='340.3' width='1.4' height='1.4'/><rect x='366.2' y='350.6' width='1.4' height='1.4'/><rect x='369.4' y='365.2' width='1.4' height='1.4'/><rect x='367.2' y='364.2' width='1.4' height='1.4'/><rect x='400.9' y='347.3' width='1.4' height='1.4'/><rect x='382.4' y='365.9' width='1.4' height='1.4'/><rect x='385.1' y='370.6' width='1.4' height='1.4'/><rect x='362.4' y='365.8' width='1.4' height='1.4'/><rect x='366.9' y='343.0' width='1.4' height='1.4'/><rect x='380.2' y='367.6' width='1.4' height='1.4'/><rect x='365.9' y='354.9' width='1.4' height='1.4'/><rect x='371.7' y='374.4' width='1.4' height='1.4'/><rect x='366.5' y='350.0' width='1.4' height='1.4'/><rect x='390.4' y='365.2' width='1.4' height='1.4'/><rect x='363.9' y='320.1' width='1.4' height='1.4'/><rect x='365.6' y='350.3' width='1.4' height='1.4'/><rect x='368.5' y='361.6' width='1.4' height='1.4'/><rect x='359.9' y='344.2' width='1.4' height='1.4'/><rect x='362.5' y='350.3' width='1.4' height='1.4'/><rect x='373.6' y='378.1' width='1.4' height='1.4'/><rect x='377.4' y='370.1' width='1.4' height='1.4'/><rect x='366.6' y='374.1' width='1.4' height='1.4'/><rect x='394.0' y='334.7' width='1.4' height='1.4'/><rect x='362.5' y='353.3' width='1.4' height='1.4'/><rect x='388.3' y='349.9' width='1.4' height='1.4'/><rect x='371.8' y='377.8' width='1.4' height='1.4'/><rect x='379.2' y='346.5' width='1.4' height='1.4'/><rect x='372.9' y='378.4' width='1.4' height='1.4'/><rect x='402.2' y='315.7' width='1.4' height='1.4'/><rect x='376.1' y='358.1' width='1.4' height='1.4'/><rect x='375.4' y='370.6' width='1.4' height='1.4'/><rect x='377.0' y='367.3' width='1.4' height='1.4'/><rect x='387.5' y='365.1' width='1.4' height='1.4'/><rect x='362.3' y='360.4' width='1.4' height='1.4'/><rect x='356.7' y='321.7' width='1.4' height='1.4'/><rect x='374.7' y='374.6' width='1.4' height='1.4'/><rect x='369.2' y='375.2' width='1.4' height='1.4'/><rect x='366.1' y='353.8' width='1.4' height='1.4'/><rect x='396.5' y='359.7' width='1.4' height='1.4'/><rect x='363.5' y='361.5' width='1.4' height='1.4'/><rect x='376.3' y='374.3' width='1.4' height='1.4'/><rect x='365.6' y='311.6' width='1.4' height='1.4'/><rect x='384.2' y='320.0' width='1.4' height='1.4'/><rect x='364.1' y='365.0' width='1.4' height='1.4'/><rect x='355.7' y='353.6' width='1.4' height='1.4'/><rect x='371.6' y='376.6' width='1.4' height='1.4'/><rect x='373.5' y='379.2' width='1.4' height='1.4'/><rect x='379.6' y='367.1' width='1.4' height='1.4'/><rect x='372.7' y='378.3' width='1.4' height='1.4'/><rect x='366.4' y='349.0' width='1.4' height='1.4'/><rect x='377.2' y='374.2' width='1.4' height='1.4'/><rect x='373.9' y='376.2' width='1.4' height='1.4'/><rect x='367.0' y='365.4' width='1.4' height='1.4'/><rect x='375.1' y='377.3' width='1.4' height='1.4'/><rect x='412.4' y='350.2' width='1.4' height='1.4'/><rect x='376.9' y='350.7' width='1.4' height='1.4'/><rect x='371.9' y='373.7' width='1.4' height='1.4'/><rect x='382.7' y='369.4' width='1.4' height='1.4'/><rect x='377.9' y='371.5' width='1.4' height='1.4'/><rect x='374.2' y='376.8' width='1.4' height='1.4'/><rect x='356.6' y='340.4' width='1.4' height='1.4'/><rect x='388.6' y='363.0' width='1.4' height='1.4'/><rect x='359.9' y='342.9' width='1.4' height='1.4'/><rect x='351.7' y='333.1' width='1.4' height='1.4'/><rect x='383.6' y='340.9' width='1.4' height='1.4'/><rect x='378.8' y='371.6' width='1.4' height='1.4'/><rect x='367.3' y='369.8' width='1.4' height='1.4'/><rect x='372.5' y='378.4' width='1.4' height='1.4'/><rect x='369.7' y='373.2' width='1.4' height='1.4'/><rect x='380.5' y='367.4' width='1.4' height='1.4'/><rect x='375.5' y='342.1' width='1.4' height='1.4'/><rect x='372.0' y='378.4' width='1.4' height='1.4'/><rect x='370.2' y='361.2' width='1.4' height='1.4'/><rect x='362.9' y='348.1' width='1.4' height='1.4'/><rect x='387.8' y='365.1' width='1.4' height='1.4'/><rect x='358.4' y='316.6' width='1.4' height='1.4'/><rect x='363.5' y='362.1' width='1.4' height='1.4'/><rect x='396.9' y='340.7' width='1.4' height='1.4'/><rect x='340.7' y='317.3' width='1.4' height='1.4'/><rect x='358.3' y='308.7' width='1.4' height='1.4'/><rect x='364.9' y='319.4' width='1.4' height='1.4'/><rect x='362.7' y='355.5' width='1.4' height='1.4'/><rect x='369.2' y='335.9' width='1.4' height='1.4'/><rect x='368.7' y='356.5' width='1.4' height='1.4'/><rect x='382.1' y='370.9' width='1.4' height='1.4'/><rect x='362.9' y='354.0' width='1.4' height='1.4'/><rect x='372.1' y='376.3' width='1.4' height='1.4'/><rect x='366.2' y='357.1' width='1.4' height='1.4'/><rect x='376.7' y='363.9' width='1.4' height='1.4'/><rect x='363.1' y='340.5' width='1.4' height='1.4'/><rect x='378.5' y='354.8' width='1.4' height='1.4'/><rect x='361.1' y='337.8' width='1.4' height='1.4'/><rect x='372.1' y='376.2' width='1.4' height='1.4'/><rect x='372.9' y='378.5' width='1.4' height='1.4'/><rect x='369.7' y='357.9' width='1.4' height='1.4'/><rect x='366.8' y='354.4' width='1.4' height='1.4'/><rect x='370.0' y='374.6' width='1.4' height='1.4'/><rect x='371.3' y='375.5' width='1.4' height='1.4'/><rect x='361.9' y='332.6' width='1.4' height='1.4'/><rect x='364.6' y='356.3' width='1.4' height='1.4'/><rect x='383.2' y='326.9' width='1.4' height='1.4'/><rect x='370.4' y='374.5' width='1.4' height='1.4'/><rect x='369.4' y='371.0' width='1.4' height='1.4'/><rect x='369.7' y='370.1' width='1.4' height='1.4'/><rect x='377.7' y='346.9' width='1.4' height='1.4'/><rect x='358.3' y='363.7' width='1.4' height='1.4'/><rect x='363.3' y='351.5' width='1.4' height='1.4'/><rect x='363.1' y='345.4' width='1.4' height='1.4'/><rect x='362.6' y='334.7' width='1.4' height='1.4'/><rect x='376.9' y='372.8' width='1.4' height='1.4'/><rect x='364.7' y='360.9' width='1.4' height='1.4'/><rect x='347.2' y='349.1' width='1.4' height='1.4'/><rect x='371.4' y='366.2' width='1.4' height='1.4'/><rect x='380.0' y='358.7' width='1.4' height='1.4'/><rect x='377.2' y='370.9' width='1.4' height='1.4'/><rect x='390.0' y='353.3' width='1.4' height='1.4'/><rect x='363.0' y='370.9' width='1.4' height='1.4'/><rect x='365.1' y='329.9' width='1.4' height='1.4'/><rect x='381.0' y='362.3' width='1.4' height='1.4'/><rect x='370.0' y='375.0' width='1.4' height='1.4'/><rect x='377.2' y='363.5' width='1.4' height='1.4'/><rect x='376.3' y='367.6' width='1.4' height='1.4'/><rect x='367.8' y='370.6' width='1.4' height='1.4'/><rect x='380.3' y='351.6' width='1.4' height='1.4'/><rect x='366.7' y='364.7' width='1.4' height='1.4'/><rect x='373.7' y='378.7' width='1.4' height='1.4'/><rect x='390.8' y='326.9' width='1.4' height='1.4'/><rect x='370.1' y='374.4' width='1.4' height='1.4'/><rect x='364.6' y='343.4' width='1.4' height='1.4'/><rect x='366.5' y='346.0' width='1.4' height='1.4'/><rect x='371.3' y='372.8' width='1.4' height='1.4'/><rect x='376.5' y='376.4' width='1.4' height='1.4'/><rect x='369.1' y='340.5' width='1.4' height='1.4'/><rect x='368.7' y='363.1' width='1.4' height='1.4'/><rect x='405.4' y='307.9' width='1.4' height='1.4'/><rect x='361.9' y='368.6' width='1.4' height='1.4'/><rect x='362.6' y='355.2' width='1.4' height='1.4'/><rect x='366.0' y='344.2' width='1.4' height='1.4'/><rect x='376.4' y='370.9' width='1.4' height='1.4'/><rect x='368.0' y='363.0' width='1.4' height='1.4'/><rect x='358.9' y='348.6' width='1.4' height='1.4'/><rect x='373.7' y='377.7' width='1.4' height='1.4'/><rect x='363.1' y='354.6' width='1.4' height='1.4'/><rect x='377.4' y='362.6' width='1.4' height='1.4'/><rect x='372.3' y='377.6' width='1.4' height='1.4'/><rect x='374.1' y='374.0' width='1.4' height='1.4'/><rect x='377.1' y='370.7' width='1.4' height='1.4'/><rect x='375.6' y='367.2' width='1.4' height='1.4'/><rect x='397.8' y='327.2' width='1.4' height='1.4'/><rect x='370.7' y='374.3' width='1.4' height='1.4'/><rect x='376.8' y='374.2' width='1.4' height='1.4'/><rect x='366.8' y='341.8' width='1.4' height='1.4'/><rect x='371.1' y='376.7' width='1.4' height='1.4'/><rect x='362.2' y='354.2' width='1.4' height='1.4'/><rect x='363.7' y='341.0' width='1.4' height='1.4'/><rect x='378.2' y='364.8' width='1.4' height='1.4'/><rect x='372.0' y='378.2' width='1.4' height='1.4'/><rect x='363.5' y='363.3' width='1.4' height='1.4'/><rect x='366.3' y='365.9' width='1.4' height='1.4'/><rect x='363.3' y='347.1' width='1.4' height='1.4'/><rect x='357.7' y='346.8' width='1.4' height='1.4'/><rect x='376.5' y='374.3' width='1.4' height='1.4'/><rect x='371.4' y='374.7' width='1.4' height='1.4'/><rect x='382.8' y='345.6' width='1.4' height='1.4'/><rect x='387.2' y='354.5' width='1.4' height='1.4'/><rect x='369.6' y='362.5' width='1.4' height='1.4'/><rect x='386.1' y='343.6' width='1.4' height='1.4'/><rect x='370.0' y='376.1' width='1.4' height='1.4'/><rect x='367.6' y='330.6' width='1.4' height='1.4'/><rect x='363.5' y='317.8' width='1.4' height='1.4'/><rect x='378.1' y='370.1' width='1.4' height='1.4'/><rect x='356.1' y='350.9' width='1.4' height='1.4'/><rect x='393.4' y='331.2' width='1.4' height='1.4'/><rect x='366.1' y='356.5' width='1.4' height='1.4'/><rect x='357.9' y='351.4' width='1.4' height='1.4'/><rect x='368.1' y='364.1' width='1.4' height='1.4'/><rect x='370.5' y='361.7' width='1.4' height='1.4'/><rect x='362.8' y='364.8' width='1.4' height='1.4'/><rect x='369.1' y='365.4' width='1.4' height='1.4'/><rect x='349.2' y='340.2' width='1.4' height='1.4'/><rect x='366.2' y='360.7' width='1.4' height='1.4'/><rect x='393.0' y='312.8' width='1.4' height='1.4'/><rect x='374.6' y='376.4' width='1.4' height='1.4'/><rect x='364.7' y='340.1' width='1.4' height='1.4'/><rect x='376.9' y='373.3' width='1.4' height='1.4'/><rect x='368.9' y='370.0' width='1.4' height='1.4'/><rect x='356.7' y='354.5' width='1.4' height='1.4'/><rect x='365.3' y='372.5' width='1.4' height='1.4'/><rect x='379.9' y='366.6' width='1.4' height='1.4'/><rect x='378.0' y='360.1' width='1.4' height='1.4'/><rect x='378.3' y='338.3' width='1.4' height='1.4'/><rect x='379.3' y='364.2' width='1.4' height='1.4'/><rect x='379.8' y='357.1' width='1.4' height='1.4'/><rect x='369.2' y='341.6' width='1.4' height='1.4'/><rect x='392.0' y='361.7' width='1.4' height='1.4'/><rect x='367.5' y='371.3' width='1.4' height='1.4'/><rect x='366.0' y='366.1' width='1.4' height='1.4'/><rect x='359.3' y='348.3' width='1.4' height='1.4'/><rect x='359.2' y='355.1' width='1.4' height='1.4'/><rect x='362.3' y='361.9' width='1.4' height='1.4'/><rect x='371.3' y='375.4' width='1.4' height='1.4'/><rect x='383.4' y='360.0' width='1.4' height='1.4'/><rect x='387.9' y='323.9' width='1.4' height='1.4'/><rect x='371.9' y='375.7' width='1.4' height='1.4'/><rect x='370.3' y='375.9' width='1.4' height='1.4'/><rect x='379.9' y='366.0' width='1.4' height='1.4'/><rect x='401.9' y='359.6' width='1.4' height='1.4'/><rect x='365.4' y='347.1' width='1.4' height='1.4'/><rect x='378.7' y='364.3' width='1.4' height='1.4'/><rect x='367.0' y='363.1' width='1.4' height='1.4'/><rect x='367.8' y='359.0' width='1.4' height='1.4'/><rect x='356.5' y='324.9' width='1.4' height='1.4'/><rect x='358.9' y='355.0' width='1.4' height='1.4'/><rect x='369.2' y='374.8' width='1.4' height='1.4'/><rect x='372.6' y='377.4' width='1.4' height='1.4'/><rect x='374.0' y='376.7' width='1.4' height='1.4'/><rect x='349.3' y='322.0' width='1.4' height='1.4'/><rect x='368.7' y='356.1' width='1.4' height='1.4'/><rect x='375.5' y='367.3' width='1.4' height='1.4'/><rect x='361.1' y='327.1' width='1.4' height='1.4'/><rect x='373.6' y='378.7' width='1.4' height='1.4'/><rect x='355.8' y='353.9' width='1.4' height='1.4'/><rect x='367.2' y='351.3' width='1.4' height='1.4'/><rect x='372.7' y='372.3' width='1.4' height='1.4'/><rect x='370.5' y='375.5' width='1.4' height='1.4'/><rect x='380.6' y='360.8' width='1.4' height='1.4'/><rect x='378.6' y='374.1' width='1.4' height='1.4'/><rect x='358.9' y='329.7' width='1.4' height='1.4'/><rect x='425.5' y='314.5' width='1.4' height='1.4'/><rect x='360.9' y='364.3' width='1.4' height='1.4'/><rect x='365.4' y='361.9' width='1.4' height='1.4'/><rect x='370.6' y='372.2' width='1.4' height='1.4'/><rect x='383.5' y='351.0' width='1.4' height='1.4'/><rect x='369.5' y='360.2' width='1.4' height='1.4'/><rect x='376.8' y='367.4' width='1.4' height='1.4'/><rect x='374.8' y='361.2' width='1.4' height='1.4'/><rect x='379.5' y='366.2' width='1.4' height='1.4'/><rect x='386.8' y='320.9' width='1.4' height='1.4'/><rect x='348.7' y='314.9' width='1.4' height='1.4'/><rect x='382.4' y='315.9' width='1.4' height='1.4'/><rect x='386.3' y='319.8' width='1.4' height='1.4'/><rect x='370.5' y='375.5' width='1.4' height='1.4'/><rect x='376.7' y='364.9' width='1.4' height='1.4'/><rect x='370.1' y='373.5' width='1.4' height='1.4'/><rect x='373.0' y='379.1' width='1.4' height='1.4'/><rect x='367.6' y='361.1' width='1.4' height='1.4'/><rect x='365.3' y='340.9' width='1.4' height='1.4'/><rect x='368.6' y='370.5' width='1.4' height='1.4'/><rect x='372.0' y='376.8' width='1.4' height='1.4'/><rect x='365.7' y='363.6' width='1.4' height='1.4'/><rect x='370.1' y='373.3' width='1.4' height='1.4'/><rect x='364.2' y='364.3' width='1.4' height='1.4'/><rect x='371.4' y='376.1' width='1.4' height='1.4'/><rect x='371.5' y='376.0' width='1.4' height='1.4'/><rect x='372.4' y='377.7' width='1.4' height='1.4'/><rect x='390.3' y='365.9' width='1.4' height='1.4'/><rect x='370.7' y='374.8' width='1.4' height='1.4'/><rect x='381.0' y='357.7' width='1.4' height='1.4'/><rect x='379.6' y='366.5' width='1.4' height='1.4'/><rect x='379.0' y='366.9' width='1.4' height='1.4'/><rect x='370.4' y='375.6' width='1.4' height='1.4'/><rect x='385.0' y='331.2' width='1.4' height='1.4'/><rect x='372.7' y='378.3' width='1.4' height='1.4'/><rect x='379.2' y='343.3' width='1.4' height='1.4'/><rect x='382.7' y='350.0' width='1.4' height='1.4'/><rect x='370.6' y='371.2' width='1.4' height='1.4'/><rect x='371.4' y='370.5' width='1.4' height='1.4'/><rect x='357.3' y='319.1' width='1.4' height='1.4'/><rect x='368.0' y='367.0' width='1.4' height='1.4'/><rect x='365.3' y='352.0' width='1.4' height='1.4'/><rect x='384.9' y='369.6' width='1.4' height='1.4'/><rect x='371.2' y='368.4' width='1.4' height='1.4'/><rect x='389.2' y='334.0' width='1.4' height='1.4'/><rect x='365.2' y='333.9' width='1.4' height='1.4'/><rect x='376.1' y='352.0' width='1.4' height='1.4'/><rect x='385.7' y='369.3' width='1.4' height='1.4'/><rect x='367.7' y='361.0' width='1.4' height='1.4'/><rect x='370.0' y='366.4' width='1.4' height='1.4'/><rect x='376.8' y='370.6' width='1.4' height='1.4'/><rect x='393.4' y='306.8' width='1.4' height='1.4'/><rect x='347.9' y='307.1' width='1.4' height='1.4'/><rect x='388.3' y='335.2' width='1.4' height='1.4'/><rect x='375.6' y='376.3' width='1.4' height='1.4'/><rect x='355.8' y='315.2' width='1.4' height='1.4'/><rect x='386.1' y='354.2' width='1.4' height='1.4'/><rect x='365.7' y='362.2' width='1.4' height='1.4'/><rect x='375.4' y='374.8' width='1.4' height='1.4'/><rect x='380.9' y='369.4' width='1.4' height='1.4'/><rect x='369.4' y='339.8' width='1.4' height='1.4'/><rect x='395.4' y='359.3' width='1.4' height='1.4'/><rect x='350.7' y='317.6' width='1.4' height='1.4'/><rect x='369.3' y='368.0' width='1.4' height='1.4'/><rect x='375.2' y='362.3' width='1.4' height='1.4'/><rect x='354.5' y='356.6' width='1.4' height='1.4'/><rect x='345.9' y='300.1' width='1.4' height='1.4'/><rect x='364.8' y='355.4' width='1.4' height='1.4'/><rect x='368.7' y='365.7' width='1.4' height='1.4'/><rect x='398.2' y='314.9' width='1.4' height='1.4'/><rect x='368.7' y='370.5' width='1.4' height='1.4'/><rect x='375.3' y='376.4' width='1.4' height='1.4'/><rect x='390.3' y='350.6' width='1.4' height='1.4'/><rect x='369.2' y='359.7' width='1.4' height='1.4'/><rect x='370.2' y='371.7' width='1.4' height='1.4'/><rect x='368.1' y='364.0' width='1.4' height='1.4'/><rect x='382.5' y='314.4' width='1.4' height='1.4'/><rect x='374.3' y='375.8' width='1.4' height='1.4'/><rect x='368.7' y='330.3' width='1.4' height='1.4'/><rect x='365.6' y='336.0' width='1.4' height='1.4'/><rect x='363.8' y='339.8' width='1.4' height='1.4'/><rect x='358.4' y='321.3' width='1.4' height='1.4'/><rect x='370.6' y='375.3' width='1.4' height='1.4'/><rect x='378.5' y='328.3' width='1.4' height='1.4'/><rect x='369.3' y='373.5' width='1.4' height='1.4'/><rect x='377.5' y='373.3' width='1.4' height='1.4'/><rect x='381.6' y='353.1' width='1.4' height='1.4'/><rect x='369.1' y='374.3' width='1.4' height='1.4'/><rect x='368.1' y='375.4' width='1.4' height='1.4'/><rect x='365.0' y='340.6' width='1.4' height='1.4'/><rect x='360.4' y='355.0' width='1.4' height='1.4'/><rect x='368.2' y='373.8' width='1.4' height='1.4'/><rect x='368.6' y='371.9' width='1.4' height='1.4'/><rect x='368.3' y='355.2' width='1.4' height='1.4'/><rect x='381.7' y='354.0' width='1.4' height='1.4'/><rect x='400.5' y='328.4' width='1.4' height='1.4'/><rect x='376.8' y='368.7' width='1.4' height='1.4'/><rect x='369.4' y='364.4' width='1.4' height='1.4'/><rect x='385.3' y='338.9' width='1.4' height='1.4'/><rect x='358.6' y='331.1' width='1.4' height='1.4'/><rect x='372.1' y='376.2' width='1.4' height='1.4'/><rect x='372.6' y='378.2' width='1.4' height='1.4'/><rect x='374.2' y='375.7' width='1.4' height='1.4'/><rect x='370.6' y='374.3' width='1.4' height='1.4'/><rect x='376.1' y='362.7' width='1.4' height='1.4'/><rect x='368.1' y='366.3' width='1.4' height='1.4'/><rect x='370.0' y='374.1' width='1.4' height='1.4'/><rect x='363.1' y='352.6' width='1.4' height='1.4'/><rect x='365.9' y='353.0' width='1.4' height='1.4'/><rect x='380.9' y='324.0' width='1.4' height='1.4'/><rect x='367.9' y='345.5' width='1.4' height='1.4'/><rect x='342.5' y='343.1' width='1.4' height='1.4'/><rect x='387.6' y='349.0' width='1.4' height='1.4'/><rect x='361.7' y='309.8' width='1.4' height='1.4'/><rect x='369.2' y='369.0' width='1.4' height='1.4'/><rect x='371.7' y='376.9' width='1.4' height='1.4'/><rect x='376.2' y='366.1' width='1.4' height='1.4'/><rect x='373.6' y='378.3' width='1.4' height='1.4'/><rect x='372.2' y='377.8' width='1.4' height='1.4'/><rect x='369.9' y='372.2' width='1.4' height='1.4'/><rect x='366.0' y='336.3' width='1.4' height='1.4'/><rect x='387.1' y='337.2' width='1.4' height='1.4'/><rect x='365.4' y='357.1' width='1.4' height='1.4'/><rect x='377.3' y='372.6' width='1.4' height='1.4'/><rect x='365.1' y='330.6' width='1.4' height='1.4'/><rect x='375.0' y='377.3' width='1.4' height='1.4'/><rect x='355.8' y='361.8' width='1.4' height='1.4'/><rect x='405.2' y='364.5' width='1.4' height='1.4'/><rect x='358.1' y='325.0' width='1.4' height='1.4'/><rect x='358.9' y='346.1' width='1.4' height='1.4'/><rect x='372.9' y='378.2' width='1.4' height='1.4'/><rect x='368.3' y='357.7' width='1.4' height='1.4'/><rect x='388.8' y='365.6' width='1.4' height='1.4'/><rect x='385.7' y='356.1' width='1.4' height='1.4'/><rect x='362.3' y='361.8' width='1.4' height='1.4'/><rect x='375.7' y='370.1' width='1.4' height='1.4'/><rect x='370.5' y='373.4' width='1.4' height='1.4'/><rect x='384.8' y='376.3' width='1.4' height='1.4'/><rect x='360.7' y='360.1' width='1.4' height='1.4'/><rect x='370.7' y='372.8' width='1.4' height='1.4'/><rect x='363.9' y='358.5' width='1.4' height='1.4'/><rect x='354.8' y='347.1' width='1.4' height='1.4'/><rect x='363.4' y='326.5' width='1.4' height='1.4'/><rect x='372.3' y='378.0' width='1.4' height='1.4'/><rect x='360.8' y='309.0' width='1.4' height='1.4'/><rect x='352.8' y='328.6' width='1.4' height='1.4'/><rect x='379.8' y='325.4' width='1.4' height='1.4'/><rect x='377.6' y='340.8' width='1.4' height='1.4'/><rect x='388.5' y='319.7' width='1.4' height='1.4'/><rect x='377.4' y='346.4' width='1.4' height='1.4'/><rect x='396.8' y='314.2' width='1.4' height='1.4'/><rect x='379.0' y='357.7' width='1.4' height='1.4'/><rect x='369.7' y='371.0' width='1.4' height='1.4'/><rect x='378.3' y='373.7' width='1.4' height='1.4'/><rect x='384.8' y='362.0' width='1.4' height='1.4'/><rect x='376.1' y='367.9' width='1.4' height='1.4'/><rect x='366.4' y='352.2' width='1.4' height='1.4'/><rect x='375.1' y='377.7' width='1.4' height='1.4'/><rect x='368.7' y='352.9' width='1.4' height='1.4'/><rect x='370.0' y='373.7' width='1.4' height='1.4'/><rect x='358.6' y='329.1' width='1.4' height='1.4'/><rect x='372.8' y='376.9' width='1.4' height='1.4'/><rect x='347.1' y='329.1' width='1.4' height='1.4'/><rect x='362.0' y='325.7' width='1.4' height='1.4'/><rect x='372.5' y='378.1' width='1.4' height='1.4'/><rect x='364.2' y='324.6' width='1.4' height='1.4'/><rect x='365.2' y='356.6' width='1.4' height='1.4'/><rect x='373.6' y='378.9' width='1.4' height='1.4'/><rect x='368.2' y='362.5' width='1.4' height='1.4'/><rect x='376.1' y='370.9' width='1.4' height='1.4'/><rect x='366.9' y='374.1' width='1.4' height='1.4'/><rect x='420.1' y='346.9' width='1.4' height='1.4'/><rect x='366.0' y='319.5' width='1.4' height='1.4'/><rect x='371.1' y='374.9' width='1.4' height='1.4'/><rect x='377.1' y='365.6' width='1.4' height='1.4'/><rect x='372.3' y='377.9' width='1.4' height='1.4'/><rect x='355.1' y='329.8' width='1.4' height='1.4'/><rect x='378.9' y='358.3' width='1.4' height='1.4'/><rect x='374.7' y='378.2' width='1.4' height='1.4'/><rect x='386.1' y='345.0' width='1.4' height='1.4'/><rect x='366.3' y='368.1' width='1.4' height='1.4'/><rect x='373.0' y='378.6' width='1.4' height='1.4'/><rect x='378.4' y='375.1' width='1.4' height='1.4'/><rect x='371.4' y='377.1' width='1.4' height='1.4'/><rect x='377.2' y='364.8' width='1.4' height='1.4'/><rect x='351.6' y='335.6' width='1.4' height='1.4'/><rect x='365.3' y='330.9' width='1.4' height='1.4'/><rect x='373.7' y='378.0' width='1.4' height='1.4'/><rect x='380.5' y='362.9' width='1.4' height='1.4'/><rect x='359.5' y='341.3' width='1.4' height='1.4'/><rect x='369.7' y='364.6' width='1.4' height='1.4'/><rect x='375.5' y='350.5' width='1.4' height='1.4'/><rect x='381.5' y='337.8' width='1.4' height='1.4'/><rect x='366.7' y='370.7' width='1.4' height='1.4'/><rect x='383.3' y='371.2' width='1.4' height='1.4'/><rect x='373.7' y='376.2' width='1.4' height='1.4'/><rect x='371.6' y='373.7' width='1.4' height='1.4'/><rect x='380.5' y='370.7' width='1.4' height='1.4'/><rect x='391.0' y='334.0' width='1.4' height='1.4'/><rect x='358.7' y='342.6' width='1.4' height='1.4'/><rect x='369.5' y='373.5' width='1.4' height='1.4'/><rect x='355.8' y='354.0' width='1.4' height='1.4'/><rect x='384.3' y='372.1' width='1.4' height='1.4'/><rect x='372.6' y='377.6' width='1.4' height='1.4'/><rect x='375.1' y='371.5' width='1.4' height='1.4'/><rect x='371.3' y='377.1' width='1.4' height='1.4'/><rect x='360.0' y='328.7' width='1.4' height='1.4'/><rect x='372.6' y='376.9' width='1.4' height='1.4'/><rect x='381.6' y='348.0' width='1.4' height='1.4'/><rect x='371.5' y='377.8' width='1.4' height='1.4'/><rect x='372.6' y='377.7' width='1.4' height='1.4'/><rect x='374.6' y='378.0' width='1.4' height='1.4'/><rect x='360.5' y='328.9' width='1.4' height='1.4'/><rect x='376.8' y='370.7' width='1.4' height='1.4'/><rect x='354.0' y='320.9' width='1.4' height='1.4'/><rect x='371.4' y='374.6' width='1.4' height='1.4'/><rect x='370.7' y='374.4' width='1.4' height='1.4'/><rect x='371.2' y='371.7' width='1.4' height='1.4'/><rect x='382.2' y='359.8' width='1.4' height='1.4'/><rect x='375.9' y='365.7' width='1.4' height='1.4'/><rect x='372.0' y='370.6' width='1.4' height='1.4'/><rect x='382.7' y='343.5' width='1.4' height='1.4'/><rect x='383.7' y='357.6' width='1.4' height='1.4'/><rect x='373.4' y='379.1' width='1.4' height='1.4'/><rect x='361.3' y='364.0' width='1.4' height='1.4'/><rect x='360.6' y='327.0' width='1.4' height='1.4'/><rect x='363.3' y='314.2' width='1.4' height='1.4'/><rect x='371.7' y='376.6' width='1.4' height='1.4'/><rect x='390.0' y='317.5' width='1.4' height='1.4'/><rect x='378.9' y='326.2' width='1.4' height='1.4'/><rect x='332.6' y='332.4' width='1.4' height='1.4'/><rect x='376.2' y='372.3' width='1.4' height='1.4'/><rect x='372.7' y='378.5' width='1.4' height='1.4'/><rect x='356.3' y='324.1' width='1.4' height='1.4'/><rect x='381.0' y='328.1' width='1.4' height='1.4'/><rect x='375.2' y='355.8' width='1.4' height='1.4'/><rect x='367.5' y='365.5' width='1.4' height='1.4'/><rect x='408.4' y='310.2' width='1.4' height='1.4'/><rect x='344.2' y='321.0' width='1.4' height='1.4'/><rect x='365.4' y='356.6' width='1.4' height='1.4'/><rect x='359.3' y='335.5' width='1.4' height='1.4'/><rect x='360.8' y='352.1' width='1.4' height='1.4'/><rect x='369.9' y='376.9' width='1.4' height='1.4'/><rect x='393.9' y='354.6' width='1.4' height='1.4'/><rect x='369.6' y='370.9' width='1.4' height='1.4'/><rect x='376.1' y='328.7' width='1.4' height='1.4'/><rect x='371.3' y='375.8' width='1.4' height='1.4'/><rect x='371.5' y='375.2' width='1.4' height='1.4'/><rect x='362.4' y='348.5' width='1.4' height='1.4'/><rect x='375.7' y='365.1' width='1.4' height='1.4'/><rect x='385.2' y='362.6' width='1.4' height='1.4'/><rect x='388.8' y='344.0' width='1.4' height='1.4'/><rect x='361.1' y='364.5' width='1.4' height='1.4'/><rect x='375.6' y='370.8' width='1.4' height='1.4'/><rect x='370.2' y='371.5' width='1.4' height='1.4'/><rect x='374.2' y='378.4' width='1.4' height='1.4'/><rect x='383.1' y='349.3' width='1.4' height='1.4'/><rect x='429.7' y='349.4' width='1.4' height='1.4'/><rect x='391.6' y='365.9' width='1.4' height='1.4'/><rect x='371.7' y='375.9' width='1.4' height='1.4'/><rect x='382.6' y='357.2' width='1.4' height='1.4'/><rect x='378.2' y='334.2' width='1.4' height='1.4'/><rect x='359.7' y='337.2' width='1.4' height='1.4'/><rect x='373.6' y='378.3' width='1.4' height='1.4'/><rect x='388.7' y='338.6' width='1.4' height='1.4'/><rect x='399.7' y='314.8' width='1.4' height='1.4'/><rect x='377.0' y='363.4' width='1.4' height='1.4'/><rect x='382.1' y='370.6' width='1.4' height='1.4'/><rect x='370.9' y='370.2' width='1.4' height='1.4'/><rect x='379.3' y='356.8' width='1.4' height='1.4'/><rect x='389.4' y='339.9' width='1.4' height='1.4'/><rect x='372.0' y='377.4' width='1.4' height='1.4'/><rect x='379.7' y='327.6' width='1.4' height='1.4'/><rect x='364.6' y='362.9' width='1.4' height='1.4'/><rect x='364.8' y='351.8' width='1.4' height='1.4'/><rect x='389.7' y='347.0' width='1.4' height='1.4'/><rect x='371.4' y='371.3' width='1.4' height='1.4'/><rect x='373.3' y='379.2' width='1.4' height='1.4'/><rect x='367.8' y='374.1' width='1.4' height='1.4'/><rect x='384.0' y='368.5' width='1.4' height='1.4'/><rect x='380.3' y='347.7' width='1.4' height='1.4'/><rect x='384.2' y='361.5' width='1.4' height='1.4'/><rect x='355.7' y='361.9' width='1.4' height='1.4'/><rect x='386.4' y='366.3' width='1.4' height='1.4'/><rect x='356.5' y='326.5' width='1.4' height='1.4'/><rect x='368.8' y='363.7' width='1.4' height='1.4'/><rect x='387.7' y='355.8' width='1.4' height='1.4'/><rect x='367.8' y='369.3' width='1.4' height='1.4'/><rect x='367.2' y='320.3' width='1.4' height='1.4'/><rect x='409.8' y='327.5' width='1.4' height='1.4'/><rect x='366.3' y='361.3' width='1.4' height='1.4'/><rect x='417.3' y='337.2' width='1.4' height='1.4'/><rect x='368.9' y='373.7' width='1.4' height='1.4'/><rect x='377.0' y='372.3' width='1.4' height='1.4'/><rect x='354.8' y='362.4' width='1.4' height='1.4'/><rect x='385.1' y='360.9' width='1.4' height='1.4'/><rect x='365.8' y='342.5' width='1.4' height='1.4'/><rect x='383.8' y='347.8' width='1.4' height='1.4'/><rect x='361.1' y='349.6' width='1.4' height='1.4'/><rect x='370.6' y='367.3' width='1.4' height='1.4'/><rect x='371.8' y='374.5' width='1.4' height='1.4'/><rect x='387.3' y='332.4' width='1.4' height='1.4'/><rect x='368.1' y='371.7' width='1.4' height='1.4'/><rect x='383.0' y='314.2' width='1.4' height='1.4'/><rect x='371.0' y='376.2' width='1.4' height='1.4'/><rect x='377.1' y='341.6' width='1.4' height='1.4'/><rect x='360.0' y='330.4' width='1.4' height='1.4'/><rect x='417.1' y='308.8' width='1.4' height='1.4'/><rect x='378.8' y='368.2' width='1.4' height='1.4'/><rect x='379.9' y='365.3' width='1.4' height='1.4'/><rect x='369.5' y='370.3' width='1.4' height='1.4'/><rect x='376.2' y='370.3' width='1.4' height='1.4'/><rect x='371.0' y='372.5' width='1.4' height='1.4'/><rect x='374.5' y='376.7' width='1.4' height='1.4'/><rect x='382.0' y='371.0' width='1.4' height='1.4'/><rect x='375.5' y='372.2' width='1.4' height='1.4'/><rect x='366.2' y='341.0' width='1.4' height='1.4'/><rect x='395.6' y='314.5' width='1.4' height='1.4'/><rect x='358.4' y='316.6' width='1.4' height='1.4'/><rect x='400.6' y='338.0' width='1.4' height='1.4'/><rect x='378.2' y='359.9' width='1.4' height='1.4'/><rect x='373.6' y='378.5' width='1.4' height='1.4'/><rect x='359.0' y='308.6' width='1.4' height='1.4'/><rect x='380.4' y='370.6' width='1.4' height='1.4'/><rect x='371.1' y='372.1' width='1.4' height='1.4'/><rect x='373.6' y='378.4' width='1.4' height='1.4'/><rect x='364.0' y='342.8' width='1.4' height='1.4'/><rect x='370.5' y='374.4' width='1.4' height='1.4'/><rect x='366.7' y='369.1' width='1.4' height='1.4'/><rect x='369.0' y='354.3' width='1.4' height='1.4'/><rect x='379.8' y='366.3' width='1.4' height='1.4'/><rect x='377.3' y='356.0' width='1.4' height='1.4'/><rect x='371.1' y='376.3' width='1.4' height='1.4'/><rect x='375.6' y='364.2' width='1.4' height='1.4'/><rect x='371.4' y='375.0' width='1.4' height='1.4'/><rect x='383.3' y='369.2' width='1.4' height='1.4'/><rect x='365.7' y='357.9' width='1.4' height='1.4'/><rect x='384.8' y='329.1' width='1.4' height='1.4'/><rect x='372.9' y='378.7' width='1.4' height='1.4'/><rect x='363.7' y='345.1' width='1.4' height='1.4'/><rect x='367.5' y='362.9' width='1.4' height='1.4'/><rect x='348.3' y='302.8' width='1.4' height='1.4'/><rect x='375.6' y='341.2' width='1.4' height='1.4'/><rect x='375.7' y='374.4' width='1.4' height='1.4'/><rect x='378.2' y='368.1' width='1.4' height='1.4'/><rect x='392.8' y='359.2' width='1.4' height='1.4'/><rect x='369.0' y='371.4' width='1.4' height='1.4'/><rect x='372.7' y='377.7' width='1.4' height='1.4'/><rect x='373.1' y='378.6' width='1.4' height='1.4'/><rect x='361.8' y='350.0' width='1.4' height='1.4'/><rect x='378.2' y='341.6' width='1.4' height='1.4'/><rect x='369.0' y='370.2' width='1.4' height='1.4'/><rect x='379.7' y='343.6' width='1.4' height='1.4'/><rect x='331.7' y='323.6' width='1.4' height='1.4'/><rect x='377.9' y='340.4' width='1.4' height='1.4'/><rect x='373.8' y='377.8' width='1.4' height='1.4'/><rect x='366.2' y='363.4' width='1.4' height='1.4'/><rect x='390.7' y='312.3' width='1.4' height='1.4'/><rect x='404.7' y='318.5' width='1.4' height='1.4'/><rect x='344.6' y='321.3' width='1.4' height='1.4'/><rect x='367.4' y='355.6' width='1.4' height='1.4'/><rect x='364.1' y='345.5' width='1.4' height='1.4'/><rect x='371.4' y='372.7' width='1.4' height='1.4'/><rect x='384.3' y='342.6' width='1.4' height='1.4'/><rect x='382.3' y='365.7' width='1.4' height='1.4'/><rect x='375.2' y='372.2' width='1.4' height='1.4'/><rect x='365.0' y='366.8' width='1.4' height='1.4'/><rect x='391.9' y='346.2' width='1.4' height='1.4'/><rect x='375.0' y='372.4' width='1.4' height='1.4'/><rect x='386.7' y='347.3' width='1.4' height='1.4'/><rect x='366.5' y='359.2' width='1.4' height='1.4'/><rect x='341.8' y='309.8' width='1.4' height='1.4'/><rect x='374.6' y='373.9' width='1.4' height='1.4'/><rect x='384.0' y='356.6' width='1.4' height='1.4'/><rect x='372.6' y='376.5' width='1.4' height='1.4'/><rect x='374.8' y='377.9' width='1.4' height='1.4'/><rect x='395.0' y='343.6' width='1.4' height='1.4'/><rect x='365.3' y='341.9' width='1.4' height='1.4'/><rect x='371.2' y='373.8' width='1.4' height='1.4'/><rect x='383.3' y='361.6' width='1.4' height='1.4'/><rect x='363.6' y='353.4' width='1.4' height='1.4'/><rect x='367.2' y='374.0' width='1.4' height='1.4'/><rect x='366.1' y='352.7' width='1.4' height='1.4'/><rect x='369.8' y='373.5' width='1.4' height='1.4'/><rect x='395.5' y='342.4' width='1.4' height='1.4'/><rect x='365.8' y='342.6' width='1.4' height='1.4'/><rect x='364.6' y='359.1' width='1.4' height='1.4'/><rect x='387.6' y='349.6' width='1.4' height='1.4'/><rect x='365.4' y='372.9' width='1.4' height='1.4'/><rect x='374.1' y='376.5' width='1.4' height='1.4'/><rect x='377.7' y='370.2' width='1.4' height='1.4'/><rect x='364.0' y='366.0' width='1.4' height='1.4'/><rect x='375.4' y='377.5' width='1.4' height='1.4'/><rect x='369.5' y='354.8' width='1.4' height='1.4'/><rect x='386.1' y='348.1' width='1.4' height='1.4'/><rect x='363.2' y='331.7' width='1.4' height='1.4'/><rect x='372.9' y='378.9' width='1.4' height='1.4'/><rect x='376.9' y='374.2' width='1.4' height='1.4'/><rect x='365.7' y='318.9' width='1.4' height='1.4'/><rect x='358.9' y='328.2' width='1.4' height='1.4'/><rect x='394.5' y='306.9' width='1.4' height='1.4'/><rect x='378.3' y='365.7' width='1.4' height='1.4'/><rect x='369.8' y='368.1' width='1.4' height='1.4'/><rect x='371.7' y='374.0' width='1.4' height='1.4'/><rect x='371.8' y='376.3' width='1.4' height='1.4'/><rect x='391.5' y='338.7' width='1.4' height='1.4'/><rect x='377.3' y='363.0' width='1.4' height='1.4'/><rect x='358.9' y='317.1' width='1.4' height='1.4'/><rect x='364.6' y='354.1' width='1.4' height='1.4'/><rect x='381.2' y='348.8' width='1.4' height='1.4'/><rect x='372.8' y='378.9' width='1.4' height='1.4'/><rect x='351.6' y='316.0' width='1.4' height='1.4'/><rect x='377.7' y='365.6' width='1.4' height='1.4'/><rect x='378.9' y='366.3' width='1.4' height='1.4'/><rect x='364.7' y='360.2' width='1.4' height='1.4'/><rect x='377.3' y='363.7' width='1.4' height='1.4'/><rect x='385.4' y='352.8' width='1.4' height='1.4'/><rect x='389.0' y='335.1' width='1.4' height='1.4'/><rect x='369.6' y='349.3' width='1.4' height='1.4'/><rect x='372.6' y='375.1' width='1.4' height='1.4'/><rect x='369.3' y='371.3' width='1.4' height='1.4'/><rect x='380.9' y='354.1' width='1.4' height='1.4'/><rect x='366.2' y='362.5' width='1.4' height='1.4'/><rect x='372.8' y='376.7' width='1.4' height='1.4'/><rect x='374.5' y='376.0' width='1.4' height='1.4'/><rect x='373.9' y='377.0' width='1.4' height='1.4'/><rect x='379.3' y='362.5' width='1.4' height='1.4'/><rect x='373.4' y='379.2' width='1.4' height='1.4'/><rect x='403.9' y='319.8' width='1.4' height='1.4'/><rect x='385.5' y='361.4' width='1.4' height='1.4'/><rect x='365.4' y='319.9' width='1.4' height='1.4'/><rect x='366.7' y='361.2' width='1.4' height='1.4'/><rect x='376.7' y='358.1' width='1.4' height='1.4'/><rect x='376.1' y='370.0' width='1.4' height='1.4'/><rect x='381.1' y='365.4' width='1.4' height='1.4'/><rect x='373.4' y='379.2' width='1.4' height='1.4'/><rect x='390.8' y='347.9' width='1.4' height='1.4'/><rect x='395.4' y='326.1' width='1.4' height='1.4'/><rect x='362.5' y='327.5' width='1.4' height='1.4'/><rect x='371.2' y='376.5' width='1.4' height='1.4'/><rect x='377.0' y='369.7' width='1.4' height='1.4'/><rect x='358.5' y='347.1' width='1.4' height='1.4'/><rect x='385.6' y='357.7' width='1.4' height='1.4'/><rect x='358.9' y='335.3' width='1.4' height='1.4'/><rect x='372.8' y='378.8' width='1.4' height='1.4'/><rect x='366.5' y='367.3' width='1.4' height='1.4'/><rect x='377.3' y='373.2' width='1.4' height='1.4'/><rect x='380.6' y='375.0' width='1.4' height='1.4'/><rect x='377.5' y='368.8' width='1.4' height='1.4'/><rect x='379.5' y='372.3' width='1.4' height='1.4'/><rect x='369.0' y='362.3' width='1.4' height='1.4'/><rect x='377.2' y='374.7' width='1.4' height='1.4'/><rect x='357.7' y='306.6' width='1.4' height='1.4'/><rect x='372.2' y='378.4' width='1.4' height='1.4'/><rect x='371.3' y='375.0' width='1.4' height='1.4'/><rect x='368.7' y='348.2' width='1.4' height='1.4'/><rect x='377.1' y='365.2' width='1.4' height='1.4'/><rect x='367.1' y='360.9' width='1.4' height='1.4'/><rect x='380.8' y='348.2' width='1.4' height='1.4'/><rect x='375.4' y='370.6' width='1.4' height='1.4'/><rect x='373.0' y='378.3' width='1.4' height='1.4'/><rect x='356.5' y='347.4' width='1.4' height='1.4'/><rect x='370.4' y='373.1' width='1.4' height='1.4'/><rect x='364.6' y='334.0' width='1.4' height='1.4'/><rect x='369.2' y='374.1' width='1.4' height='1.4'/><rect x='375.3' y='363.7' width='1.4' height='1.4'/><rect x='363.6' y='323.7' width='1.4' height='1.4'/><rect x='371.0' y='368.2' width='1.4' height='1.4'/><rect x='373.3' y='379.2' width='1.4' height='1.4'/><rect x='358.1' y='352.5' width='1.4' height='1.4'/><rect x='373.9' y='377.3' width='1.4' height='1.4'/><rect x='406.3' y='354.7' width='1.4' height='1.4'/><rect x='371.4' y='371.9' width='1.4' height='1.4'/><rect x='369.5' y='370.9' width='1.4' height='1.4'/><rect x='373.0' y='378.2' width='1.4' height='1.4'/><rect x='380.1' y='306.3' width='1.4' height='1.4'/><rect x='344.1' y='327.2' width='1.4' height='1.4'/><rect x='374.6' y='375.2' width='1.4' height='1.4'/><rect x='368.3' y='360.1' width='1.4' height='1.4'/><rect x='378.1' y='364.4' width='1.4' height='1.4'/><rect x='377.2' y='332.6' width='1.4' height='1.4'/><rect x='376.7' y='352.9' width='1.4' height='1.4'/><rect x='373.2' y='379.1' width='1.4' height='1.4'/><rect x='376.6' y='371.6' width='1.4' height='1.4'/><rect x='367.4' y='359.1' width='1.4' height='1.4'/><rect x='368.3' y='372.0' width='1.4' height='1.4'/><rect x='365.8' y='362.3' width='1.4' height='1.4'/><rect x='378.0' y='364.2' width='1.4' height='1.4'/><rect x='367.6' y='366.2' width='1.4' height='1.4'/><rect x='376.2' y='373.9' width='1.4' height='1.4'/><rect x='374.1' y='376.5' width='1.4' height='1.4'/><rect x='378.8' y='333.6' width='1.4' height='1.4'/><rect x='357.4' y='346.1' width='1.4' height='1.4'/><rect x='377.1' y='372.7' width='1.4' height='1.4'/><rect x='367.6' y='362.5' width='1.4' height='1.4'/><rect x='379.6' y='364.3' width='1.4' height='1.4'/><rect x='394.0' y='319.3' width='1.4' height='1.4'/><rect x='381.6' y='330.9' width='1.4' height='1.4'/><rect x='380.8' y='370.0' width='1.4' height='1.4'/><rect x='372.9' y='378.6' width='1.4' height='1.4'/><rect x='373.9' y='376.9' width='1.4' height='1.4'/><rect x='365.5' y='341.5' width='1.4' height='1.4'/><rect x='355.4' y='329.7' width='1.4' height='1.4'/><rect x='365.5' y='349.5' width='1.4' height='1.4'/><rect x='369.2' y='369.3' width='1.4' height='1.4'/><rect x='377.2' y='375.4' width='1.4' height='1.4'/><rect x='395.0' y='313.0' width='1.4' height='1.4'/><rect x='372.7' y='378.3' width='1.4' height='1.4'/><rect x='372.7' y='378.4' width='1.4' height='1.4'/><rect x='349.8' y='313.6' width='1.4' height='1.4'/><rect x='365.5' y='329.8' width='1.4' height='1.4'/><rect x='376.3' y='360.8' width='1.4' height='1.4'/><rect x='364.1' y='351.5' width='1.4' height='1.4'/><rect x='380.8' y='347.9' width='1.4' height='1.4'/><rect x='405.6' y='305.2' width='1.4' height='1.4'/><rect x='379.0' y='351.2' width='1.4' height='1.4'/><rect x='377.9' y='367.0' width='1.4' height='1.4'/><rect x='392.4' y='354.1' width='1.4' height='1.4'/><rect x='353.5' y='311.3' width='1.4' height='1.4'/><rect x='387.9' y='364.2' width='1.4' height='1.4'/><rect x='381.4' y='358.8' width='1.4' height='1.4'/><rect x='386.0' y='361.3' width='1.4' height='1.4'/><rect x='358.1' y='357.9' width='1.4' height='1.4'/><rect x='370.8' y='369.6' width='1.4' height='1.4'/><rect x='387.6' y='355.4' width='1.4' height='1.4'/><rect x='394.7' y='357.4' width='1.4' height='1.4'/><rect x='370.9' y='373.9' width='1.4' height='1.4'/><rect x='388.1' y='360.1' width='1.4' height='1.4'/><rect x='379.0' y='318.3' width='1.4' height='1.4'/><rect x='383.5' y='343.1' width='1.4' height='1.4'/><rect x='382.3' y='330.9' width='1.4' height='1.4'/><rect x='375.1' y='370.5' width='1.4' height='1.4'/><rect x='354.1' y='304.9' width='1.4' height='1.4'/><rect x='377.4' y='372.4' width='1.4' height='1.4'/><rect x='366.6' y='350.3' width='1.4' height='1.4'/><rect x='379.1' y='373.7' width='1.4' height='1.4'/><rect x='374.1' y='377.4' width='1.4' height='1.4'/><rect x='362.4' y='365.3' width='1.4' height='1.4'/><rect x='367.8' y='370.9' width='1.4' height='1.4'/><rect x='395.2' y='364.1' width='1.4' height='1.4'/><rect x='357.4' y='347.9' width='1.4' height='1.4'/><rect x='368.3' y='367.4' width='1.4' height='1.4'/><rect x='370.1' y='375.6' width='1.4' height='1.4'/><rect x='364.8' y='356.1' width='1.4' height='1.4'/><rect x='370.5' y='373.6' width='1.4' height='1.4'/><rect x='392.5' y='347.9' width='1.4' height='1.4'/><rect x='372.2' y='377.8' width='1.4' height='1.4'/><rect x='371.6' y='375.5' width='1.4' height='1.4'/><rect x='358.0' y='344.5' width='1.4' height='1.4'/><rect x='369.0' y='371.0' width='1.4' height='1.4'/><rect x='384.4' y='354.2' width='1.4' height='1.4'/><rect x='363.7' y='365.9' width='1.4' height='1.4'/><rect x='387.0' y='349.9' width='1.4' height='1.4'/><rect x='373.2' y='379.2' width='1.4' height='1.4'/><rect x='370.0' y='370.9' width='1.4' height='1.4'/><rect x='377.7' y='359.2' width='1.4' height='1.4'/><rect x='355.3' y='329.3' width='1.4' height='1.4'/><rect x='374.2' y='370.3' width='1.4' height='1.4'/><rect x='366.8' y='368.0' width='1.4' height='1.4'/><rect x='371.8' y='378.1' width='1.4' height='1.4'/><rect x='411.2' y='314.3' width='1.4' height='1.4'/><rect x='387.8' y='364.4' width='1.4' height='1.4'/><rect x='369.6' y='371.2' width='1.4' height='1.4'/><rect x='365.6' y='359.8' width='1.4' height='1.4'/><rect x='389.5' y='327.9' width='1.4' height='1.4'/><rect x='361.1' y='328.8' width='1.4' height='1.4'/><rect x='357.4' y='324.9' width='1.4' height='1.4'/><rect x='374.8' y='375.9' width='1.4' height='1.4'/><rect x='386.0' y='356.4' width='1.4' height='1.4'/><rect x='375.1' y='376.0' width='1.4' height='1.4'/><rect x='365.0' y='368.4' width='1.4' height='1.4'/><rect x='369.3' y='364.4' width='1.4' height='1.4'/><rect x='369.0' y='372.6' width='1.4' height='1.4'/><rect x='362.8' y='327.1' width='1.4' height='1.4'/><rect x='373.7' y='377.8' width='1.4' height='1.4'/><rect x='371.5' y='372.5' width='1.4' height='1.4'/><rect x='339.0' y='317.9' width='1.4' height='1.4'/><rect x='363.0' y='352.4' width='1.4' height='1.4'/><rect x='384.9' y='339.9' width='1.4' height='1.4'/><rect x='368.4' y='370.3' width='1.4' height='1.4'/><rect x='382.1' y='338.1' width='1.4' height='1.4'/><rect x='364.7' y='336.3' width='1.4' height='1.4'/><rect x='364.2' y='351.9' width='1.4' height='1.4'/><rect x='366.9' y='311.3' width='1.4' height='1.4'/><rect x='365.6' y='349.8' width='1.4' height='1.4'/><rect x='370.1' y='370.6' width='1.4' height='1.4'/><rect x='373.4' y='378.9' width='1.4' height='1.4'/><rect x='374.5' y='342.5' width='1.4' height='1.4'/><rect x='382.3' y='305.4' width='1.4' height='1.4'/><rect x='366.9' y='352.0' width='1.4' height='1.4'/><rect x='369.0' y='373.5' width='1.4' height='1.4'/><rect x='369.8' y='366.0' width='1.4' height='1.4'/><rect x='374.4' y='376.8' width='1.4' height='1.4'/><rect x='371.9' y='374.3' width='1.4' height='1.4'/><rect x='368.3' y='360.6' width='1.4' height='1.4'/><rect x='373.0' y='378.8' width='1.4' height='1.4'/><rect x='372.4' y='377.3' width='1.4' height='1.4'/><rect x='384.6' y='354.0' width='1.4' height='1.4'/><rect x='361.9' y='351.5' width='1.4' height='1.4'/><rect x='384.2' y='359.9' width='1.4' height='1.4'/><rect x='377.2' y='375.5' width='1.4' height='1.4'/><rect x='370.8' y='372.1' width='1.4' height='1.4'/><rect x='364.5' y='335.8' width='1.4' height='1.4'/><rect x='384.5' y='367.6' width='1.4' height='1.4'/><rect x='374.5' y='375.3' width='1.4' height='1.4'/><rect x='356.0' y='312.3' width='1.4' height='1.4'/><rect x='400.6' y='327.7' width='1.4' height='1.4'/><rect x='358.9' y='355.5' width='1.4' height='1.4'/><rect x='362.0' y='366.4' width='1.4' height='1.4'/><rect x='381.3' y='360.1' width='1.4' height='1.4'/><rect x='383.4' y='324.7' width='1.4' height='1.4'/><rect x='345.2' y='333.7' width='1.4' height='1.4'/><rect x='386.7' y='305.6' width='1.4' height='1.4'/><rect x='384.3' y='360.9' width='1.4' height='1.4'/><rect x='359.5' y='357.7' width='1.4' height='1.4'/><rect x='371.9' y='376.6' width='1.4' height='1.4'/><rect x='371.2' y='377.0' width='1.4' height='1.4'/><rect x='366.4' y='355.2' width='1.4' height='1.4'/><rect x='377.0' y='374.0' width='1.4' height='1.4'/><rect x='366.6' y='353.7' width='1.4' height='1.4'/><rect x='389.7' y='368.2' width='1.4' height='1.4'/><rect x='368.1' y='353.0' width='1.4' height='1.4'/><rect x='377.9' y='334.3' width='1.4' height='1.4'/><rect x='362.3' y='336.8' width='1.4' height='1.4'/><rect x='376.9' y='376.5' width='1.4' height='1.4'/><rect x='390.3' y='301.5' width='1.4' height='1.4'/><rect x='359.6' y='347.8' width='1.4' height='1.4'/><rect x='372.1' y='377.4' width='1.4' height='1.4'/><rect x='357.3' y='340.4' width='1.4' height='1.4'/><rect x='371.2' y='374.5' width='1.4' height='1.4'/><rect x='372.5' y='378.4' width='1.4' height='1.4'/><rect x='373.2' y='379.1' width='1.4' height='1.4'/><rect x='372.7' y='378.8' width='1.4' height='1.4'/><rect x='367.8' y='367.2' width='1.4' height='1.4'/><rect x='371.1' y='377.2' width='1.4' height='1.4'/><rect x='382.6' y='320.3' width='1.4' height='1.4'/><rect x='367.2' y='329.6' width='1.4' height='1.4'/><rect x='371.4' y='362.9' width='1.4' height='1.4'/><rect x='387.2' y='323.3' width='1.4' height='1.4'/><rect x='364.7' y='354.1' width='1.4' height='1.4'/><rect x='394.4' y='320.4' width='1.4' height='1.4'/><rect x='361.8' y='359.0' width='1.4' height='1.4'/><rect x='366.6' y='367.7' width='1.4' height='1.4'/><rect x='374.5' y='377.9' width='1.4' height='1.4'/><rect x='370.4' y='372.1' width='1.4' height='1.4'/><rect x='376.9' y='365.9' width='1.4' height='1.4'/><rect x='398.4' y='322.8' width='1.4' height='1.4'/><rect x='360.6' y='314.6' width='1.4' height='1.4'/><rect x='361.7' y='354.2' width='1.4' height='1.4'/><rect x='373.9' y='377.4' width='1.4' height='1.4'/><rect x='370.4' y='374.8' width='1.4' height='1.4'/><rect x='373.6' y='378.5' width='1.4' height='1.4'/><rect x='368.5' y='366.3' width='1.4' height='1.4'/><rect x='370.5' y='366.3' width='1.4' height='1.4'/><rect x='366.8' y='358.1' width='1.4' height='1.4'/><rect x='367.6' y='342.8' width='1.4' height='1.4'/><rect x='375.6' y='368.9' width='1.4' height='1.4'/><rect x='384.3' y='370.3' width='1.4' height='1.4'/><rect x='357.0' y='342.2' width='1.4' height='1.4'/><rect x='386.0' y='353.0' width='1.4' height='1.4'/><rect x='383.1' y='360.6' width='1.4' height='1.4'/><rect x='381.3' y='308.4' width='1.4' height='1.4'/><rect x='359.4' y='347.3' width='1.4' height='1.4'/><rect x='396.5' y='323.8' width='1.4' height='1.4'/><rect x='378.5' y='364.6' width='1.4' height='1.4'/><rect x='400.5' y='311.7' width='1.4' height='1.4'/><rect x='376.3' y='366.7' width='1.4' height='1.4'/><rect x='383.9' y='355.6' width='1.4' height='1.4'/><rect x='370.3' y='369.5' width='1.4' height='1.4'/><rect x='362.0' y='357.4' width='1.4' height='1.4'/><rect x='370.7' y='373.6' width='1.4' height='1.4'/><rect x='367.2' y='363.8' width='1.4' height='1.4'/><rect x='371.1' y='374.4' width='1.4' height='1.4'/><rect x='354.4' y='344.5' width='1.4' height='1.4'/><rect x='359.5' y='320.1' width='1.4' height='1.4'/><rect x='372.1' y='377.3' width='1.4' height='1.4'/><rect x='380.4' y='364.0' width='1.4' height='1.4'/><rect x='367.2' y='353.0' width='1.4' height='1.4'/><rect x='351.2' y='326.9' width='1.4' height='1.4'/><rect x='378.6' y='376.3' width='1.4' height='1.4'/><rect x='373.2' y='379.2' width='1.4' height='1.4'/><rect x='372.0' y='375.5' width='1.4' height='1.4'/><rect x='373.1' y='379.1' width='1.4' height='1.4'/><rect x='377.8' y='366.0' width='1.4' height='1.4'/><rect x='379.0' y='371.7' width='1.4' height='1.4'/><rect x='374.7' y='373.3' width='1.4' height='1.4'/><rect x='370.5' y='375.3' width='1.4' height='1.4'/><rect x='402.8' y='364.5' width='1.4' height='1.4'/><rect x='360.1' y='335.2' width='1.4' height='1.4'/><rect x='354.4' y='334.2' width='1.4' height='1.4'/><rect x='370.6' y='375.8' width='1.4' height='1.4'/><rect x='375.1' y='375.9' width='1.4' height='1.4'/><rect x='391.8' y='358.7' width='1.4' height='1.4'/><rect x='385.6' y='326.4' width='1.4' height='1.4'/><rect x='367.6' y='358.1' width='1.4' height='1.4'/><rect x='357.5' y='322.6' width='1.4' height='1.4'/><rect x='385.1' y='337.6' width='1.4' height='1.4'/><rect x='382.4' y='375.5' width='1.4' height='1.4'/><rect x='370.3' y='366.7' width='1.4' height='1.4'/><rect x='375.5' y='349.7' width='1.4' height='1.4'/><rect x='388.8' y='337.1' width='1.4' height='1.4'/><rect x='369.2' y='362.5' width='1.4' height='1.4'/><rect x='373.9' y='374.2' width='1.4' height='1.4'/><rect x='375.5' y='372.6' width='1.4' height='1.4'/><rect x='364.7' y='358.2' width='1.4' height='1.4'/><rect x='383.7' y='317.0' width='1.4' height='1.4'/><rect x='395.5' y='332.1' width='1.4' height='1.4'/><rect x='369.0' y='363.8' width='1.4' height='1.4'/><rect x='373.4' y='379.2' width='1.4' height='1.4'/><rect x='378.8' y='363.4' width='1.4' height='1.4'/><rect x='370.3' y='374.2' width='1.4' height='1.4'/><rect x='373.0' y='378.8' width='1.4' height='1.4'/><rect x='394.0' y='332.7' width='1.4' height='1.4'/><rect x='362.1' y='362.9' width='1.4' height='1.4'/><rect x='348.3' y='344.6' width='1.4' height='1.4'/><rect x='379.8' y='348.8' width='1.4' height='1.4'/><rect x='374.8' y='375.3' width='1.4' height='1.4'/><rect x='374.6' y='378.2' width='1.4' height='1.4'/><rect x='369.9' y='341.1' width='1.4' height='1.4'/><rect x='375.5' y='365.1' width='1.4' height='1.4'/><rect x='381.5' y='360.5' width='1.4' height='1.4'/><rect x='365.1' y='360.1' width='1.4' height='1.4'/><rect x='369.6' y='363.4' width='1.4' height='1.4'/><rect x='364.6' y='372.3' width='1.4' height='1.4'/><rect x='357.6' y='358.7' width='1.4' height='1.4'/><rect x='368.9' y='374.7' width='1.4' height='1.4'/><rect x='358.0' y='344.5' width='1.4' height='1.4'/><rect x='358.1' y='341.0' width='1.4' height='1.4'/><rect x='396.9' y='333.3' width='1.4' height='1.4'/><rect x='377.8' y='372.9' width='1.4' height='1.4'/><rect x='363.3' y='356.8' width='1.4' height='1.4'/><rect x='379.3' y='371.9' width='1.4' height='1.4'/><rect x='383.6' y='332.0' width='1.4' height='1.4'/><rect x='380.4' y='357.7' width='1.4' height='1.4'/><rect x='375.5' y='343.2' width='1.4' height='1.4'/><rect x='385.1' y='324.9' width='1.4' height='1.4'/><rect x='360.5' y='365.6' width='1.4' height='1.4'/><rect x='370.3' y='369.7' width='1.4' height='1.4'/><rect x='379.9' y='347.2' width='1.4' height='1.4'/><rect x='355.6' y='326.2' width='1.4' height='1.4'/><rect x='350.8' y='326.0' width='1.4' height='1.4'/><rect x='409.4' y='308.0' width='1.4' height='1.4'/><rect x='385.3' y='335.5' width='1.4' height='1.4'/><rect x='380.9' y='332.5' width='1.4' height='1.4'/><rect x='395.7' y='327.5' width='1.4' height='1.4'/><rect x='380.3' y='351.9' width='1.4' height='1.4'/><rect x='375.1' y='342.8' width='1.4' height='1.4'/><rect x='392.5' y='333.8' width='1.4' height='1.4'/><rect x='359.7' y='348.6' width='1.4' height='1.4'/><rect x='367.2' y='343.3' width='1.4' height='1.4'/><rect x='372.7' y='378.3' width='1.4' height='1.4'/><rect x='386.5' y='340.3' width='1.4' height='1.4'/><rect x='376.0' y='375.4' width='1.4' height='1.4'/><rect x='361.4' y='331.7' width='1.4' height='1.4'/><rect x='366.1' y='360.0' width='1.4' height='1.4'/><rect x='383.5' y='355.5' width='1.4' height='1.4'/><rect x='371.6' y='377.5' width='1.4' height='1.4'/><rect x='375.8' y='354.6' width='1.4' height='1.4'/><rect x='387.5' y='363.6' width='1.4' height='1.4'/><rect x='371.9' y='375.1' width='1.4' height='1.4'/><rect x='381.0' y='343.7' width='1.4' height='1.4'/><rect x='362.8' y='351.2' width='1.4' height='1.4'/><rect x='371.0' y='374.5' width='1.4' height='1.4'/><rect x='376.5' y='365.7' width='1.4' height='1.4'/><rect x='356.8' y='326.7' width='1.4' height='1.4'/><rect x='400.5' y='321.3' width='1.4' height='1.4'/><rect x='384.5' y='334.8' width='1.4' height='1.4'/><rect x='380.6' y='366.4' width='1.4' height='1.4'/><rect x='377.4' y='371.9' width='1.4' height='1.4'/><rect x='360.2' y='332.0' width='1.4' height='1.4'/><rect x='372.8' y='377.5' width='1.4' height='1.4'/><rect x='369.9' y='367.9' width='1.4' height='1.4'/><rect x='366.2' y='357.1' width='1.4' height='1.4'/><rect x='369.2' y='367.5' width='1.4' height='1.4'/><rect x='370.4' y='365.2' width='1.4' height='1.4'/><rect x='368.7' y='364.9' width='1.4' height='1.4'/><rect x='368.0' y='359.7' width='1.4' height='1.4'/><rect x='347.0' y='312.3' width='1.4' height='1.4'/><rect x='372.8' y='378.7' width='1.4' height='1.4'/><rect x='382.4' y='368.7' width='1.4' height='1.4'/><rect x='372.3' y='377.0' width='1.4' height='1.4'/><rect x='363.5' y='322.1' width='1.4' height='1.4'/><rect x='378.2' y='363.3' width='1.4' height='1.4'/><rect x='390.7' y='339.9' width='1.4' height='1.4'/><rect x='375.3' y='375.6' width='1.4' height='1.4'/><rect x='373.4' y='379.2' width='1.4' height='1.4'/><rect x='371.6' y='376.1' width='1.4' height='1.4'/><rect x='398.0' y='329.0' width='1.4' height='1.4'/><rect x='377.9' y='361.7' width='1.4' height='1.4'/><rect x='359.1' y='351.1' width='1.4' height='1.4'/><rect x='374.2' y='376.2' width='1.4' height='1.4'/><rect x='377.9' y='340.5' width='1.4' height='1.4'/><rect x='367.6' y='370.1' width='1.4' height='1.4'/><rect x='369.1' y='369.5' width='1.4' height='1.4'/><rect x='381.2' y='348.8' width='1.4' height='1.4'/><rect x='373.3' y='379.2' width='1.4' height='1.4'/><rect x='361.5' y='355.1' width='1.4' height='1.4'/><rect x='384.6' y='344.3' width='1.4' height='1.4'/><rect x='372.7' y='378.3' width='1.4' height='1.4'/><rect x='383.2' y='344.6' width='1.4' height='1.4'/><rect x='376.6' y='369.2' width='1.4' height='1.4'/><rect x='365.5' y='362.0' width='1.4' height='1.4'/><rect x='377.3' y='368.2' width='1.4' height='1.4'/><rect x='361.7' y='338.8' width='1.4' height='1.4'/><rect x='379.7' y='366.7' width='1.4' height='1.4'/><rect x='360.0' y='341.1' width='1.4' height='1.4'/><rect x='375.5' y='375.1' width='1.4' height='1.4'/><rect x='354.8' y='312.9' width='1.4' height='1.4'/><rect x='382.3' y='366.4' width='1.4' height='1.4'/><rect x='384.5' y='369.6' width='1.4' height='1.4'/><rect x='362.7' y='318.1' width='1.4' height='1.4'/><rect x='384.0' y='311.9' width='1.4' height='1.4'/><rect x='366.1' y='350.1' width='1.4' height='1.4'/><rect x='371.2' y='376.6' width='1.4' height='1.4'/><rect x='365.5' y='355.7' width='1.4' height='1.4'/><rect x='352.0' y='328.9' width='1.4' height='1.4'/><rect x='378.2' y='348.7' width='1.4' height='1.4'/><rect x='378.9' y='331.0' width='1.4' height='1.4'/><rect x='373.7' y='378.6' width='1.4' height='1.4'/><rect x='365.4' y='354.7' width='1.4' height='1.4'/><rect x='368.1' y='374.2' width='1.4' height='1.4'/><rect x='360.7' y='356.6' width='1.4' height='1.4'/><rect x='378.8' y='312.8' width='1.4' height='1.4'/><rect x='369.6' y='370.0' width='1.4' height='1.4'/><rect x='368.5' y='330.6' width='1.4' height='1.4'/><rect x='362.7' y='348.6' width='1.4' height='1.4'/><rect x='371.6' y='378.0' width='1.4' height='1.4'/><rect x='387.6' y='318.1' width='1.4' height='1.4'/><rect x='385.5' y='347.5' width='1.4' height='1.4'/><rect x='374.0' y='377.9' width='1.4' height='1.4'/><rect x='366.1' y='368.6' width='1.4' height='1.4'/><rect x='382.8' y='342.6' width='1.4' height='1.4'/><rect x='363.7' y='339.7' width='1.4' height='1.4'/><rect x='380.3' y='345.0' width='1.4' height='1.4'/><rect x='384.4' y='329.5' width='1.4' height='1.4'/><rect x='354.7' y='352.9' width='1.4' height='1.4'/><rect x='370.9' y='376.1' width='1.4' height='1.4'/><rect x='372.2' y='372.8' width='1.4' height='1.4'/><rect x='388.0' y='361.0' width='1.4' height='1.4'/><rect x='349.5' y='315.6' width='1.4' height='1.4'/><rect x='370.1' y='364.3' width='1.4' height='1.4'/><rect x='391.5' y='340.8' width='1.4' height='1.4'/><rect x='369.6' y='371.3' width='1.4' height='1.4'/><rect x='367.1' y='364.2' width='1.4' height='1.4'/><rect x='384.7' y='341.5' width='1.4' height='1.4'/><rect x='391.3' y='346.2' width='1.4' height='1.4'/><rect x='382.6' y='348.4' width='1.4' height='1.4'/><rect x='379.5' y='375.3' width='1.4' height='1.4'/><rect x='387.3' y='333.1' width='1.4' height='1.4'/><rect x='360.2' y='360.9' width='1.4' height='1.4'/><rect x='374.6' y='374.1' width='1.4' height='1.4'/><rect x='383.1' y='336.0' width='1.4' height='1.4'/><rect x='388.7' y='346.1' width='1.4' height='1.4'/><rect x='360.1' y='310.6' width='1.4' height='1.4'/><rect x='373.6' y='378.7' width='1.4' height='1.4'/><rect x='364.3' y='352.5' width='1.4' height='1.4'/><rect x='383.4' y='326.4' width='1.4' height='1.4'/><rect x='355.1' y='361.3' width='1.4' height='1.4'/><rect x='381.7' y='344.6' width='1.4' height='1.4'/><rect x='356.4' y='336.4' width='1.4' height='1.4'/><rect x='370.4' y='352.5' width='1.4' height='1.4'/><rect x='381.4' y='353.3' width='1.4' height='1.4'/><rect x='388.9' y='355.0' width='1.4' height='1.4'/><rect x='384.9' y='343.3' width='1.4' height='1.4'/><rect x='384.2' y='305.8' width='1.4' height='1.4'/><rect x='390.6' y='342.3' width='1.4' height='1.4'/><rect x='375.4' y='371.0' width='1.4' height='1.4'/><rect x='374.1' y='378.7' width='1.4' height='1.4'/><rect x='369.2' y='366.0' width='1.4' height='1.4'/><rect x='398.6' y='335.8' width='1.4' height='1.4'/><rect x='379.2' y='339.2' width='1.4' height='1.4'/><rect x='367.4' y='371.5' width='1.4' height='1.4'/><rect x='361.4' y='337.7' width='1.4' height='1.4'/><rect x='367.3' y='349.9' width='1.4' height='1.4'/><rect x='382.0' y='341.8' width='1.4' height='1.4'/><rect x='379.8' y='364.4' width='1.4' height='1.4'/><rect x='367.8' y='363.4' width='1.4' height='1.4'/><rect x='382.1' y='352.9' width='1.4' height='1.4'/><rect x='370.6' y='373.0' width='1.4' height='1.4'/><rect x='374.8' y='374.3' width='1.4' height='1.4'/><rect x='379.3' y='356.9' width='1.4' height='1.4'/><rect x='364.2' y='370.2' width='1.4' height='1.4'/><rect x='352.7' y='307.9' width='1.4' height='1.4'/><rect x='364.5' y='342.3' width='1.4' height='1.4'/><rect x='408.8' y='356.7' width='1.4' height='1.4'/><rect x='369.6' y='369.7' width='1.4' height='1.4'/><rect x='368.2' y='355.6' width='1.4' height='1.4'/><rect x='379.3' y='337.0' width='1.4' height='1.4'/><rect x='389.6' y='369.2' width='1.4' height='1.4'/><rect x='373.8' y='378.6' width='1.4' height='1.4'/><rect x='369.6' y='363.2' width='1.4' height='1.4'/><rect x='361.4' y='355.0' width='1.4' height='1.4'/><rect x='375.8' y='376.2' width='1.4' height='1.4'/><rect x='366.5' y='364.5' width='1.4' height='1.4'/><rect x='378.5' y='321.5' width='1.4' height='1.4'/><rect x='364.4' y='343.1' width='1.4' height='1.4'/><rect x='386.9' y='322.8' width='1.4' height='1.4'/><rect x='378.5' y='311.5' width='1.4' height='1.4'/><rect x='373.5' y='378.7' width='1.4' height='1.4'/><rect x='377.2' y='374.4' width='1.4' height='1.4'/><rect x='365.2' y='345.4' width='1.4' height='1.4'/><rect x='381.4' y='369.8' width='1.4' height='1.4'/><rect x='374.1' y='376.7' width='1.4' height='1.4'/><rect x='379.5' y='331.2' width='1.4' height='1.4'/><rect x='369.1' y='365.5' width='1.4' height='1.4'/><rect x='369.0' y='366.5' width='1.4' height='1.4'/><rect x='372.3' y='376.3' width='1.4' height='1.4'/><rect x='354.7' y='343.5' width='1.4' height='1.4'/><rect x='376.0' y='371.4' width='1.4' height='1.4'/><rect x='375.3' y='362.2' width='1.4' height='1.4'/><rect x='375.4' y='378.1' width='1.4' height='1.4'/><rect x='370.8' y='375.4' width='1.4' height='1.4'/><rect x='379.7' y='360.9' width='1.4' height='1.4'/><rect x='379.2' y='357.0' width='1.4' height='1.4'/><rect x='364.3' y='347.4' width='1.4' height='1.4'/><rect x='367.1' y='358.2' width='1.4' height='1.4'/><rect x='371.6' y='375.1' width='1.4' height='1.4'/><rect x='370.5' y='372.4' width='1.4' height='1.4'/><rect x='368.5' y='354.9' width='1.4' height='1.4'/><rect x='364.1' y='347.8' width='1.4' height='1.4'/><rect x='348.7' y='307.3' width='1.4' height='1.4'/><rect x='354.0' y='356.2' width='1.4' height='1.4'/><rect x='368.1' y='354.2' width='1.4' height='1.4'/><rect x='367.1' y='360.4' width='1.4' height='1.4'/><rect x='365.1' y='354.9' width='1.4' height='1.4'/><rect x='369.5' y='375.1' width='1.4' height='1.4'/><rect x='394.4' y='342.1' width='1.4' height='1.4'/><rect x='372.6' y='377.9' width='1.4' height='1.4'/><rect x='360.1' y='308.5' width='1.4' height='1.4'/><rect x='360.8' y='360.4' width='1.4' height='1.4'/><rect x='353.8' y='342.0' width='1.4' height='1.4'/><rect x='366.5' y='362.7' width='1.4' height='1.4'/><rect x='354.0' y='303.0' width='1.4' height='1.4'/><rect x='358.3' y='342.4' width='1.4' height='1.4'/><rect x='371.2' y='378.4' width='1.4' height='1.4'/><rect x='364.2' y='340.9' width='1.4' height='1.4'/><rect x='360.3' y='326.6' width='1.4' height='1.4'/><rect x='375.6' y='375.3' width='1.4' height='1.4'/><rect x='375.9' y='365.2' width='1.4' height='1.4'/><rect x='386.1' y='320.8' width='1.4' height='1.4'/><rect x='380.4' y='341.4' width='1.4' height='1.4'/><rect x='360.8' y='328.4' width='1.4' height='1.4'/><rect x='379.1' y='371.7' width='1.4' height='1.4'/><rect x='358.7' y='340.4' width='1.4' height='1.4'/><rect x='356.6' y='315.5' width='1.4' height='1.4'/><rect x='372.2' y='376.1' width='1.4' height='1.4'/><rect x='356.9' y='333.8' width='1.4' height='1.4'/><rect x='377.0' y='373.1' width='1.4' height='1.4'/><rect x='358.3' y='312.1' width='1.4' height='1.4'/><rect x='373.5' y='376.6' width='1.4' height='1.4'/><rect x='361.3' y='363.5' width='1.4' height='1.4'/><rect x='372.1' y='377.4' width='1.4' height='1.4'/><rect x='390.4' y='361.7' width='1.4' height='1.4'/><rect x='368.8' y='366.4' width='1.4' height='1.4'/><rect x='350.8' y='349.9' width='1.4' height='1.4'/><rect x='381.0' y='356.8' width='1.4' height='1.4'/><rect x='372.8' y='378.6' width='1.4' height='1.4'/><rect x='364.1' y='362.6' width='1.4' height='1.4'/><rect x='373.7' y='377.4' width='1.4' height='1.4'/><rect x='396.0' y='324.3' width='1.4' height='1.4'/><rect x='366.1' y='356.7' width='1.4' height='1.4'/><rect x='367.4' y='350.0' width='1.4' height='1.4'/><rect x='385.7' y='330.9' width='1.4' height='1.4'/><rect x='359.5' y='343.3' width='1.4' height='1.4'/><rect x='373.4' y='379.1' width='1.4' height='1.4'/><rect x='371.4' y='373.8' width='1.4' height='1.4'/><rect x='373.3' y='379.2' width='1.4' height='1.4'/><rect x='411.3' y='320.6' width='1.4' height='1.4'/><rect x='373.1' y='378.5' width='1.4' height='1.4'/><rect x='366.3' y='373.3' width='1.4' height='1.4'/><rect x='371.5' y='376.2' width='1.4' height='1.4'/><rect x='362.0' y='330.3' width='1.4' height='1.4'/><rect x='378.0' y='365.5' width='1.4' height='1.4'/><rect x='388.7' y='334.3' width='1.4' height='1.4'/><rect x='373.1' y='379.1' width='1.4' height='1.4'/><rect x='364.8' y='356.8' width='1.4' height='1.4'/><rect x='362.9' y='305.5' width='1.4' height='1.4'/><rect x='379.0' y='362.6' width='1.4' height='1.4'/><rect x='373.2' y='379.1' width='1.4' height='1.4'/><rect x='374.7' y='374.7' width='1.4' height='1.4'/><rect x='376.1' y='372.8' width='1.4' height='1.4'/><rect x='365.7' y='360.1' width='1.4' height='1.4'/><rect x='365.4' y='335.5' width='1.4' height='1.4'/><rect x='363.0' y='345.7' width='1.4' height='1.4'/><rect x='362.2' y='310.7' width='1.4' height='1.4'/><rect x='386.4' y='349.4' width='1.4' height='1.4'/><rect x='367.2' y='364.4' width='1.4' height='1.4'/><rect x='377.9' y='364.5' width='1.4' height='1.4'/><rect x='389.8' y='347.7' width='1.4' height='1.4'/><rect x='380.8' y='364.0' width='1.4' height='1.4'/><rect x='375.9' y='375.7' width='1.4' height='1.4'/><rect x='371.2' y='375.3' width='1.4' height='1.4'/><rect x='396.1' y='364.1' width='1.4' height='1.4'/><rect x='379.6' y='376.2' width='1.4' height='1.4'/><rect x='375.0' y='377.6' width='1.4' height='1.4'/><rect x='356.9' y='326.0' width='1.4' height='1.4'/><rect x='375.5' y='373.2' width='1.4' height='1.4'/><rect x='358.5' y='336.2' width='1.4' height='1.4'/><rect x='363.5' y='358.8' width='1.4' height='1.4'/><rect x='357.9' y='328.4' width='1.4' height='1.4'/><rect x='382.7' y='356.8' width='1.4' height='1.4'/><rect x='386.0' y='362.4' width='1.4' height='1.4'/><rect x='372.3' y='376.7' width='1.4' height='1.4'/><rect x='367.8' y='342.8' width='1.4' height='1.4'/><rect x='367.7' y='365.0' width='1.4' height='1.4'/><rect x='370.2' y='372.5' width='1.4' height='1.4'/><rect x='377.7' y='367.2' width='1.4' height='1.4'/><rect x='367.5' y='362.6' width='1.4' height='1.4'/><rect x='364.8' y='338.9' width='1.4' height='1.4'/><rect x='369.8' y='363.0' width='1.4' height='1.4'/><rect x='373.7' y='378.9' width='1.4' height='1.4'/><rect x='371.6' y='375.7' width='1.4' height='1.4'/><rect x='381.4' y='359.5' width='1.4' height='1.4'/><rect x='368.4' y='371.5' width='1.4' height='1.4'/><rect x='369.8' y='370.2' width='1.4' height='1.4'/><rect x='391.3' y='311.1' width='1.4' height='1.4'/><rect x='384.2' y='371.2' width='1.4' height='1.4'/><rect x='359.3' y='322.5' width='1.4' height='1.4'/><rect x='365.8' y='356.3' width='1.4' height='1.4'/><rect x='371.4' y='375.0' width='1.4' height='1.4'/><rect x='366.1' y='363.4' width='1.4' height='1.4'/><rect x='361.5' y='321.4' width='1.4' height='1.4'/><rect x='370.0' y='367.3' width='1.4' height='1.4'/><rect x='385.5' y='366.6' width='1.4' height='1.4'/><rect x='379.5' y='369.8' width='1.4' height='1.4'/><rect x='412.5' y='327.0' width='1.4' height='1.4'/><rect x='363.1' y='328.3' width='1.4' height='1.4'/><rect x='363.9' y='333.0' width='1.4' height='1.4'/><rect x='394.0' y='323.6' width='1.4' height='1.4'/><rect x='362.6' y='354.2' width='1.4' height='1.4'/><rect x='371.0' y='373.8' width='1.4' height='1.4'/><rect x='372.3' y='374.6' width='1.4' height='1.4'/><rect x='377.0' y='315.5' width='1.4' height='1.4'/><rect x='382.3' y='371.0' width='1.4' height='1.4'/><rect x='359.9' y='349.5' width='1.4' height='1.4'/><rect x='399.0' y='313.4' width='1.4' height='1.4'/><rect x='375.2' y='376.9' width='1.4' height='1.4'/><rect x='368.6' y='369.3' width='1.4' height='1.4'/><rect x='366.0' y='350.8' width='1.4' height='1.4'/><rect x='366.2' y='358.2' width='1.4' height='1.4'/><rect x='376.9' y='333.5' width='1.4' height='1.4'/><rect x='390.7' y='326.3' width='1.4' height='1.4'/><rect x='374.1' y='378.6' width='1.4' height='1.4'/><rect x='374.6' y='371.0' width='1.4' height='1.4'/><rect x='373.0' y='378.6' width='1.4' height='1.4'/><rect x='378.8' y='357.5' width='1.4' height='1.4'/><rect x='390.5' y='345.6' width='1.4' height='1.4'/><rect x='359.4' y='360.4' width='1.4' height='1.4'/><rect x='376.6' y='373.1' width='1.4' height='1.4'/><rect x='359.2' y='344.8' width='1.4' height='1.4'/><rect x='385.1' y='369.1' width='1.4' height='1.4'/><rect x='369.9' y='370.8' width='1.4' height='1.4'/><rect x='363.0' y='360.0' width='1.4' height='1.4'/><rect x='367.4' y='342.0' width='1.4' height='1.4'/><rect x='371.3' y='376.7' width='1.4' height='1.4'/><rect x='365.8' y='356.5' width='1.4' height='1.4'/><rect x='386.7' y='359.0' width='1.4' height='1.4'/><rect x='358.7' y='358.7' width='1.4' height='1.4'/><rect x='378.7' y='354.0' width='1.4' height='1.4'/><rect x='356.5' y='345.4' width='1.4' height='1.4'/><rect x='367.8' y='358.3' width='1.4' height='1.4'/><rect x='388.2' y='321.2' width='1.4' height='1.4'/><rect x='365.7' y='363.5' width='1.4' height='1.4'/><rect x='365.7' y='354.0' width='1.4' height='1.4'/><rect x='373.6' y='377.3' width='1.4' height='1.4'/><rect x='377.8' y='369.4' width='1.4' height='1.4'/><rect x='368.3' y='361.1' width='1.4' height='1.4'/><rect x='374.3' y='376.2' width='1.4' height='1.4'/><rect x='360.4' y='327.9' width='1.4' height='1.4'/><rect x='376.0' y='361.6' width='1.4' height='1.4'/><rect x='377.7' y='366.8' width='1.4' height='1.4'/><rect x='376.5' y='371.0' width='1.4' height='1.4'/><rect x='360.1' y='347.3' width='1.4' height='1.4'/><rect x='389.9' y='344.5' width='1.4' height='1.4'/><rect x='385.0' y='352.5' width='1.4' height='1.4'/><rect x='365.2' y='358.3' width='1.4' height='1.4'/><rect x='372.2' y='377.7' width='1.4' height='1.4'/><rect x='367.6' y='367.2' width='1.4' height='1.4'/><rect x='380.9' y='358.7' width='1.4' height='1.4'/><rect x='370.3' y='371.9' width='1.4' height='1.4'/><rect x='376.5' y='372.4' width='1.4' height='1.4'/><rect x='366.3' y='370.3' width='1.4' height='1.4'/><rect x='389.2' y='307.4' width='1.4' height='1.4'/><rect x='380.0' y='331.8' width='1.4' height='1.4'/><rect x='368.1' y='365.3' width='1.4' height='1.4'/><rect x='375.4' y='374.3' width='1.4' height='1.4'/><rect x='380.3' y='370.2' width='1.4' height='1.4'/><rect x='376.9' y='328.1' width='1.4' height='1.4'/><rect x='371.1' y='375.6' width='1.4' height='1.4'/><rect x='363.9' y='316.5' width='1.4' height='1.4'/><rect x='400.1' y='363.5' width='1.4' height='1.4'/><rect x='375.8' y='363.9' width='1.4' height='1.4'/><rect x='371.1' y='377.6' width='1.4' height='1.4'/><rect x='363.0' y='365.1' width='1.4' height='1.4'/><rect x='364.8' y='361.1' width='1.4' height='1.4'/><rect x='365.4' y='363.0' width='1.4' height='1.4'/><rect x='369.8' y='371.2' width='1.4' height='1.4'/><rect x='380.5' y='360.6' width='1.4' height='1.4'/><rect x='386.6' y='340.0' width='1.4' height='1.4'/><rect x='365.6' y='335.8' width='1.4' height='1.4'/><rect x='374.1' y='375.8' width='1.4' height='1.4'/><rect x='364.6' y='360.2' width='1.4' height='1.4'/><rect x='361.1' y='347.6' width='1.4' height='1.4'/><rect x='387.4' y='331.0' width='1.4' height='1.4'/><rect x='371.5' y='372.8' width='1.4' height='1.4'/><rect x='361.3' y='346.2' width='1.4' height='1.4'/><rect x='379.8' y='339.7' width='1.4' height='1.4'/><rect x='376.7' y='367.8' width='1.4' height='1.4'/><rect x='410.4' y='352.5' width='1.4' height='1.4'/><rect x='363.5' y='351.7' width='1.4' height='1.4'/><rect x='368.9' y='370.1' width='1.4' height='1.4'/><rect x='398.3' y='343.3' width='1.4' height='1.4'/><rect x='372.8' y='378.6' width='1.4' height='1.4'/><rect x='377.2' y='325.5' width='1.4' height='1.4'/><rect x='350.5' y='325.3' width='1.4' height='1.4'/><rect x='369.9' y='373.2' width='1.4' height='1.4'/><rect x='379.5' y='359.4' width='1.4' height='1.4'/><rect x='373.2' y='379.2' width='1.4' height='1.4'/><rect x='371.3' y='372.7' width='1.4' height='1.4'/><rect x='373.5' y='378.8' width='1.4' height='1.4'/><rect x='373.7' y='377.7' width='1.4' height='1.4'/><rect x='375.2' y='369.6' width='1.4' height='1.4'/><rect x='367.5' y='359.2' width='1.4' height='1.4'/><rect x='380.5' y='349.6' width='1.4' height='1.4'/><rect x='366.1' y='357.9' width='1.4' height='1.4'/><rect x='382.0' y='355.1' width='1.4' height='1.4'/><rect x='371.4' y='370.4' width='1.4' height='1.4'/><rect x='374.5' y='371.3' width='1.4' height='1.4'/><rect x='367.3' y='366.1' width='1.4' height='1.4'/><rect x='361.5' y='323.6' width='1.4' height='1.4'/><rect x='375.0' y='370.3' width='1.4' height='1.4'/><rect x='366.5' y='339.7' width='1.4' height='1.4'/><rect x='377.6' y='328.1' width='1.4' height='1.4'/><rect x='368.1' y='370.8' width='1.4' height='1.4'/><rect x='382.8' y='312.5' width='1.4' height='1.4'/><rect x='378.7' y='363.4' width='1.4' height='1.4'/><rect x='373.4' y='379.2' width='1.4' height='1.4'/><rect x='369.7' y='370.6' width='1.4' height='1.4'/><rect x='375.3' y='364.9' width='1.4' height='1.4'/><rect x='343.2' y='316.4' width='1.4' height='1.4'/><rect x='381.3' y='334.6' width='1.4' height='1.4'/><rect x='369.3' y='356.2' width='1.4' height='1.4'/><rect x='397.1' y='345.8' width='1.4' height='1.4'/><rect x='373.6' y='378.9' width='1.4' height='1.4'/><rect x='366.3' y='369.1' width='1.4' height='1.4'/><rect x='382.3' y='311.0' width='1.4' height='1.4'/><rect x='361.7' y='326.9' width='1.4' height='1.4'/><rect x='381.4' y='347.0' width='1.4' height='1.4'/><rect x='366.8' y='339.0' width='1.4' height='1.4'/><rect x='367.2' y='371.2' width='1.4' height='1.4'/><rect x='375.7' y='360.6' width='1.4' height='1.4'/><rect x='361.9' y='353.9' width='1.4' height='1.4'/><rect x='375.5' y='365.9' width='1.4' height='1.4'/><rect x='373.9' y='378.5' width='1.4' height='1.4'/><rect x='363.6' y='335.7' width='1.4' height='1.4'/><rect x='363.9' y='346.0' width='1.4' height='1.4'/><rect x='366.0' y='351.9' width='1.4' height='1.4'/><rect x='402.5' y='332.4' width='1.4' height='1.4'/><rect x='380.4' y='351.1' width='1.4' height='1.4'/><rect x='375.0' y='370.5' width='1.4' height='1.4'/><rect x='362.5' y='339.0' width='1.4' height='1.4'/><rect x='387.6' y='330.1' width='1.4' height='1.4'/><rect x='364.8' y='317.8' width='1.4' height='1.4'/><rect x='366.5' y='326.4' width='1.4' height='1.4'/><rect x='353.6' y='317.5' width='1.4' height='1.4'/><rect x='370.0' y='352.2' width='1.4' height='1.4'/><rect x='397.2' y='346.5' width='1.4' height='1.4'/><rect x='357.0' y='314.4' width='1.4' height='1.4'/><rect x='370.5' y='374.9' width='1.4' height='1.4'/><rect x='364.5' y='354.2' width='1.4' height='1.4'/><rect x='375.2' y='377.3' width='1.4' height='1.4'/><rect x='371.0' y='368.0' width='1.4' height='1.4'/><rect x='365.4' y='324.4' width='1.4' height='1.4'/><rect x='368.1' y='371.3' width='1.4' height='1.4'/><rect x='364.0' y='316.1' width='1.4' height='1.4'/><rect x='368.0' y='360.1' width='1.4' height='1.4'/><rect x='363.3' y='352.9' width='1.4' height='1.4'/><rect x='368.8' y='371.0' width='1.4' height='1.4'/><rect x='370.6' y='367.5' width='1.4' height='1.4'/><rect x='360.4' y='317.6' width='1.4' height='1.4'/><rect x='379.4' y='352.6' width='1.4' height='1.4'/><rect x='388.7' y='368.2' width='1.4' height='1.4'/><rect x='368.1' y='353.9' width='1.4' height='1.4'/><rect x='363.3' y='339.8' width='1.4' height='1.4'/><rect x='356.0' y='336.9' width='1.4' height='1.4'/><rect x='360.8' y='345.5' width='1.4' height='1.4'/><rect x='364.0' y='333.1' width='1.4' height='1.4'/><rect x='384.5' y='353.5' width='1.4' height='1.4'/><rect x='383.1' y='372.8' width='1.4' height='1.4'/><rect x='375.6' y='378.2' width='1.4' height='1.4'/><rect x='365.5' y='373.3' width='1.4' height='1.4'/><rect x='355.2' y='366.9' width='1.4' height='1.4'/><rect x='371.2' y='377.9' width='1.4' height='1.4'/><rect x='366.6' y='375.2' width='1.4' height='1.4'/><rect x='380.0' y='375.9' width='1.4' height='1.4'/><rect x='358.8' y='365.8' width='1.4' height='1.4'/><rect x='373.8' y='378.8' width='1.4' height='1.4'/><rect x='368.8' y='376.4' width='1.4' height='1.4'/><rect x='392.8' y='358.4' width='1.4' height='1.4'/><rect x='383.1' y='370.4' width='1.4' height='1.4'/><rect x='372.7' y='378.9' width='1.4' height='1.4'/><rect x='369.0' y='376.4' width='1.4' height='1.4'/><rect x='375.9' y='378.1' width='1.4' height='1.4'/><rect x='383.6' y='370.7' width='1.4' height='1.4'/><rect x='373.6' y='379.0' width='1.4' height='1.4'/><rect x='382.8' y='371.0' width='1.4' height='1.4'/><rect x='385.0' y='360.5' width='1.4' height='1.4'/><rect x='362.7' y='371.2' width='1.4' height='1.4'/><rect x='367.6' y='374.0' width='1.4' height='1.4'/><rect x='374.0' y='378.6' width='1.4' height='1.4'/><rect x='371.7' y='377.4' width='1.4' height='1.4'/><rect x='360.2' y='366.9' width='1.4' height='1.4'/><rect x='379.5' y='370.5' width='1.4' height='1.4'/><rect x='383.2' y='370.4' width='1.4' height='1.4'/><rect x='387.2' y='363.2' width='1.4' height='1.4'/><rect x='374.4' y='378.3' width='1.4' height='1.4'/><rect x='384.9' y='365.9' width='1.4' height='1.4'/><rect x='368.1' y='375.4' width='1.4' height='1.4'/><rect x='368.7' y='371.4' width='1.4' height='1.4'/><rect x='346.7' y='352.2' width='1.4' height='1.4'/><rect x='374.9' y='377.8' width='1.4' height='1.4'/><rect x='362.6' y='357.6' width='1.4' height='1.4'/><rect x='375.0' y='377.7' width='1.4' height='1.4'/><rect x='361.0' y='348.7' width='1.4' height='1.4'/><rect x='369.1' y='375.4' width='1.4' height='1.4'/><rect x='368.5' y='375.2' width='1.4' height='1.4'/><rect x='364.3' y='357.7' width='1.4' height='1.4'/><rect x='361.0' y='368.9' width='1.4' height='1.4'/><rect x='363.0' y='371.3' width='1.4' height='1.4'/><rect x='391.0' y='369.3' width='1.4' height='1.4'/><rect x='375.0' y='378.2' width='1.4' height='1.4'/><rect x='362.9' y='369.5' width='1.4' height='1.4'/><rect x='388.2' y='369.6' width='1.4' height='1.4'/><rect x='379.5' y='377.0' width='1.4' height='1.4'/><rect x='372.5' y='378.7' width='1.4' height='1.4'/><rect x='382.6' y='371.3' width='1.4' height='1.4'/><rect x='377.7' y='377.5' width='1.4' height='1.4'/><rect x='377.0' y='374.2' width='1.4' height='1.4'/><rect x='380.6' y='372.4' width='1.4' height='1.4'/><rect x='363.8' y='369.5' width='1.4' height='1.4'/><rect x='375.4' y='377.3' width='1.4' height='1.4'/><rect x='380.6' y='365.2' width='1.4' height='1.4'/><rect x='376.9' y='376.8' width='1.4' height='1.4'/><rect x='377.0' y='376.0' width='1.4' height='1.4'/><rect x='379.7' y='374.9' width='1.4' height='1.4'/><rect x='395.6' y='368.6' width='1.4' height='1.4'/><rect x='392.6' y='359.3' width='1.4' height='1.4'/><rect x='353.7' y='360.5' width='1.4' height='1.4'/><rect x='369.7' y='376.6' width='1.4' height='1.4'/><rect x='346.2' y='352.4' width='1.4' height='1.4'/><rect x='383.2' y='370.1' width='1.4' height='1.4'/><rect x='370.7' y='378.1' width='1.4' height='1.4'/><rect x='383.8' y='361.5' width='1.4' height='1.4'/><rect x='376.7' y='377.2' width='1.4' height='1.4'/><rect x='369.8' y='375.1' width='1.4' height='1.4'/><rect x='397.2' y='360.0' width='1.4' height='1.4'/><rect x='360.0' y='372.4' width='1.4' height='1.4'/><rect x='363.2' y='372.5' width='1.4' height='1.4'/><rect x='383.3' y='373.6' width='1.4' height='1.4'/><rect x='367.2' y='374.1' width='1.4' height='1.4'/><rect x='371.2' y='378.1' width='1.4' height='1.4'/><rect x='406.7' y='342.8' width='1.4' height='1.4'/><rect x='379.6' y='376.4' width='1.4' height='1.4'/><rect x='361.5' y='357.6' width='1.4' height='1.4'/><rect x='379.6' y='375.0' width='1.4' height='1.4'/><rect x='379.4' y='375.7' width='1.4' height='1.4'/><rect x='351.3' y='345.9' width='1.4' height='1.4'/><rect x='372.7' y='378.9' width='1.4' height='1.4'/><rect x='368.5' y='374.6' width='1.4' height='1.4'/><rect x='385.3' y='367.1' width='1.4' height='1.4'/><rect x='373.7' y='379.1' width='1.4' height='1.4'/><rect x='372.2' y='378.1' width='1.4' height='1.4'/><rect x='366.0' y='372.5' width='1.4' height='1.4'/><rect x='364.5' y='368.5' width='1.4' height='1.4'/><rect x='368.7' y='374.9' width='1.4' height='1.4'/><rect x='358.4' y='357.3' width='1.4' height='1.4'/><rect x='385.8' y='369.3' width='1.4' height='1.4'/><rect x='380.8' y='374.2' width='1.4' height='1.4'/><rect x='378.2' y='375.5' width='1.4' height='1.4'/><rect x='379.2' y='374.4' width='1.4' height='1.4'/><rect x='373.7' y='378.9' width='1.4' height='1.4'/><rect x='337.1' y='352.3' width='1.4' height='1.4'/><rect x='387.1' y='363.7' width='1.4' height='1.4'/><rect x='375.9' y='377.3' width='1.4' height='1.4'/><rect x='378.3' y='376.4' width='1.4' height='1.4'/><rect x='384.2' y='373.3' width='1.4' height='1.4'/><rect x='366.0' y='374.0' width='1.4' height='1.4'/><rect x='365.9' y='375.7' width='1.4' height='1.4'/><rect x='362.4' y='373.3' width='1.4' height='1.4'/><rect x='374.4' y='378.2' width='1.4' height='1.4'/><rect x='367.0' y='373.8' width='1.4' height='1.4'/><rect x='349.4' y='365.8' width='1.4' height='1.4'/><rect x='377.5' y='375.0' width='1.4' height='1.4'/><rect x='393.5' y='357.3' width='1.4' height='1.4'/><rect x='363.9' y='371.3' width='1.4' height='1.4'/><rect x='366.6' y='376.2' width='1.4' height='1.4'/><rect x='379.0' y='376.8' width='1.4' height='1.4'/><rect x='352.8' y='356.9' width='1.4' height='1.4'/><rect x='400.3' y='355.3' width='1.4' height='1.4'/><rect x='371.1' y='377.9' width='1.4' height='1.4'/><rect x='343.9' y='359.0' width='1.4' height='1.4'/><rect x='401.3' y='360.5' width='1.4' height='1.4'/><rect x='409.3' y='349.8' width='1.4' height='1.4'/><rect x='356.6' y='340.0' width='1.4' height='1.4'/><rect x='372.8' y='378.9' width='1.4' height='1.4'/><rect x='374.1' y='378.8' width='1.4' height='1.4'/><rect x='378.1' y='375.5' width='1.4' height='1.4'/><rect x='390.2' y='352.4' width='1.4' height='1.4'/><rect x='356.9' y='362.7' width='1.4' height='1.4'/><rect x='376.5' y='376.4' width='1.4' height='1.4'/><rect x='370.4' y='377.9' width='1.4' height='1.4'/><rect x='369.3' y='374.7' width='1.4' height='1.4'/><rect x='393.0' y='364.2' width='1.4' height='1.4'/><rect x='367.7' y='374.9' width='1.4' height='1.4'/><rect x='347.1' y='356.5' width='1.4' height='1.4'/><rect x='406.0' y='367.3' width='1.4' height='1.4'/><rect x='369.7' y='374.6' width='1.4' height='1.4'/><rect x='394.4' y='370.1' width='1.4' height='1.4'/><rect x='357.6' y='367.8' width='1.4' height='1.4'/><rect x='366.5' y='367.9' width='1.4' height='1.4'/><rect x='384.7' y='360.1' width='1.4' height='1.4'/><rect x='361.3' y='361.0' width='1.4' height='1.4'/><rect x='386.4' y='367.3' width='1.4' height='1.4'/><rect x='351.6' y='370.4' width='1.4' height='1.4'/><rect x='379.4' y='375.1' width='1.4' height='1.4'/><rect x='366.9' y='375.9' width='1.4' height='1.4'/><rect x='359.3' y='363.0' width='1.4' height='1.4'/><rect x='390.2' y='354.4' width='1.4' height='1.4'/><rect x='383.6' y='369.6' width='1.4' height='1.4'/><rect x='373.9' y='378.9' width='1.4' height='1.4'/><rect x='361.2' y='364.4' width='1.4' height='1.4'/><rect x='377.5' y='375.4' width='1.4' height='1.4'/><rect x='376.0' y='376.2' width='1.4' height='1.4'/><rect x='380.0' y='374.5' width='1.4' height='1.4'/><rect x='342.8' y='359.1' width='1.4' height='1.4'/><rect x='387.7' y='371.5' width='1.4' height='1.4'/><rect x='370.1' y='375.9' width='1.4' height='1.4'/><rect x='369.6' y='376.9' width='1.4' height='1.4'/><rect x='386.7' y='366.0' width='1.4' height='1.4'/><rect x='370.8' y='377.2' width='1.4' height='1.4'/><rect x='390.9' y='360.2' width='1.4' height='1.4'/><rect x='375.2' y='378.0' width='1.4' height='1.4'/><rect x='372.2' y='378.8' width='1.4' height='1.4'/><rect x='379.9' y='375.5' width='1.4' height='1.4'/><rect x='360.2' y='367.5' width='1.4' height='1.4'/><rect x='370.1' y='376.5' width='1.4' height='1.4'/><rect x='372.5' y='378.9' width='1.4' height='1.4'/><rect x='361.0' y='373.7' width='1.4' height='1.4'/><rect x='374.3' y='377.7' width='1.4' height='1.4'/><rect x='381.6' y='366.9' width='1.4' height='1.4'/><rect x='391.6' y='355.5' width='1.4' height='1.4'/><rect x='383.4' y='364.1' width='1.4' height='1.4'/><rect x='374.7' y='378.6' width='1.4' height='1.4'/><rect x='375.8' y='378.2' width='1.4' height='1.4'/><rect x='372.3' y='378.8' width='1.4' height='1.4'/><rect x='375.0' y='378.5' width='1.4' height='1.4'/><rect x='382.4' y='369.8' width='1.4' height='1.4'/><rect x='371.0' y='376.5' width='1.4' height='1.4'/><rect x='364.8' y='366.9' width='1.4' height='1.4'/><rect x='368.0' y='374.1' width='1.4' height='1.4'/><rect x='357.4' y='344.8' width='1.4' height='1.4'/><rect x='365.6' y='368.9' width='1.4' height='1.4'/><rect x='378.2' y='374.7' width='1.4' height='1.4'/><rect x='362.0' y='366.1' width='1.4' height='1.4'/><rect x='367.8' y='369.4' width='1.4' height='1.4'/><rect x='372.7' y='379.0' width='1.4' height='1.4'/><rect x='368.6' y='371.9' width='1.4' height='1.4'/><rect x='363.7' y='363.9' width='1.4' height='1.4'/><rect x='360.8' y='369.7' width='1.4' height='1.4'/><rect x='392.4' y='343.5' width='1.4' height='1.4'/><rect x='385.9' y='362.1' width='1.4' height='1.4'/><rect x='372.7' y='378.9' width='1.4' height='1.4'/><rect x='383.1' y='360.9' width='1.4' height='1.4'/><rect x='385.8' y='359.2' width='1.4' height='1.4'/><rect x='361.2' y='358.8' width='1.4' height='1.4'/><rect x='356.3' y='366.8' width='1.4' height='1.4'/><rect x='387.4' y='368.7' width='1.4' height='1.4'/><rect x='363.5' y='367.0' width='1.4' height='1.4'/><rect x='376.1' y='376.8' width='1.4' height='1.4'/><rect x='372.5' y='378.6' width='1.4' height='1.4'/><rect x='372.7' y='378.6' width='1.4' height='1.4'/><rect x='345.4' y='354.5' width='1.4' height='1.4'/><rect x='349.1' y='353.1' width='1.4' height='1.4'/><rect x='363.9' y='369.3' width='1.4' height='1.4'/><rect x='382.2' y='371.1' width='1.4' height='1.4'/><rect x='386.5' y='357.6' width='1.4' height='1.4'/><rect x='370.2' y='376.1' width='1.4' height='1.4'/><rect x='368.1' y='373.9' width='1.4' height='1.4'/><rect x='362.3' y='375.2' width='1.4' height='1.4'/><rect x='371.9' y='377.1' width='1.4' height='1.4'/><rect x='354.2' y='353.6' width='1.4' height='1.4'/><rect x='382.9' y='373.5' width='1.4' height='1.4'/><rect x='374.7' y='378.7' width='1.4' height='1.4'/><rect x='379.8' y='374.5' width='1.4' height='1.4'/><rect x='369.0' y='375.2' width='1.4' height='1.4'/><rect x='358.7' y='367.0' width='1.4' height='1.4'/><rect x='374.5' y='378.4' width='1.4' height='1.4'/><rect x='377.9' y='376.6' width='1.4' height='1.4'/><rect x='369.3' y='375.3' width='1.4' height='1.4'/><rect x='395.3' y='367.1' width='1.4' height='1.4'/><rect x='370.1' y='376.1' width='1.4' height='1.4'/><rect x='390.4' y='370.2' width='1.4' height='1.4'/><rect x='391.5' y='362.9' width='1.4' height='1.4'/><rect x='406.0' y='338.9' width='1.4' height='1.4'/><rect x='390.0' y='365.7' width='1.4' height='1.4'/><rect x='377.4' y='377.3' width='1.4' height='1.4'/><rect x='366.5' y='370.9' width='1.4' height='1.4'/><rect x='341.8' y='323.5' width='1.4' height='1.4'/><rect x='377.8' y='375.6' width='1.4' height='1.4'/><rect x='361.1' y='359.3' width='1.4' height='1.4'/><rect x='384.8' y='368.0' width='1.4' height='1.4'/><rect x='371.6' y='378.1' width='1.4' height='1.4'/><rect x='369.7' y='376.5' width='1.4' height='1.4'/><rect x='364.2' y='374.4' width='1.4' height='1.4'/><rect x='388.5' y='363.7' width='1.4' height='1.4'/><rect x='356.2' y='361.0' width='1.4' height='1.4'/><rect x='349.7' y='359.6' width='1.4' height='1.4'/><rect x='371.2' y='377.4' width='1.4' height='1.4'/><rect x='376.5' y='377.1' width='1.4' height='1.4'/><rect x='365.3' y='362.8' width='1.4' height='1.4'/><rect x='386.4' y='368.0' width='1.4' height='1.4'/><rect x='374.9' y='378.1' width='1.4' height='1.4'/><rect x='369.6' y='377.0' width='1.4' height='1.4'/><rect x='373.0' y='379.0' width='1.4' height='1.4'/><rect x='362.5' y='372.3' width='1.4' height='1.4'/><rect x='370.7' y='377.5' width='1.4' height='1.4'/><rect x='362.6' y='371.8' width='1.4' height='1.4'/><rect x='366.1' y='372.7' width='1.4' height='1.4'/><rect x='374.9' y='376.5' width='1.4' height='1.4'/><rect x='372.6' y='378.9' width='1.4' height='1.4'/><rect x='374.7' y='378.3' width='1.4' height='1.4'/><rect x='387.7' y='372.0' width='1.4' height='1.4'/><rect x='369.8' y='375.6' width='1.4' height='1.4'/><rect x='356.9' y='364.4' width='1.4' height='1.4'/><rect x='386.5' y='371.7' width='1.4' height='1.4'/><rect x='382.3' y='368.5' width='1.4' height='1.4'/><rect x='368.8' y='374.1' width='1.4' height='1.4'/><rect x='358.7' y='356.6' width='1.4' height='1.4'/><rect x='384.9' y='368.0' width='1.4' height='1.4'/><rect x='346.0' y='365.0' width='1.4' height='1.4'/><rect x='352.0' y='353.7' width='1.4' height='1.4'/><rect x='350.9' y='362.9' width='1.4' height='1.4'/><rect x='344.8' y='352.9' width='1.4' height='1.4'/><rect x='379.9' y='371.3' width='1.4' height='1.4'/><rect x='366.5' y='367.5' width='1.4' height='1.4'/><rect x='374.1' y='378.8' width='1.4' height='1.4'/><rect x='372.0' y='377.7' width='1.4' height='1.4'/><rect x='384.4' y='368.5' width='1.4' height='1.4'/><rect x='377.8' y='374.9' width='1.4' height='1.4'/><rect x='372.0' y='378.7' width='1.4' height='1.4'/><rect x='374.6' y='378.6' width='1.4' height='1.4'/><rect x='370.4' y='376.2' width='1.4' height='1.4'/><rect x='373.8' y='378.8' width='1.4' height='1.4'/><rect x='375.8' y='377.1' width='1.4' height='1.4'/><rect x='349.9' y='362.7' width='1.4' height='1.4'/><rect x='341.3' y='339.5' width='1.4' height='1.4'/><rect x='384.0' y='372.2' width='1.4' height='1.4'/><rect x='376.0' y='378.1' width='1.4' height='1.4'/><rect x='397.4' y='365.7' width='1.4' height='1.4'/><rect x='371.1' y='377.9' width='1.4' height='1.4'/><rect x='361.0' y='366.6' width='1.4' height='1.4'/><rect x='371.9' y='376.1' width='1.4' height='1.4'/><rect x='367.5' y='372.0' width='1.4' height='1.4'/><rect x='387.3' y='369.3' width='1.4' height='1.4'/><rect x='353.0' y='352.2' width='1.4' height='1.4'/><rect x='376.2' y='377.2' width='1.4' height='1.4'/><rect x='395.8' y='369.1' width='1.4' height='1.4'/><rect x='380.2' y='372.2' width='1.4' height='1.4'/><rect x='371.3' y='377.4' width='1.4' height='1.4'/><rect x='369.5' y='373.7' width='1.4' height='1.4'/><rect x='364.7' y='372.9' width='1.4' height='1.4'/><rect x='359.8' y='369.6' width='1.4' height='1.4'/><rect x='343.4' y='332.7' width='1.4' height='1.4'/><rect x='375.4' y='378.1' width='1.4' height='1.4'/><rect x='374.5' y='378.5' width='1.4' height='1.4'/><rect x='366.6' y='374.2' width='1.4' height='1.4'/><rect x='377.8' y='376.8' width='1.4' height='1.4'/><rect x='376.1' y='377.6' width='1.4' height='1.4'/><rect x='367.0' y='372.7' width='1.4' height='1.4'/><rect x='373.6' y='379.1' width='1.4' height='1.4'/><rect x='382.7' y='370.5' width='1.4' height='1.4'/><rect x='378.2' y='376.5' width='1.4' height='1.4'/><rect x='371.5' y='378.1' width='1.4' height='1.4'/><rect x='382.7' y='370.0' width='1.4' height='1.4'/><rect x='373.9' y='379.0' width='1.4' height='1.4'/><rect x='371.3' y='377.3' width='1.4' height='1.4'/><rect x='391.4' y='367.7' width='1.4' height='1.4'/><rect x='381.1' y='371.5' width='1.4' height='1.4'/><rect x='368.6' y='374.2' width='1.4' height='1.4'/><rect x='361.8' y='367.2' width='1.4' height='1.4'/><rect x='363.5' y='368.6' width='1.4' height='1.4'/><rect x='356.0' y='356.3' width='1.4' height='1.4'/><rect x='367.5' y='373.1' width='1.4' height='1.4'/><rect x='393.8' y='336.2' width='1.4' height='1.4'/><rect x='396.9' y='359.0' width='1.4' height='1.4'/><rect x='366.6' y='375.0' width='1.4' height='1.4'/><rect x='385.1' y='359.1' width='1.4' height='1.4'/><rect x='364.3' y='366.2' width='1.4' height='1.4'/><rect x='366.3' y='372.8' width='1.4' height='1.4'/><rect x='381.7' y='372.4' width='1.4' height='1.4'/><rect x='382.4' y='369.6' width='1.4' height='1.4'/><rect x='376.4' y='376.1' width='1.4' height='1.4'/><rect x='365.5' y='373.8' width='1.4' height='1.4'/><rect x='385.4' y='366.0' width='1.4' height='1.4'/><rect x='369.0' y='376.4' width='1.4' height='1.4'/><rect x='381.3' y='375.1' width='1.4' height='1.4'/><rect x='369.1' y='376.1' width='1.4' height='1.4'/><rect x='385.9' y='371.3' width='1.4' height='1.4'/><rect x='374.3' y='378.3' width='1.4' height='1.4'/><rect x='370.0' y='375.4' width='1.4' height='1.4'/><rect x='383.4' y='372.3' width='1.4' height='1.4'/><rect x='369.7' y='374.4' width='1.4' height='1.4'/><rect x='355.5' y='346.4' width='1.4' height='1.4'/><rect x='376.7' y='375.3' width='1.4' height='1.4'/><rect x='375.2' y='377.3' width='1.4' height='1.4'/><rect x='362.4' y='334.8' width='1.4' height='1.4'/><rect x='369.6' y='377.5' width='1.4' height='1.4'/><rect x='370.7' y='376.4' width='1.4' height='1.4'/><rect x='363.7' y='364.8' width='1.4' height='1.4'/><rect x='387.3' y='369.1' width='1.4' height='1.4'/><rect x='364.8' y='363.7' width='1.4' height='1.4'/><rect x='369.7' y='377.4' width='1.4' height='1.4'/><rect x='369.9' y='377.8' width='1.4' height='1.4'/><rect x='364.4' y='360.5' width='1.4' height='1.4'/><rect x='365.0' y='367.1' width='1.4' height='1.4'/><rect x='362.8' y='373.7' width='1.4' height='1.4'/><rect x='387.7' y='369.2' width='1.4' height='1.4'/><rect x='386.8' y='366.0' width='1.4' height='1.4'/><rect x='369.5' y='375.1' width='1.4' height='1.4'/><rect x='381.0' y='372.8' width='1.4' height='1.4'/><rect x='376.0' y='377.8' width='1.4' height='1.4'/><rect x='374.5' y='378.7' width='1.4' height='1.4'/><rect x='378.7' y='375.8' width='1.4' height='1.4'/><rect x='370.4' y='375.0' width='1.4' height='1.4'/><rect x='369.3' y='376.7' width='1.4' height='1.4'/><rect x='374.8' y='376.8' width='1.4' height='1.4'/><rect x='375.1' y='378.0' width='1.4' height='1.4'/><rect x='365.9' y='373.3' width='1.4' height='1.4'/></g><path d='M341.88 227.60 L341.79 233.54 L341.71 239.02 L341.62 244.09 L341.54 248.79 L341.45 253.16 L341.37 257.24 L341.28 261.05 L341.20 264.62 L341.11 267.97 L341.03 271.12 L340.94 274.09 L340.86 276.89 L340.77 279.54 L340.69 282.05 L340.60 284.42 L340.52 286.68 L340.43 288.83 L340.35 290.87 L340.26 292.82 L340.18 294.68 L340.09 296.45 L340.01 298.15 L339.92 299.78 L339.84 301.33 L339.75 302.82 L339.67 304.26 L339.58 305.63 L339.50 306.95 L339.41 308.23 L339.33 309.45 L339.24 310.63 L339.15 311.77 L339.07 312.86 L338.98 313.92 L338.90 314.95 L338.81 315.93 L338.73 316.89 L338.64 317.81 L338.56 318.71 L338.56 318.71 L338.11 322.96 L337.67 326.59 L337.23 329.75 L336.78 332.51 L336.34 334.94 L335.89 337.10 L335.45 339.04 L335.00 340.78 L334.56 342.36 L334.11 343.79 L333.67 345.10 L333.23 346.30 L332.78 347.40 L332.34 348.42 L331.89 349.36 L331.45 350.24 L331.00 351.05 L330.56 351.81 L330.11 352.52 L329.67 353.19 L329.23 353.82 L328.78 354.41 L328.34 354.96 L327.89 355.49 L327.45 355.99 L327.00 356.46 L326.56 356.90 L326.12 357.33 L325.67 357.73 L325.23 358.12 L324.78 358.48 L324.34 358.83 L323.89 359.17 L323.45 359.49 L323.00 359.79 L322.56 360.09 L322.12 360.37 L321.67 360.64 L321.23 360.90 L320.78 361.15 L320.34 361.39 L319.89 361.62 L319.45 361.84 L319.00 362.06 L318.56 362.26 L318.12 362.46 L317.67 362.66 L317.23 362.84 L316.78 363.02 L316.34 363.20 L315.89 363.37 L315.45 363.53 L315.00 363.69 L314.56 363.85 L314.12 364.00 L313.67 364.14 L313.23 364.28 L312.78 364.42 L312.34 364.55 L311.89 364.68 L311.45 364.81 L311.01 364.93 L310.56 365.05 L310.12 365.16 L309.67 365.28 L309.23 365.39 L308.78 365.50 L308.34 365.60 L307.89 365.70 L307.45 365.80 L307.01 365.90 L306.56 365.99 L306.12 366.09 L305.67 366.18 L305.23 366.27 L304.78 366.35 L304.34 366.44 L303.89 366.52 L303.45 366.60' stroke='#4a4a4a' stroke-width='1.0' fill='none'/><path d='M406.12 227.60 L406.21 233.54 L406.29 239.02 L406.38 244.09 L406.46 248.79 L406.55 253.16 L406.63 257.24 L406.72 261.05 L406.80 264.62 L406.89 267.97 L406.97 271.12 L407.06 274.09 L407.14 276.89 L407.23 279.54 L407.31 282.05 L407.40 284.42 L407.48 286.68 L407.57 288.83 L407.65 290.87 L407.74 292.82 L407.82 294.68 L407.91 296.45 L407.99 298.15 L408.08 299.78 L408.16 301.33 L408.25 302.82 L408.33 304.26 L408.42 305.63 L408.50 306.95 L408.59 308.23 L408.67 309.45 L408.76 310.63 L408.85 311.77 L408.93 312.86 L409.02 313.92 L409.10 314.95 L409.19 315.93 L409.27 316.89 L409.36 317.81 L409.44 318.71 L409.44 318.71 L411.14 332.07 L412.85 340.22 L414.55 345.71 L416.26 349.66 L417.96 352.64 L419.66 354.96 L421.37 356.83 L423.07 358.36 L424.77 359.64 L426.48 360.72 L428.18 361.66 L429.88 362.46 L431.59 363.17 L433.29 363.79 L435.00 364.35 L436.70 364.85 L438.40 365.30 L440.11 365.70 L441.81 366.07 L443.51 366.41 L445.22 366.72 L446.92 367.00 L448.62 367.27 L450.33 367.51 L452.03 367.74 L453.73 367.95 L455.44 368.14 L457.14 368.33 L458.85 368.50 L460.55 368.66 L462.25 368.81 L463.96 368.96 L465.66 369.09 L467.36 369.22 L469.07 369.34 L470.77 369.46 L472.47 369.57 L474.18 369.67 L475.88 369.77 L477.59 369.87 L479.29 369.96 L480.99 370.05 L482.70 370.13 L484.40 370.21 L486.10 370.28 L487.81 370.36 L489.51 370.43 L491.21 370.50 L492.92 370.56 L494.62 370.62 L496.32 370.68 L498.03 370.74 L499.73 370.80 L501.44 370.85 L503.14 370.90 L504.84 370.95 L506.55 371.00 L508.25 371.05 L509.95 371.09 L511.66 371.14 L513.36 371.18 L515.06 371.22 L516.77 371.26 L518.47 371.30 L520.18 371.34 L521.88 371.37 L523.58 371.41 L525.29 371.44 L526.99 371.48 L528.69 371.51 L530.40 371.54 L532.10 371.57 L533.80 371.60 L535.51 371.63 L537.21 371.66 L538.91 371.69 L540.62 371.72 L542.32 371.74 L544.03 371.77' stroke='#4a4a4a' stroke-width='1.0' fill='none'/><g fill='#f2586e'><circle cx='460.6' cy='236.2' r='1.0'/><circle cx='441' cy='265.6' r='1.0'/><circle cx='515.9' cy='269.4' r='1.0'/><circle cx='507.1' cy='278.9' r='1.0'/><circle cx='473' cy='290.6' r='1.0'/><circle cx='433.8' cy='295.9' r='1.0'/><circle cx='426' cy='301.8' r='1.0'/><circle cx='430' cy='307.3' r='1.0'/><circle cx='429.1' cy='309.2' r='1.0'/><circle cx='429.5' cy='315.7' r='1.0'/><circle cx='440.3' cy='316.4' r='1.0'/><circle cx='480.9' cy='305.7' r='1.0'/><circle cx='495.2' cy='302.6' r='1.0'/><circle cx='499.2' cy='300.4' r='1.0'/><circle cx='536.2' cy='307.8' r='1.0'/><circle cx='432.4' cy='323.6' r='1.0'/><circle cx='413.9' cy='288.5' r='1.0'/><circle cx='408.1' cy='304' r='1.0'/><circle cx='430.5' cy='326.3' r='1.0'/><circle cx='415.4' cy='328.2' r='1.0'/><circle cx='412.9' cy='330.7' r='1.0'/><circle cx='410' cy='326.9' r='1.0'/><circle cx='415.5' cy='334.3' r='1.0'/></g><text x='401.8' y='287.0' font-family='"Liberation Sans", sans-serif' font-size='6' fill='#333' stroke='#333' stroke-width='0.1'>DNAJC5</text><text x='398' y='303.0' font-family='"Liberation Sans", sans-serif' font-size='6' fill='#333' stroke='#333' stroke-width='0.1'>CYB5B</text><text x='437.7' y='315.1' font-family='"Liberation Sans", sans-serif' font-size='6' fill='#333' stroke='#333' stroke-width='0.1'>TSPO</text><text x='399.5' y='325.90000000000003' font-family='"Liberation Sans", sans-serif' font-size='6' fill='#333' stroke='#333' stroke-width='0.1'>TUBA1C</text><text x='392' y='334.1' font-family='"Liberation Sans", sans-serif' font-size='6' fill='#333' stroke='#333' stroke-width='0.1'>RPLP1</text><text x='413.5' y='334.1' font-family='"Liberation Sans", sans-serif' font-size='6' fill='#333' stroke='#333' stroke-width='0.1'>PSAP</text><text x='430.5' y='333.1' font-family='"Liberation Sans", sans-serif' font-size='6' fill='#333' stroke='#333' stroke-width='0.1'>TUBB8</text><text x='413.0' y='340.70000000000005' font-family='"Liberation Sans", sans-serif' font-size='6' fill='#333' stroke='#333' stroke-width='0.1'>RAB6C</text><line x1='303.3' y1='227.3' x2='303.3' y2='389.5' stroke='#383838' stroke-width='1.6'/><line x1='302.5' y1='389.5' x2='544.0255' y2='389.5' stroke='#383838' stroke-width='1.6'/><g stroke='#383838' stroke-width='0.8'><line x1='301.3' y1='380.00' x2='303.3' y2='380.00'/><line x1='301.3' y1='359.57' x2='303.3' y2='359.57'/><line x1='301.3' y1='339.14' x2='303.3' y2='339.14'/><line x1='301.3' y1='318.71' x2='303.3' y2='318.71'/><line x1='301.3' y1='298.28' x2='303.3' y2='298.28'/><line x1='301.3' y1='277.85' x2='303.3' y2='277.85'/><line x1='301.3' y1='257.42' x2='303.3' y2='257.42'/><line x1='301.3' y1='236.99' x2='303.3' y2='236.99'/><line x1='317.56' y1='389.5' x2='317.56' y2='391.3'/><line x1='345.78' y1='389.5' x2='345.78' y2='391.3'/><line x1='374.00' y1='389.5' x2='374.00' y2='391.3'/><line x1='402.22' y1='389.5' x2='402.22' y2='391.3'/><line x1='430.44' y1='389.5' x2='430.44' y2='391.3'/><line x1='458.66' y1='389.5' x2='458.66' y2='391.3'/><line x1='486.88' y1='389.5' x2='486.88' y2='391.3'/><line x1='515.10' y1='389.5' x2='515.10' y2='391.3'/><line x1='543.32' y1='389.5' x2='543.32' y2='391.3'/></g><g font-family='"Liberation Sans", sans-serif' font-size='7.8' fill='#333' stroke='#333' stroke-width='0.12'><text x='301.0' y='382.80' text-anchor='end'>0</text><text x='301.0' y='362.37' text-anchor='end'>1</text><text x='301.0' y='341.94' text-anchor='end'>2</text><text x='301.0' y='321.51' text-anchor='end'>3</text><text x='301.0' y='301.08' text-anchor='end'>4</text><text x='301.0' y='280.65' text-anchor='end'>5</text><text x='301.0' y='260.22' text-anchor='end'>6</text><text x='301.0' y='239.79' text-anchor='end'>7</text><text x='317.56' y='399.3' text-anchor='middle'>–4</text><text x='345.78' y='399.3' text-anchor='middle'>–2</text><text x='374.00' y='399.3' text-anchor='middle'>0</text><text x='402.22' y='399.3' text-anchor='middle'>2</text><text x='430.44' y='399.3' text-anchor='middle'>4</text><text x='458.66' y='399.3' text-anchor='middle'>6</text><text x='486.88' y='399.3' text-anchor='middle'>8</text><text x='515.10' y='399.3' text-anchor='middle'>10</text><text x='543.32' y='399.3' text-anchor='middle'>12</text></g><text x='422.8' y='413.8' font-family='"Liberation Sans", sans-serif' font-size='8.15' fill='#333' stroke='#333' stroke-width='0.12' text-anchor='middle'>–Log2 Fold change difference (Halo - Halo-VB-Cys C)</text><text transform='translate(289.40000000000003,307.7) rotate(-90)' font-family='"Liberation Sans", sans-serif' font-size='8.1' fill='#333' stroke='#333' stroke-width='0.12' text-anchor='middle'>–Log10 (p-value)</text>
</g>
</svg></body></html>
